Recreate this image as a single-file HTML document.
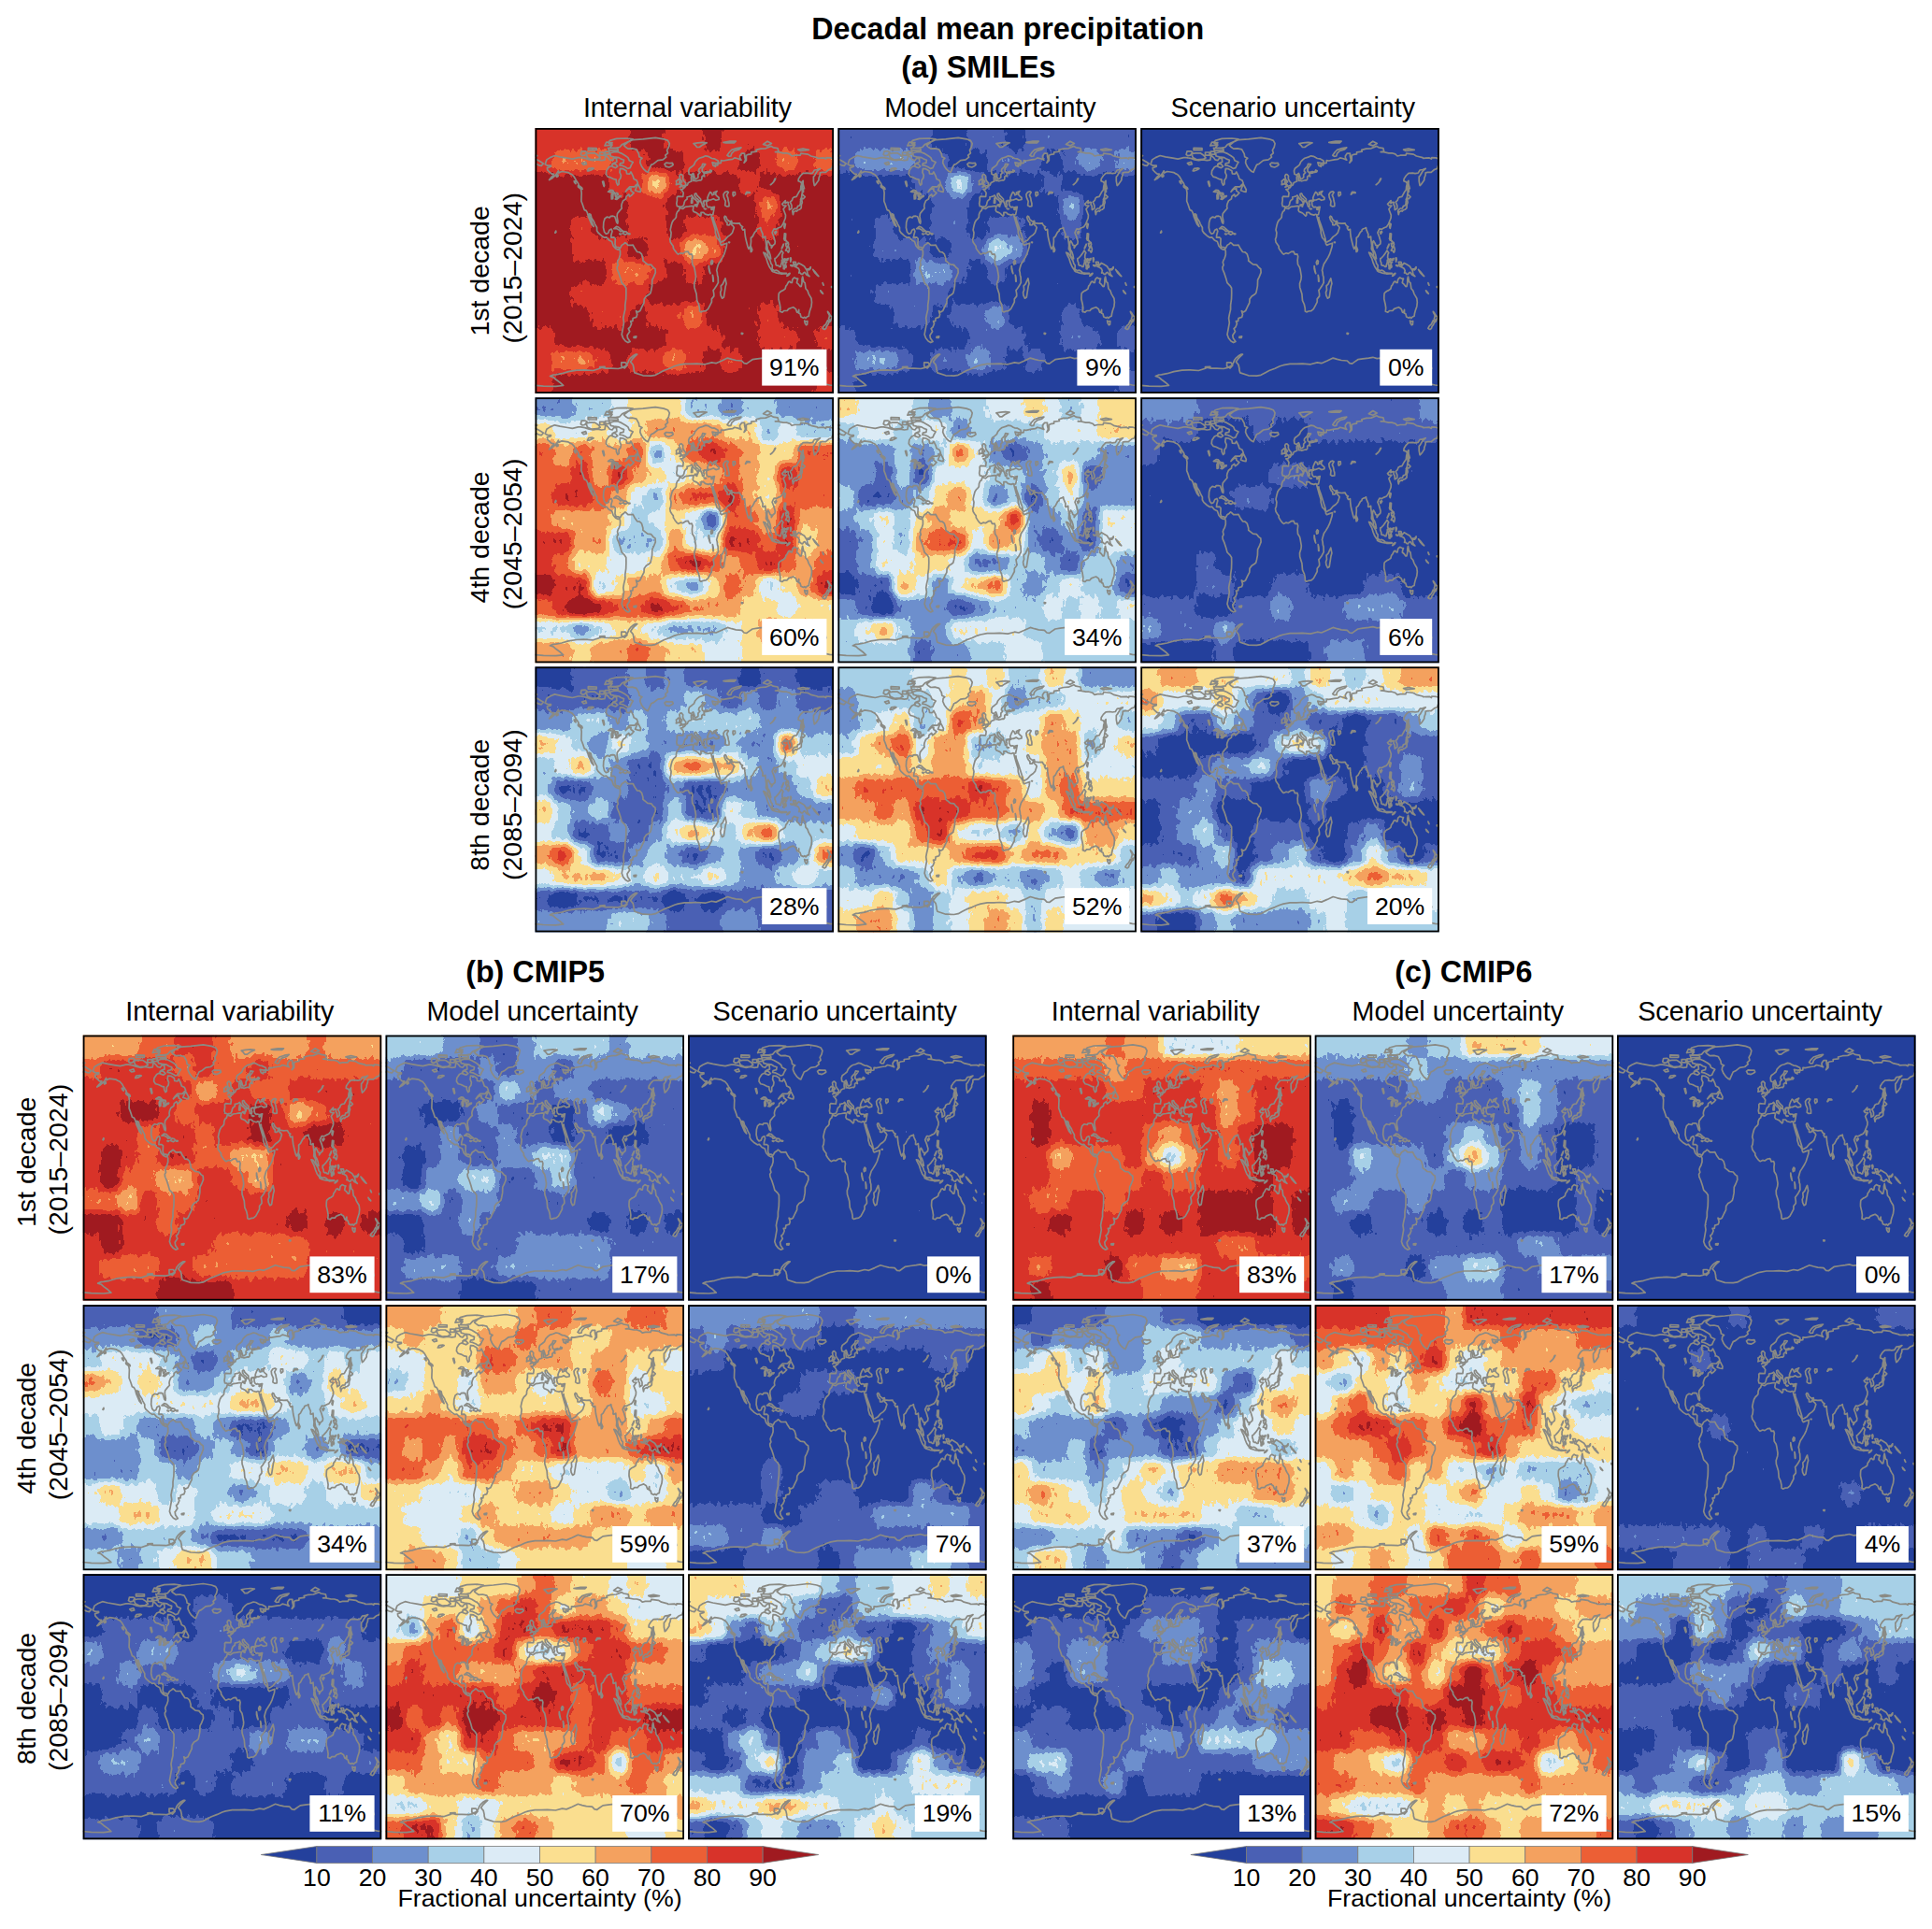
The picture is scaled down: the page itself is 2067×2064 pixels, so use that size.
<!DOCTYPE html><html><head><meta charset="utf-8"><title>Decadal mean precipitation</title>
<style>html,body{margin:0;padding:0;background:#fff}svg{display:block}text{font-family:"Liberation Sans",sans-serif;fill:#000}.b{font-weight:bold;font-size:32.3px}.t{font-size:28.7px}.r{font-size:28.5px}.s{font-size:26.7px}</style></head><body>
<svg width="2067" height="2064" viewBox="0 0 2067 2064">
<defs><filter id="q" x="0" y="0" width="100%" height="100%" color-interpolation-filters="sRGB" filterUnits="objectBoundingBox"><feGaussianBlur in="SourceGraphic" stdDeviation="5.5" result="b0"/><feGaussianBlur in="SourceGraphic" stdDeviation="16" result="b1"/><feComposite in="b0" in2="b1" operator="arithmetic" k1="0" k2="1.5" k3="-0.5" k4="0" result="b"/><feTurbulence type="fractalNoise" baseFrequency="0.21 0.12" numOctaves="2" seed="7" result="n"/><feColorMatrix in="n" type="matrix" values="1 0 0 0 0 1 0 0 0 0 1 0 0 0 0 0 0 0 0 1" result="n1"/><feComposite in="b" in2="n1" operator="arithmetic" k1="0" k2="1" k3="0.13" k4="-0.065"/><feComponentTransfer><feFuncR type="discrete" tableValues="0.1412 0.2902 0.4275 0.6588 0.8627 0.9843 0.9569 0.9255 0.8471 0.6275"/><feFuncG type="discrete" tableValues="0.2510 0.3765 0.5608 0.8157 0.9216 0.8745 0.6314 0.3725 0.2000 0.1020"/><feFuncB type="discrete" tableValues="0.6118 0.7059 0.8078 0.9098 0.9647 0.5647 0.3725 0.2078 0.1647 0.1255"/></feComponentTransfer></filter>
<path id="cst" d="M10.7 38.7L12.4 33.9L16.0 31.6L20.9 29.5L26.6 30.8L34.6 32.2L39.9 33.1L46.1 31.6L48.8 31.6L53.2 32.3L57.7 33.9L62.1 34.7L66.6 33.9L71.0 34.7L74.5 34.2L75.4 29.2L78.1 31.6L79.9 33.9L82.5 34.7L84.3 32.3L87.0 32.3L87.4 36.3L83.4 37.9L82.5 40.2L79.0 41.8L76.3 45.8L75.9 49.4L77.7 52.1L80.8 52.9L84.3 54.7L86.7 55.2L87.0 58.4L88.3 61.1L89.6 60.0L89.6 56.0L91.4 53.6L91.9 50.5L90.5 47.3L91.0 43.4L94.1 43.7L97.6 45.8L98.1 48.9L101.2 49.2L102.5 46.9L104.7 51.3L105.6 54.4L108.7 56.0L110.0 59.2L107.8 61.1L106.5 62.8L101.2 62.8L98.5 65.5L96.7 68.2L99.4 65.5L102.5 64.7L102.5 67.1L105.6 69.4L103.4 71.8L101.2 73.4L100.3 71.0L97.6 73.1L97.2 75.7L94.1 77.9L92.7 81.3L92.3 83.6L92.7 86.0L90.5 88.4L88.0 91.5L87.6 94.7L88.6 100.2L88.3 102.2L87.2 101.0L86.3 97.8L85.2 94.7L83.4 94.2L80.8 94.4L79.9 95.9L76.8 95.1L74.5 97.0L73.3 101.0L73.0 106.5L74.1 111.2L75.9 113.3L78.1 112.5L79.4 109.2L81.6 108.1L82.5 110.4L81.4 114.4L81.2 117.1L84.3 116.9L85.8 118.3L85.5 124.6L86.5 127.3L88.8 127.5L91.0 128.6L92.7 125.4L95.0 123.9L96.3 122.6L97.6 123.5L99.4 125.3L103.0 125.3L104.7 125.1L106.5 128.6L109.2 132.5L111.8 132.8L114.0 134.9L115.4 139.6L115.4 142.0L117.1 143.3L120.3 145.9L124.2 146.4L126.5 149.3L128.5 150.7L128.8 154.6L126.9 159.4L125.3 162.5L125.1 168.8L124.2 173.6L123.4 176.7L121.6 178.3L118.9 179.9L116.7 183.0L116.5 187.0L114.5 190.9L112.3 195.6L110.0 196.9L108.0 195.6L109.2 199.6L108.3 202.4L104.7 203.5L104.3 206.7L102.1 206.7L103.1 209.4L101.6 213.0L99.8 214.6L101.2 217.7L98.5 221.7L99.0 224.8L101.6 228.6L99.4 229.6L96.7 228.0L94.1 224.8L92.7 220.9L93.6 216.2L95.0 208.3L94.3 203.5L95.0 199.6L96.3 194.1L96.3 189.3L97.2 183.0L97.4 176.7L97.3 171.2L95.8 168.8L92.7 165.7L91.4 160.9L89.6 155.4L87.9 151.5L87.6 148.8L88.8 146.7L88.0 143.6L88.8 141.2L89.8 139.6L91.0 135.7L91.0 131.7L90.1 129.4L88.8 130.2L86.1 128.9L83.7 126.2L82.1 121.5L79.0 119.9L76.3 116.8L74.1 117.2L71.0 115.2L67.5 112.0L66.1 109.7L66.1 106.5L63.9 102.6L63.0 100.2L60.4 96.2L59.5 92.6L57.9 91.8L58.1 94.7L59.9 98.6L61.2 101.8L62.6 105.4L60.4 102.9L58.6 98.6L57.2 95.5L55.9 90.7L54.6 88.4L52.7 87.6L51.5 83.9L50.6 81.3L49.4 78.3L49.5 74.2L49.7 69.4L49.1 65.6L50.6 65.5L50.1 63.9L47.0 61.8L46.1 59.2L43.9 56.0L41.7 52.1L39.5 49.7L37.7 48.9L35.5 47.6L32.0 47.0L28.4 46.5L25.3 48.1L24.9 45.8L23.1 48.9L20.9 51.3L17.8 54.0L15.1 55.5L16.9 53.2L19.5 50.5L20.1 49.2L17.8 49.2L16.0 47.6L13.3 45.0L12.9 42.6L16.9 41.3L16.9 40.2L13.3 40.2L10.7 38.7M95.0 18.6L99.4 15.0L104.7 12.6L115.4 11.8L128.7 10.3L137.6 11.8L142.0 13.4L143.8 16.6L142.9 20.5L141.1 23.7L142.0 26.8L139.3 29.2L140.2 31.1L136.7 33.9L131.3 34.7L126.9 38.2L124.2 39.4L122.0 44.2L120.7 47.3L118.9 46.5L116.3 44.2L114.0 41.0L112.3 37.1L112.7 33.9L114.5 32.3L111.4 30.8L110.9 27.6L108.3 22.9L103.8 21.8L99.4 22.1L96.7 20.2L95.0 18.6M88.8 25.7L92.3 27.1L96.7 29.7L99.4 31.6L100.7 34.7L104.7 36.6L103.0 39.4L101.6 42.6L99.0 43.4L96.7 41.8L93.2 40.2L90.5 39.8L91.0 37.9L94.5 37.1L95.0 34.2L91.9 33.1L89.6 31.6L84.3 30.8L80.8 30.0L80.3 26.8L84.3 25.7L88.8 25.7M55.9 31.6L60.4 33.9L66.6 33.4L69.7 31.9L67.5 29.2L63.9 26.8L58.6 26.8L54.6 27.6L55.9 31.6M48.8 28.4L50.6 29.7L53.2 29.2L55.5 26.0L53.7 24.8L49.7 24.9L48.8 28.4M79.9 21.3L86.1 21.3L90.5 20.5L93.2 17.4L100.3 14.2L104.7 11.8L97.6 11.0L87.0 11.4L79.9 13.4L78.1 15.8L82.5 18.1L79.9 21.3M78.1 21.3L88.3 21.8L88.8 24.1L79.0 24.1L78.1 21.3M56.8 23.7L65.7 23.7L65.7 21.6L56.8 21.3L56.8 23.7M74.5 18.9L81.6 18.1L82.5 15.5L76.3 15.0L74.5 18.9M75.0 28.1L79.4 28.1L79.4 25.2L75.0 25.2L75.0 28.1M69.2 29.2L73.7 29.2L73.7 26.0L69.2 26.0L69.2 29.2M82.5 38.7L85.6 38.2L88.3 41.0L86.1 42.6L82.5 41.3L82.5 38.7M107.1 66.7L110.0 67.8L112.7 68.3L113.0 66.0L110.3 60.7L108.9 62.3L107.1 66.7M84.3 107.6L87.0 105.4L89.2 106.0L92.3 108.9L93.9 110.1L91.0 110.6L90.1 109.2L87.0 107.6L84.3 107.6M93.7 112.8L95.4 110.6L97.8 111.1L99.0 112.7L96.7 114.1L93.7 112.8M138.5 38.7L140.2 37.2L143.8 37.6L146.9 37.4L147.7 39.4L146.0 40.7L143.3 42.0L139.8 41.2L138.5 38.7M154.7 63.1L157.1 62.2L160.9 61.2L161.3 58.9L159.9 57.6L158.4 55.2L158.0 53.6L158.2 51.3L156.6 49.5L155.3 49.7L154.4 51.3L154.9 53.6L155.5 55.5L157.1 56.8L157.1 57.9L155.8 58.1L156.0 59.5L155.1 60.3L156.9 60.9L154.7 63.1M150.9 60.6L154.2 59.6L154.4 57.6L154.9 56.0L153.3 54.7L152.2 56.0L150.9 56.8L151.3 58.4L150.9 60.6M151.8 74.2L152.7 73.1L156.6 73.4L158.2 73.5L158.7 69.4L157.5 67.4L155.6 65.6L158.3 65.3L158.4 63.6L159.9 63.9L161.2 61.8L162.9 60.9L163.9 58.4L166.0 57.4L167.4 57.0L167.0 54.4L167.0 52.1L169.1 51.0L168.9 53.6L169.3 56.3L170.8 56.2L172.4 56.8L176.2 55.7L177.3 56.0L178.4 54.7L178.4 52.1L179.7 51.0L181.3 51.8L180.6 48.6L184.6 47.8L186.4 47.3L183.7 46.5L180.2 47.5L178.8 46.4L178.7 43.4L181.5 39.8L182.2 38.7L179.3 38.3L178.4 41.0L175.3 44.2L175.0 46.2L176.4 47.6L174.4 49.7L174.4 52.9L172.4 54.4L171.1 54.4L169.7 49.7L169.1 48.4L166.9 50.3L164.6 49.2L164.2 45.8L165.1 43.2L167.7 41.3L170.0 39.4L171.3 36.3L173.5 33.9L175.7 32.2L179.3 31.1L182.4 29.8L185.0 30.3L187.3 31.6L189.0 32.5L191.7 32.8L195.7 35.0L196.1 37.1L193.5 37.6L189.5 36.8L190.6 40.2L193.0 41.3L192.6 39.4L195.3 39.9L195.7 37.9L198.8 37.4L199.0 34.7L201.5 35.0L207.2 33.9L211.2 33.4L213.4 31.9L217.0 32.8L220.5 34.2L219.2 32.3L219.0 30.0L221.0 27.1L224.1 27.1L224.1 30.0L225.0 33.9L223.6 37.1L225.9 34.7L225.9 29.2L227.6 28.4L231.2 27.9L231.2 25.9L237.0 25.2L236.5 23.4L241.4 22.1L246.7 21.8L252.5 19.4L254.7 20.8L259.6 21.6L260.5 25.2L256.9 25.6L260.0 25.7L265.4 26.8L268.9 26.8L272.5 27.9L274.7 30.0L277.8 29.2L283.6 29.2L284.4 27.1L292.0 28.1L295.1 30.0L301.8 31.6L302.2 32.3L308.9 31.9L311.1 33.1L311.5 31.6L315.9 31.9L319.5 33.1M319.5 39.4L318.2 40.5L317.3 43.4L314.2 44.5L310.9 47.3L307.1 47.3L304.9 47.8L304.7 50.5L303.5 53.6L303.5 55.5L301.8 58.1L300.2 60.3L298.8 61.5L297.9 56.8L297.9 52.1L299.1 50.8L301.6 46.5L304.9 43.4L301.8 44.5L298.8 45.0L296.9 48.1L293.8 48.6L291.1 48.1L286.7 48.4L284.0 51.0L281.8 54.4L281.6 56.8L284.0 57.6L285.2 59.6L284.4 62.3L284.0 66.3L282.2 68.6L279.6 73.4L277.3 73.8L275.7 74.9L274.9 77.3L272.9 79.2L274.5 82.8L274.5 86.0L272.0 87.6L271.8 83.6L270.7 82.0L270.9 79.5L269.8 79.2L267.6 80.5L267.8 77.6L265.4 80.2L264.2 81.3L265.4 82.8L268.5 83.1L266.7 85.2L265.6 86.8L267.1 90.7L268.0 93.1L267.8 96.2L266.2 100.2L264.9 103.3L263.1 105.7L260.5 106.8L257.6 108.4L256.9 108.1L255.6 107.9L254.3 110.4L253.6 112.0L255.2 116.0L256.8 121.5L256.5 123.9L254.4 125.7L252.8 128.3L252.9 125.7L251.6 125.4L250.7 123.1L249.2 120.7L248.5 121.8L248.1 125.4L248.9 130.2L250.3 132.2L251.5 135.7L252.2 139.8L251.4 139.6L249.4 137.3L248.8 132.5L247.0 129.4L247.3 125.4L246.5 119.1L246.3 116.0L244.3 117.1L243.4 116.8L243.6 113.6L241.6 108.9L241.2 106.5L240.1 107.3L238.3 107.8L237.0 108.6L236.5 110.4L235.2 111.2L232.7 116.0L230.9 117.5L231.0 121.5L230.6 125.7L229.2 128.1L228.5 129.4L227.5 127.0L226.1 121.5L225.0 116.8L224.4 112.0L224.2 108.4L222.3 109.2L221.0 106.8L222.1 105.7L220.3 104.6L219.2 102.9L218.8 101.9L214.8 102.2L210.6 101.6L210.2 99.4L208.1 100.0L205.5 98.0L204.1 94.7L203.1 94.2L202.3 95.5L203.1 98.1L204.3 100.2L205.5 101.1L205.5 103.7L207.7 103.8L209.4 101.0L210.0 103.3L211.8 104.9L212.8 106.5L211.0 112.0L208.8 114.4L205.9 116.4L203.0 119.9L199.7 121.8L198.2 122.0L197.6 118.3L196.1 113.6L194.4 108.1L193.0 103.8L190.8 97.8L190.6 95.5L190.2 98.1L188.7 94.8L188.4 92.8L190.2 92.6L190.8 89.9L191.5 86.0L191.9 84.3L189.9 84.7L188.2 85.0L186.8 84.4L185.5 84.9L184.0 83.6L183.3 81.3L183.4 79.7L183.0 78.7L185.5 77.6L185.7 77.0L187.7 77.0L190.8 75.7L193.5 77.3L196.6 76.5L196.6 74.5L194.4 72.6L193.0 71.0L193.7 68.6L194.6 67.5L191.0 69.1L191.5 70.7L189.5 71.8L188.8 69.7L187.3 68.5L186.1 70.5L185.2 72.6L184.4 74.9L184.8 76.5L183.1 77.6L181.0 77.6L180.9 78.9L180.0 78.3L180.0 80.0L181.0 82.0L180.3 84.4L179.1 83.9L178.6 81.6L177.1 78.1L177.1 76.0L175.3 74.2L173.2 72.1L172.6 70.5L171.9 69.9L170.7 70.5L170.8 72.6L172.2 74.9L173.9 76.0L176.2 78.6L174.8 78.1L174.5 80.5L173.9 82.0L173.7 81.9L173.9 79.7L173.3 78.7L172.0 77.0L170.7 76.2L169.1 74.2L167.6 71.9L166.4 72.9L164.0 73.5L162.6 73.8L162.6 76.0L160.5 77.6L159.6 79.7L159.3 81.6L158.0 83.9L155.8 84.1L154.9 85.0L154.0 83.9L151.9 83.6L151.3 80.9L151.9 77.3L151.8 74.2M0.0 33.1L2.7 34.2L6.2 36.3L8.9 37.9L6.7 40.4L4.0 39.8L1.8 38.7L0.0 39.4M201.9 74.2L201.5 71.0L203.2 68.6L205.5 67.8L206.8 68.6L205.5 71.0L205.0 71.8L206.3 74.9L206.8 78.1L207.5 80.5L207.5 83.6L205.0 83.9L203.2 82.7L203.7 78.4L201.9 74.2M154.5 85.5L158.0 86.5L160.6 84.4L164.2 83.9L167.7 83.3L169.5 83.6L168.8 87.9L169.7 89.5L171.3 90.1L173.3 91.0L176.6 94.2L177.5 93.1L177.5 90.4L180.2 90.4L181.9 92.1L185.5 93.1L187.3 92.3L188.4 92.8L188.7 94.8L189.6 98.1L191.3 104.1L192.8 108.9L192.9 112.3L194.4 117.5L196.1 119.1L198.1 122.3L198.2 123.9L199.2 125.4L201.9 124.3L205.2 123.2L204.8 127.0L202.3 134.9L200.6 138.4L197.9 142.8L196.1 145.5L195.0 149.1L194.2 152.3L194.8 154.6L195.1 157.8L195.7 159.4L195.9 165.4L193.9 169.1L192.1 171.7L190.6 173.6L191.3 177.5L191.3 179.9L188.9 182.9L188.9 186.2L187.3 189.3L185.0 193.6L182.6 195.6L179.7 196.0L177.5 196.9L176.1 196.0L175.9 192.5L175.0 188.5L173.2 184.6L172.6 177.5L170.4 170.4L170.2 166.5L171.7 161.7L172.0 158.6L170.8 151.5L170.2 149.1L168.2 145.9L167.9 141.2L168.4 137.3L167.6 134.9L165.1 135.2L163.7 132.1L161.1 132.4L158.0 134.4L155.8 133.8L153.1 135.1L151.8 134.1L149.5 131.1L147.9 128.6L147.8 126.5L146.4 124.6L144.8 122.3L144.2 118.8L145.1 116.8L145.6 112.0L144.7 108.9L145.6 104.6L146.6 101.0L148.2 98.3L149.5 97.3L150.9 95.5L151.1 92.3L152.2 89.5L153.7 88.4L154.5 85.5M203.5 160.9L204.6 166.5L203.7 169.6L201.9 181.1L200.1 182.2L198.6 179.1L198.2 175.9L199.2 173.2L198.8 168.8L200.8 166.8L202.3 163.3L203.5 160.9M230.8 126.5L232.3 130.2L231.6 132.2L230.8 132.5L230.5 129.4L230.8 126.5M275.3 89.0L276.0 92.6L276.7 89.9L279.1 88.4L279.8 89.1L281.2 87.7L282.8 87.3L284.7 85.7L284.9 82.0L285.8 79.7L285.3 76.7L284.0 77.9L283.8 81.3L282.7 83.1L281.2 83.3L280.4 85.2L280.2 85.8L277.8 86.0L276.0 87.7L275.3 89.0M284.0 76.4L285.1 74.2L285.5 70.4L287.1 72.1L288.7 73.7L286.9 75.7L284.9 74.9L284.0 76.4M285.8 69.4L287.1 68.2L286.9 64.7L288.0 64.7L286.7 60.0L286.7 56.3L285.8 57.6L285.8 63.1L285.8 69.4M267.1 102.2L267.9 102.9L267.0 107.3L266.3 105.7L267.1 102.2M256.2 111.5L257.8 110.4L258.3 111.2L256.9 113.3L256.2 111.5M266.5 116.8L266.8 112.8L268.2 113.0L268.0 116.8L267.8 119.4L269.8 122.0L269.4 122.1L268.0 120.2L267.0 120.2L266.2 118.3L266.5 116.8M268.0 131.0L269.4 128.4L271.1 126.7L272.0 129.4L271.6 132.1L271.0 133.2L269.8 131.3L268.0 131.0M268.0 123.4L269.1 123.9L270.7 122.3L271.2 124.6L270.5 126.2L269.2 127.3L268.5 126.2L268.0 123.4M263.8 128.6L265.8 124.2L265.5 125.9L264.0 128.9L263.8 128.6M256.5 139.6L257.4 139.3L258.4 138.2L260.0 136.5L262.3 133.3L263.6 131.0L265.4 133.6L264.5 135.4L264.3 138.8L265.4 140.4L264.0 141.2L264.0 143.6L262.9 146.7L262.7 148.3L261.4 148.3L260.0 147.0L258.7 147.2L257.6 146.4L257.4 144.1L256.5 142.0L256.5 139.6M244.3 133.2L246.3 133.8L248.8 137.6L251.6 142.0L252.5 145.2L253.8 146.7L253.6 151.2L252.5 151.2L250.5 148.3L248.9 144.4L247.3 139.3L245.8 136.5L244.3 133.2M253.1 152.7L254.4 151.5L256.1 152.6L258.1 152.1L259.8 152.9L261.3 154.1L261.3 155.6L258.7 155.1L256.0 154.3L254.3 153.7L253.1 152.7M262.3 155.1L263.6 155.1L265.4 155.3L266.7 155.3L268.9 155.3L268.7 155.9L266.2 156.0L263.6 156.2L262.3 155.7L262.3 155.1M269.4 158.3L270.7 156.2L272.6 155.3L272.0 156.5L270.2 158.1L269.4 158.3M266.1 140.7L267.0 139.9L268.9 140.6L270.7 139.5L270.2 141.4L267.6 141.2L266.7 142.0L267.4 143.6L269.2 143.4L267.8 145.0L268.7 148.3L268.2 149.4L267.6 146.7L267.1 146.3L266.7 150.8L265.8 150.7L265.8 147.5L265.2 146.4L266.1 140.7M272.9 139.2L273.5 138.8L274.0 140.4L273.3 143.1L273.1 141.2L272.9 139.2M273.3 146.7L275.8 147.0L275.6 147.8L273.6 147.5L273.3 146.7M276.0 143.3L278.7 143.3L279.6 147.2L282.0 144.4L284.9 146.1L288.0 148.0L290.9 152.6L291.5 156.2L293.6 158.7L290.4 157.0L288.4 154.3L287.1 154.9L286.2 156.5L284.9 156.4L283.1 154.6L282.2 155.1L282.9 152.7L281.8 150.2L279.6 148.9L277.6 148.3L277.8 145.9L276.9 146.4L276.0 143.3M291.4 150.8L293.3 150.7L294.8 148.6L294.7 150.2L293.3 151.8L291.5 151.5L291.4 150.8M297.3 151.5L299.5 153.8L301.8 156.7L303.3 158.6L301.8 157.5L299.1 154.6L297.3 151.5M305.3 173.9L307.5 176.4L308.0 177.3L306.2 175.9L305.3 173.9M307.6 165.7L308.2 166.9L308.7 168.2L308.1 167.2L307.6 165.7M317.1 169.5L318.3 169.8L318.1 170.7L317.1 170.4L317.1 169.5M260.7 177.5L261.1 176.4L263.4 174.5L265.4 173.6L267.6 172.0L268.3 169.1L269.5 167.7L271.1 164.6L272.5 164.1L273.6 165.5L274.8 165.5L275.3 162.2L276.0 161.2L277.4 160.0L279.8 161.2L281.2 161.2L280.4 163.3L280.0 165.7L281.8 167.2L283.6 169.6L284.7 169.5L285.5 165.7L285.5 161.7L286.2 159.0L287.3 164.6L288.7 165.7L289.5 171.7L291.5 174.0L292.6 177.3L293.8 179.4L295.5 182.2L296.0 186.5L295.5 190.9L294.0 195.3L293.1 198.8L292.8 201.2L290.9 202.0L289.6 203.5L288.3 202.3L287.1 203.2L284.4 202.0L283.6 198.8L282.2 198.3L282.2 194.4L281.3 197.5L280.2 197.1L278.9 193.6L276.2 191.7L273.8 192.5L271.1 193.6L269.6 195.5L266.2 195.5L264.5 197.2L262.0 196.3L262.4 192.5L261.8 188.5L260.5 183.0L260.5 180.7L260.7 177.5M288.2 206.2L289.8 207.0L291.4 206.5L291.1 210.2L290.0 210.8L288.7 208.7L288.2 206.2M313.0 196.3L314.4 198.0L315.5 200.1L316.8 201.6L318.2 201.5L317.5 203.8L316.8 204.3L316.1 206.7L315.1 207.5L314.9 205.1L314.0 204.0L314.8 202.0L314.8 200.1L313.3 197.5L313.0 196.3M313.0 205.9L314.4 207.2L314.0 208.6L313.0 210.8L311.7 212.4L311.2 214.4L309.7 215.5L308.4 214.9L307.5 214.3L309.0 211.7L311.1 209.8L312.0 208.0L313.0 205.9M0.0 275.3L8.9 276.1L22.2 276.4L30.2 275.5L26.6 272.2L22.2 269.0L19.5 266.6L16.0 265.5L19.5 264.0L22.2 263.8L28.4 262.7L35.5 260.6L44.4 259.2L53.2 258.8L62.1 259.5L69.2 257.2L71.0 256.1L75.4 257.2L81.6 257.2L88.8 257.5L93.2 256.4L97.6 254.0L99.4 250.9L100.3 248.5L102.1 246.1L104.7 243.8L107.4 242.2L109.2 242.2L106.5 244.6L104.3 246.9L102.1 250.1L104.7 253.2L105.6 257.2L105.6 258.8L106.5 261.9L115.4 264.8L124.2 265.1L128.7 264.3L133.1 261.9L137.6 259.5L143.8 257.2L149.1 254.8L152.7 253.7L159.8 252.4L166.9 252.4L173.1 252.1L181.9 252.8L189.0 250.9L193.5 251.7L199.7 249.0L205.9 246.1L210.3 247.4L214.8 248.5L221.0 249.0L223.6 251.7L226.3 252.1L229.0 250.1L232.5 247.7L237.8 246.9L244.1 246.1L248.5 245.3L252.9 246.6L257.4 246.1L261.8 246.9L266.2 247.4L270.7 246.6L275.1 246.1L279.6 245.8L284.0 246.9L288.4 247.7L292.9 249.8L297.3 250.9L301.8 252.4L306.2 253.7L310.6 254.8L311.5 257.2L308.0 260.3L305.3 263.5L307.1 265.1L304.4 267.4L301.8 269.8L306.2 273.0L315.1 275.0L319.5 275.3M92.3 250.9L96.7 250.9L98.5 254.0L95.8 256.9L92.3 254.8L92.3 250.9M69.2 255.6L74.5 255.3L74.5 256.4L69.2 256.5L69.2 255.6M169.5 16.6L173.9 15.8L179.3 15.3L183.7 15.8L178.4 18.5L175.7 20.5L173.1 20.5L171.7 18.6L169.5 16.6M205.5 29.2L207.7 26.0L210.3 23.4L215.7 21.6L220.5 20.8L218.3 22.9L213.0 24.5L210.3 27.1L209.4 30.0L207.2 30.3L205.5 29.2M244.1 17.4L248.5 14.2L252.9 16.6L248.5 18.9L244.1 17.4M201.5 15.3L208.6 14.2L214.8 14.2L213.0 15.8L204.1 15.8L201.5 15.3M281.3 23.2L286.7 22.1L292.9 23.4L288.4 24.0L284.0 24.5L281.3 23.2M318.2 29.7L319.5 29.2M0.0 29.2L2.2 29.7L0.9 30.3L0.0 30.1M319.5 30.1L318.2 29.7M170.8 82.0L173.5 81.7L173.2 84.1L170.8 82.7L170.8 82.0M167.0 80.2L167.1 77.3L168.4 77.3L168.3 80.2L167.0 80.2M167.4 75.7L168.1 74.2L168.2 76.4L167.6 76.5L167.4 75.7M180.7 86.0L183.1 86.5L181.8 86.9L180.7 86.0M188.4 86.8L190.4 85.8L189.8 86.9L188.8 87.4L188.4 86.8M21.3 112.0L22.2 110.1L22.4 111.4L21.6 112.2L21.3 112.0M22.6 51.3L24.4 50.0L24.6 51.6L23.1 52.4L22.6 51.3M45.9 61.8L48.4 62.6L50.1 65.6L48.8 65.2L46.1 63.1L45.9 61.8M41.7 56.8L42.9 56.8L43.5 59.6L42.2 58.4L41.7 56.8M100.1 112.8L101.5 113.0L101.4 113.6L100.1 113.6L100.1 112.8M90.3 113.0L92.0 113.3L91.4 113.9L90.3 113.3L90.3 113.0M105.6 223.3L108.3 222.9L107.8 224.5L105.6 224.4L105.6 223.3M220.8 219.3L222.3 219.5L221.9 220.4L220.9 220.3L220.8 219.3M207.1 122.1L208.1 122.1L207.9 122.6L207.1 122.4L207.1 122.1M188.0 143.6L189.0 141.5L190.1 142.5L189.8 145.2L188.4 145.9L188.0 143.6M185.8 147.5L186.2 149.9L187.1 154.6L187.4 155.6L186.6 153.8L185.8 150.4L185.8 147.5M189.9 157.3L190.6 160.1L190.8 164.1L190.4 164.1L190.2 160.9L189.9 157.3M78.1 68.2L80.8 66.3L83.0 66.6L84.6 68.5L82.5 68.6L79.4 68.3L78.1 68.2M81.8 76.0L83.2 75.7L83.4 71.3L84.5 69.7L85.6 70.7L85.8 72.6L86.5 74.0L87.2 73.5L87.7 71.0L88.8 71.3L88.3 69.7L85.6 69.3L84.3 69.4L82.5 69.9L81.6 71.8L81.8 76.0M85.8 76.0L87.4 76.4L89.6 74.6L89.2 73.8L91.4 73.7L92.0 72.6L89.6 72.9L89.0 73.7L88.3 74.8L86.5 75.6L85.8 76.0M72.1 57.3L73.2 57.1L74.1 61.5L73.7 62.5L72.8 60.0L72.1 57.3M50.1 37.6L54.1 36.3L55.0 38.7L51.9 39.4L50.1 37.6M55.9 45.8L57.2 43.4L61.2 42.9L62.6 43.4L59.9 45.0L57.7 45.8L55.9 45.8M211.7 68.6L213.9 68.6L214.1 71.3L212.1 72.9L211.5 71.0L211.7 68.6M251.9 60.7L253.8 59.2L256.0 56.5L257.2 54.1L256.5 54.4L255.2 57.6L252.9 60.0L251.9 60.7M225.0 71.0L226.3 68.3L229.4 68.5L229.9 69.4L226.8 69.4L225.4 71.0L225.0 71.0M186.4 47.3L187.3 45.0L188.9 45.8L188.4 47.0L186.4 47.3" fill="none" stroke="#8a8a84" stroke-width="1.7" stroke-linejoin="round" stroke-linecap="round"/></defs>
<rect width="2067" height="2064" fill="#fff"/>
<text class="b" x="1078.3" y="41.5" text-anchor="middle">Decadal mean precipitation</text>
<text class="b" x="1046.9" y="83.4" text-anchor="middle">(a) SMILEs</text>
<text class="b" x="572.6" y="1051.2" text-anchor="middle">(b) CMIP5</text>
<text class="b" x="1565.8" y="1051.2" text-anchor="middle">(c) CMIP6</text>
<text class="t" x="735.5" y="124.7" text-anchor="middle">Internal variability</text>
<text class="t" x="1059.5" y="124.7" text-anchor="middle">Model uncertainty</text>
<text class="t" x="1383.3" y="124.7" text-anchor="middle">Scenario uncertainty</text>
<text class="r" transform="translate(523.3 289.9) rotate(-90)" text-anchor="middle">1st decade</text>
<text class="r" transform="translate(558.0 286.8) rotate(-90)" text-anchor="middle">(2015–2024)</text>
<text class="r" transform="translate(523.3 574.9) rotate(-90)" text-anchor="middle">4th decade</text>
<text class="r" transform="translate(558.0 571.4) rotate(-90)" text-anchor="middle">(2045–2054)</text>
<text class="r" transform="translate(523.3 861.2) rotate(-90)" text-anchor="middle">8th decade</text>
<text class="r" transform="translate(558.0 861.2) rotate(-90)" text-anchor="middle">(2085–2094)</text>
<svg x="572.5" y="137.0" width="319.5" height="284.0" viewBox="572.5 137.0 319.5 284.0"><g filter="url(#q)">
<rect x="512.5" y="77.0" width="439.5" height="404.0" fill="rgb(13,13,13)"/>
<rect x="512.5" y="77.0" width="160.1" height="84.0" fill="rgb(217,217,217)"/><rect x="672.3" y="77.0" width="40.2" height="84.0" fill="rgb(242,242,242)"/><rect x="712.3" y="77.0" width="40.2" height="84.0" fill="rgb(217,217,217)"/><rect x="752.2" y="77.0" width="20.3" height="84.0" fill="rgb(242,242,242)"/><rect x="772.2" y="77.0" width="180.1" height="84.0" fill="rgb(217,217,217)"/><rect x="512.5" y="160.7" width="80.3" height="24.0" fill="rgb(217,217,217)"/><rect x="592.5" y="160.7" width="60.2" height="24.0" fill="rgb(191,191,191)"/><rect x="652.4" y="160.7" width="40.2" height="24.0" fill="rgb(217,217,217)"/><rect x="692.3" y="160.7" width="40.2" height="24.0" fill="rgb(242,242,242)"/><rect x="732.2" y="160.7" width="60.2" height="24.0" fill="rgb(217,217,217)"/><rect x="792.2" y="160.7" width="20.3" height="24.0" fill="rgb(242,242,242)"/><rect x="812.1" y="160.7" width="20.3" height="24.0" fill="rgb(217,217,217)"/><rect x="832.1" y="160.7" width="20.3" height="24.0" fill="rgb(191,191,191)"/><rect x="852.1" y="160.7" width="20.3" height="24.0" fill="rgb(217,217,217)"/><rect x="872.0" y="160.7" width="80.3" height="24.0" fill="rgb(191,191,191)"/><rect x="512.5" y="184.3" width="140.2" height="24.0" fill="rgb(242,242,242)"/><rect x="652.4" y="184.3" width="40.2" height="24.0" fill="rgb(217,217,217)"/><rect x="692.3" y="184.3" width="20.3" height="24.0" fill="rgb(166,166,166)"/><rect x="712.3" y="184.3" width="20.3" height="24.0" fill="rgb(217,217,217)"/><rect x="732.2" y="184.3" width="60.2" height="24.0" fill="rgb(242,242,242)"/><rect x="792.2" y="184.3" width="20.3" height="24.0" fill="rgb(217,217,217)"/><rect x="812.1" y="184.3" width="140.2" height="24.0" fill="rgb(242,242,242)"/><rect x="512.5" y="208.0" width="160.1" height="24.0" fill="rgb(242,242,242)"/><rect x="672.3" y="208.0" width="40.2" height="24.0" fill="rgb(217,217,217)"/><rect x="712.3" y="208.0" width="100.1" height="24.0" fill="rgb(242,242,242)"/><rect x="812.1" y="208.0" width="20.3" height="24.0" fill="rgb(191,191,191)"/><rect x="832.1" y="208.0" width="120.2" height="24.0" fill="rgb(242,242,242)"/><rect x="512.5" y="231.7" width="100.2" height="24.0" fill="rgb(242,242,242)"/><rect x="612.4" y="231.7" width="20.3" height="24.0" fill="rgb(217,217,217)"/><rect x="632.4" y="231.7" width="40.2" height="24.0" fill="rgb(242,242,242)"/><rect x="672.3" y="231.7" width="40.2" height="24.0" fill="rgb(217,217,217)"/><rect x="712.3" y="231.7" width="20.3" height="24.0" fill="rgb(242,242,242)"/><rect x="732.2" y="231.7" width="40.2" height="24.0" fill="rgb(217,217,217)"/><rect x="772.2" y="231.7" width="40.2" height="24.0" fill="rgb(242,242,242)"/><rect x="812.1" y="231.7" width="20.3" height="24.0" fill="rgb(217,217,217)"/><rect x="832.1" y="231.7" width="120.2" height="24.0" fill="rgb(242,242,242)"/><rect x="512.5" y="255.3" width="100.2" height="24.0" fill="rgb(242,242,242)"/><rect x="612.4" y="255.3" width="60.2" height="24.0" fill="rgb(217,217,217)"/><rect x="672.3" y="255.3" width="20.3" height="24.0" fill="rgb(242,242,242)"/><rect x="692.3" y="255.3" width="40.2" height="24.0" fill="rgb(217,217,217)"/><rect x="732.2" y="255.3" width="20.3" height="24.0" fill="rgb(166,166,166)"/><rect x="752.2" y="255.3" width="20.3" height="24.0" fill="rgb(191,191,191)"/><rect x="772.2" y="255.3" width="180.1" height="24.0" fill="rgb(242,242,242)"/><rect x="512.5" y="279.0" width="140.2" height="24.0" fill="rgb(242,242,242)"/><rect x="652.4" y="279.0" width="40.2" height="24.0" fill="rgb(191,191,191)"/><rect x="692.3" y="279.0" width="20.3" height="24.0" fill="rgb(217,217,217)"/><rect x="712.3" y="279.0" width="20.3" height="24.0" fill="rgb(242,242,242)"/><rect x="732.2" y="279.0" width="20.3" height="24.0" fill="rgb(217,217,217)"/><rect x="752.2" y="279.0" width="200.1" height="24.0" fill="rgb(242,242,242)"/><rect x="512.5" y="302.7" width="100.2" height="24.0" fill="rgb(242,242,242)"/><rect x="612.4" y="302.7" width="80.2" height="24.0" fill="rgb(217,217,217)"/><rect x="692.3" y="302.7" width="260.0" height="24.0" fill="rgb(242,242,242)"/><rect x="512.5" y="326.3" width="120.2" height="24.0" fill="rgb(242,242,242)"/><rect x="632.4" y="326.3" width="40.2" height="24.0" fill="rgb(217,217,217)"/><rect x="672.3" y="326.3" width="20.3" height="24.0" fill="rgb(242,242,242)"/><rect x="692.3" y="326.3" width="40.2" height="24.0" fill="rgb(217,217,217)"/><rect x="732.2" y="326.3" width="20.3" height="24.0" fill="rgb(191,191,191)"/><rect x="752.2" y="326.3" width="60.2" height="24.0" fill="rgb(242,242,242)"/><rect x="812.1" y="326.3" width="20.3" height="24.0" fill="rgb(217,217,217)"/><rect x="832.1" y="326.3" width="120.2" height="24.0" fill="rgb(242,242,242)"/><rect x="512.5" y="350.0" width="80.3" height="24.0" fill="rgb(217,217,217)"/><rect x="592.5" y="350.0" width="120.1" height="24.0" fill="rgb(242,242,242)"/><rect x="712.3" y="350.0" width="60.2" height="24.0" fill="rgb(217,217,217)"/><rect x="772.2" y="350.0" width="40.2" height="24.0" fill="rgb(242,242,242)"/><rect x="812.1" y="350.0" width="40.2" height="24.0" fill="rgb(217,217,217)"/><rect x="852.1" y="350.0" width="20.3" height="24.0" fill="rgb(242,242,242)"/><rect x="872.0" y="350.0" width="80.3" height="24.0" fill="rgb(217,217,217)"/><rect x="512.5" y="373.7" width="80.3" height="24.0" fill="rgb(217,217,217)"/><rect x="592.5" y="373.7" width="40.2" height="24.0" fill="rgb(191,191,191)"/><rect x="632.4" y="373.7" width="20.3" height="24.0" fill="rgb(217,217,217)"/><rect x="652.4" y="373.7" width="20.3" height="24.0" fill="rgb(242,242,242)"/><rect x="672.3" y="373.7" width="40.2" height="24.0" fill="rgb(217,217,217)"/><rect x="712.3" y="373.7" width="20.3" height="24.0" fill="rgb(191,191,191)"/><rect x="732.2" y="373.7" width="20.3" height="24.0" fill="rgb(217,217,217)"/><rect x="752.2" y="373.7" width="20.3" height="24.0" fill="rgb(242,242,242)"/><rect x="772.2" y="373.7" width="20.3" height="24.0" fill="rgb(217,217,217)"/><rect x="792.2" y="373.7" width="160.1" height="24.0" fill="rgb(242,242,242)"/><rect x="512.5" y="397.3" width="80.3" height="84.0" fill="rgb(217,217,217)"/><rect x="592.5" y="397.3" width="279.9" height="84.0" fill="rgb(242,242,242)"/><rect x="872.0" y="397.3" width="80.3" height="84.0" fill="rgb(217,217,217)"/>
</g>
<use href="#cst" x="572.5" y="137.0"/>
</svg>
<rect x="815.2" y="373.8" width="69.2" height="38.8" fill="#fff"/>
<text class="s" x="849.8" y="402.2" text-anchor="middle">91%</text>
<rect x="573.4" y="137.9" width="317.7" height="282.2" fill="none" stroke="#000" stroke-width="1.8"/>
<svg x="896.4" y="137.0" width="319.5" height="284.0" viewBox="896.4 137.0 319.5 284.0"><g filter="url(#q)">
<rect x="836.4" y="77.0" width="439.5" height="404.0" fill="rgb(13,13,13)"/>
<rect x="836.4" y="77.0" width="160.1" height="84.0" fill="rgb(38,38,38)"/><rect x="996.2" y="77.0" width="40.2" height="84.0" fill="rgb(13,13,13)"/><rect x="1036.2" y="77.0" width="40.2" height="84.0" fill="rgb(38,38,38)"/><rect x="1076.1" y="77.0" width="20.3" height="84.0" fill="rgb(13,13,13)"/><rect x="1096.1" y="77.0" width="180.1" height="84.0" fill="rgb(38,38,38)"/><rect x="836.4" y="160.7" width="80.3" height="24.0" fill="rgb(38,38,38)"/><rect x="916.4" y="160.7" width="60.2" height="24.0" fill="rgb(64,64,64)"/><rect x="976.3" y="160.7" width="40.2" height="24.0" fill="rgb(38,38,38)"/><rect x="1016.2" y="160.7" width="40.2" height="24.0" fill="rgb(13,13,13)"/><rect x="1056.2" y="160.7" width="60.2" height="24.0" fill="rgb(38,38,38)"/><rect x="1116.1" y="160.7" width="20.3" height="24.0" fill="rgb(13,13,13)"/><rect x="1136.0" y="160.7" width="20.3" height="24.0" fill="rgb(38,38,38)"/><rect x="1156.0" y="160.7" width="20.3" height="24.0" fill="rgb(64,64,64)"/><rect x="1176.0" y="160.7" width="20.3" height="24.0" fill="rgb(38,38,38)"/><rect x="1195.9" y="160.7" width="80.3" height="24.0" fill="rgb(64,64,64)"/><rect x="836.4" y="184.3" width="140.2" height="24.0" fill="rgb(13,13,13)"/><rect x="976.3" y="184.3" width="40.2" height="24.0" fill="rgb(38,38,38)"/><rect x="1016.2" y="184.3" width="20.3" height="24.0" fill="rgb(89,89,89)"/><rect x="1036.2" y="184.3" width="20.3" height="24.0" fill="rgb(38,38,38)"/><rect x="1056.2" y="184.3" width="60.2" height="24.0" fill="rgb(13,13,13)"/><rect x="1116.1" y="184.3" width="20.3" height="24.0" fill="rgb(38,38,38)"/><rect x="1136.0" y="184.3" width="140.2" height="24.0" fill="rgb(13,13,13)"/><rect x="836.4" y="208.0" width="160.1" height="24.0" fill="rgb(13,13,13)"/><rect x="996.2" y="208.0" width="40.2" height="24.0" fill="rgb(38,38,38)"/><rect x="1036.2" y="208.0" width="100.1" height="24.0" fill="rgb(13,13,13)"/><rect x="1136.0" y="208.0" width="20.3" height="24.0" fill="rgb(64,64,64)"/><rect x="1156.0" y="208.0" width="120.2" height="24.0" fill="rgb(13,13,13)"/><rect x="836.4" y="231.7" width="100.2" height="24.0" fill="rgb(13,13,13)"/><rect x="936.3" y="231.7" width="20.3" height="24.0" fill="rgb(38,38,38)"/><rect x="956.3" y="231.7" width="40.2" height="24.0" fill="rgb(13,13,13)"/><rect x="996.2" y="231.7" width="40.2" height="24.0" fill="rgb(38,38,38)"/><rect x="1036.2" y="231.7" width="20.3" height="24.0" fill="rgb(13,13,13)"/><rect x="1056.2" y="231.7" width="40.2" height="24.0" fill="rgb(38,38,38)"/><rect x="1096.1" y="231.7" width="40.2" height="24.0" fill="rgb(13,13,13)"/><rect x="1136.0" y="231.7" width="20.3" height="24.0" fill="rgb(38,38,38)"/><rect x="1156.0" y="231.7" width="120.2" height="24.0" fill="rgb(13,13,13)"/><rect x="836.4" y="255.3" width="100.2" height="24.0" fill="rgb(13,13,13)"/><rect x="936.3" y="255.3" width="60.2" height="24.0" fill="rgb(38,38,38)"/><rect x="996.2" y="255.3" width="20.3" height="24.0" fill="rgb(13,13,13)"/><rect x="1016.2" y="255.3" width="40.2" height="24.0" fill="rgb(38,38,38)"/><rect x="1056.2" y="255.3" width="20.3" height="24.0" fill="rgb(89,89,89)"/><rect x="1076.1" y="255.3" width="20.3" height="24.0" fill="rgb(64,64,64)"/><rect x="1096.1" y="255.3" width="180.1" height="24.0" fill="rgb(13,13,13)"/><rect x="836.4" y="279.0" width="140.2" height="24.0" fill="rgb(13,13,13)"/><rect x="976.3" y="279.0" width="40.2" height="24.0" fill="rgb(64,64,64)"/><rect x="1016.2" y="279.0" width="20.3" height="24.0" fill="rgb(38,38,38)"/><rect x="1036.2" y="279.0" width="20.3" height="24.0" fill="rgb(13,13,13)"/><rect x="1056.2" y="279.0" width="20.3" height="24.0" fill="rgb(38,38,38)"/><rect x="1076.1" y="279.0" width="200.1" height="24.0" fill="rgb(13,13,13)"/><rect x="836.4" y="302.7" width="100.2" height="24.0" fill="rgb(13,13,13)"/><rect x="936.3" y="302.7" width="80.2" height="24.0" fill="rgb(38,38,38)"/><rect x="1016.2" y="302.7" width="260.0" height="24.0" fill="rgb(13,13,13)"/><rect x="836.4" y="326.3" width="120.2" height="24.0" fill="rgb(13,13,13)"/><rect x="956.3" y="326.3" width="40.2" height="24.0" fill="rgb(38,38,38)"/><rect x="996.2" y="326.3" width="20.3" height="24.0" fill="rgb(13,13,13)"/><rect x="1016.2" y="326.3" width="40.2" height="24.0" fill="rgb(38,38,38)"/><rect x="1056.2" y="326.3" width="20.3" height="24.0" fill="rgb(64,64,64)"/><rect x="1076.1" y="326.3" width="60.2" height="24.0" fill="rgb(13,13,13)"/><rect x="1136.0" y="326.3" width="20.3" height="24.0" fill="rgb(38,38,38)"/><rect x="1156.0" y="326.3" width="120.2" height="24.0" fill="rgb(13,13,13)"/><rect x="836.4" y="350.0" width="80.3" height="24.0" fill="rgb(38,38,38)"/><rect x="916.4" y="350.0" width="120.1" height="24.0" fill="rgb(13,13,13)"/><rect x="1036.2" y="350.0" width="60.2" height="24.0" fill="rgb(38,38,38)"/><rect x="1096.1" y="350.0" width="40.2" height="24.0" fill="rgb(13,13,13)"/><rect x="1136.0" y="350.0" width="40.2" height="24.0" fill="rgb(38,38,38)"/><rect x="1176.0" y="350.0" width="20.3" height="24.0" fill="rgb(13,13,13)"/><rect x="1195.9" y="350.0" width="80.3" height="24.0" fill="rgb(38,38,38)"/><rect x="836.4" y="373.7" width="80.3" height="24.0" fill="rgb(38,38,38)"/><rect x="916.4" y="373.7" width="40.2" height="24.0" fill="rgb(64,64,64)"/><rect x="956.3" y="373.7" width="20.3" height="24.0" fill="rgb(38,38,38)"/><rect x="976.3" y="373.7" width="20.3" height="24.0" fill="rgb(13,13,13)"/><rect x="996.2" y="373.7" width="40.2" height="24.0" fill="rgb(38,38,38)"/><rect x="1036.2" y="373.7" width="20.3" height="24.0" fill="rgb(64,64,64)"/><rect x="1056.2" y="373.7" width="20.3" height="24.0" fill="rgb(38,38,38)"/><rect x="1076.1" y="373.7" width="20.3" height="24.0" fill="rgb(13,13,13)"/><rect x="1096.1" y="373.7" width="20.3" height="24.0" fill="rgb(38,38,38)"/><rect x="1116.1" y="373.7" width="160.1" height="24.0" fill="rgb(13,13,13)"/><rect x="836.4" y="397.3" width="80.3" height="84.0" fill="rgb(38,38,38)"/><rect x="916.4" y="397.3" width="279.9" height="84.0" fill="rgb(13,13,13)"/><rect x="1195.9" y="397.3" width="80.3" height="84.0" fill="rgb(38,38,38)"/>
</g>
<use href="#cst" x="896.4" y="137.0"/>
</svg>
<rect x="1152.4" y="373.8" width="55.9" height="38.8" fill="#fff"/>
<text class="s" x="1180.4" y="402.2" text-anchor="middle">9%</text>
<rect x="897.3" y="137.9" width="317.7" height="282.2" fill="none" stroke="#000" stroke-width="1.8"/>
<svg x="1220.3" y="137.0" width="319.5" height="284.0" viewBox="1220.3 137.0 319.5 284.0"><g filter="url(#q)">
<rect x="1160.3" y="77.0" width="439.5" height="404.0" fill="rgb(13,13,13)"/>

</g>
<use href="#cst" x="1220.3" y="137.0"/>
</svg>
<rect x="1476.3" y="373.8" width="55.9" height="38.8" fill="#fff"/>
<text class="s" x="1504.3" y="402.2" text-anchor="middle">0%</text>
<rect x="1221.2" y="137.9" width="317.7" height="282.2" fill="none" stroke="#000" stroke-width="1.8"/>
<svg x="572.5" y="425.3" width="319.5" height="284.0" viewBox="572.5 425.3 319.5 284.0"><g filter="url(#q)">
<rect x="512.5" y="365.3" width="439.5" height="404.0" fill="rgb(13,13,13)"/>
<rect x="512.5" y="365.3" width="100.2" height="84.0" fill="rgb(64,64,64)"/><rect x="612.4" y="365.3" width="40.2" height="84.0" fill="rgb(89,89,89)"/><rect x="652.4" y="365.3" width="20.3" height="84.0" fill="rgb(115,115,115)"/><rect x="672.3" y="365.3" width="60.2" height="84.0" fill="rgb(140,140,140)"/><rect x="732.2" y="365.3" width="40.2" height="84.0" fill="rgb(89,89,89)"/><rect x="772.2" y="365.3" width="20.3" height="84.0" fill="rgb(64,64,64)"/><rect x="792.2" y="365.3" width="40.2" height="84.0" fill="rgb(89,89,89)"/><rect x="832.1" y="365.3" width="120.2" height="84.0" fill="rgb(64,64,64)"/><rect x="512.5" y="449.0" width="80.3" height="24.0" fill="rgb(140,140,140)"/><rect x="592.5" y="449.0" width="40.2" height="24.0" fill="rgb(115,115,115)"/><rect x="632.4" y="449.0" width="20.3" height="24.0" fill="rgb(140,140,140)"/><rect x="652.4" y="449.0" width="20.3" height="24.0" fill="rgb(115,115,115)"/><rect x="672.3" y="449.0" width="20.3" height="24.0" fill="rgb(140,140,140)"/><rect x="692.3" y="449.0" width="80.2" height="24.0" fill="rgb(166,166,166)"/><rect x="772.2" y="449.0" width="40.2" height="24.0" fill="rgb(140,140,140)"/><rect x="812.1" y="449.0" width="20.3" height="24.0" fill="rgb(89,89,89)"/><rect x="832.1" y="449.0" width="20.3" height="24.0" fill="rgb(115,115,115)"/><rect x="852.1" y="449.0" width="100.2" height="24.0" fill="rgb(89,89,89)"/><rect x="512.5" y="472.6" width="80.3" height="24.0" fill="rgb(191,191,191)"/><rect x="592.5" y="472.6" width="20.3" height="24.0" fill="rgb(166,166,166)"/><rect x="612.4" y="472.6" width="20.3" height="24.0" fill="rgb(191,191,191)"/><rect x="632.4" y="472.6" width="40.2" height="24.0" fill="rgb(166,166,166)"/><rect x="672.3" y="472.6" width="20.3" height="24.0" fill="rgb(191,191,191)"/><rect x="692.3" y="472.6" width="20.3" height="24.0" fill="rgb(89,89,89)"/><rect x="712.3" y="472.6" width="20.3" height="24.0" fill="rgb(140,140,140)"/><rect x="732.2" y="472.6" width="20.3" height="24.0" fill="rgb(191,191,191)"/><rect x="752.2" y="472.6" width="20.3" height="24.0" fill="rgb(217,217,217)"/><rect x="772.2" y="472.6" width="20.3" height="24.0" fill="rgb(191,191,191)"/><rect x="792.2" y="472.6" width="20.3" height="24.0" fill="rgb(166,166,166)"/><rect x="812.1" y="472.6" width="40.2" height="24.0" fill="rgb(140,140,140)"/><rect x="852.1" y="472.6" width="100.2" height="24.0" fill="rgb(191,191,191)"/><rect x="512.5" y="496.3" width="100.2" height="24.0" fill="rgb(191,191,191)"/><rect x="612.4" y="496.3" width="20.3" height="24.0" fill="rgb(217,217,217)"/><rect x="632.4" y="496.3" width="20.3" height="24.0" fill="rgb(166,166,166)"/><rect x="652.4" y="496.3" width="20.3" height="24.0" fill="rgb(217,217,217)"/><rect x="672.3" y="496.3" width="20.3" height="24.0" fill="rgb(166,166,166)"/><rect x="692.3" y="496.3" width="20.3" height="24.0" fill="rgb(140,140,140)"/><rect x="712.3" y="496.3" width="20.3" height="24.0" fill="rgb(115,115,115)"/><rect x="732.2" y="496.3" width="20.3" height="24.0" fill="rgb(140,140,140)"/><rect x="752.2" y="496.3" width="20.3" height="24.0" fill="rgb(166,166,166)"/><rect x="772.2" y="496.3" width="20.3" height="24.0" fill="rgb(191,191,191)"/><rect x="792.2" y="496.3" width="20.3" height="24.0" fill="rgb(166,166,166)"/><rect x="812.1" y="496.3" width="20.3" height="24.0" fill="rgb(140,140,140)"/><rect x="832.1" y="496.3" width="20.3" height="24.0" fill="rgb(217,217,217)"/><rect x="852.1" y="496.3" width="100.2" height="24.0" fill="rgb(191,191,191)"/><rect x="512.5" y="520.0" width="80.3" height="24.0" fill="rgb(191,191,191)"/><rect x="592.5" y="520.0" width="40.2" height="24.0" fill="rgb(217,217,217)"/><rect x="632.4" y="520.0" width="20.3" height="24.0" fill="rgb(191,191,191)"/><rect x="652.4" y="520.0" width="20.3" height="24.0" fill="rgb(166,166,166)"/><rect x="672.3" y="520.0" width="20.3" height="24.0" fill="rgb(115,115,115)"/><rect x="692.3" y="520.0" width="20.3" height="24.0" fill="rgb(89,89,89)"/><rect x="712.3" y="520.0" width="20.3" height="24.0" fill="rgb(166,166,166)"/><rect x="732.2" y="520.0" width="40.2" height="24.0" fill="rgb(191,191,191)"/><rect x="772.2" y="520.0" width="20.3" height="24.0" fill="rgb(217,217,217)"/><rect x="792.2" y="520.0" width="20.3" height="24.0" fill="rgb(166,166,166)"/><rect x="812.1" y="520.0" width="20.3" height="24.0" fill="rgb(140,140,140)"/><rect x="832.1" y="520.0" width="120.2" height="24.0" fill="rgb(191,191,191)"/><rect x="512.5" y="543.6" width="80.3" height="24.0" fill="rgb(191,191,191)"/><rect x="592.5" y="543.6" width="60.2" height="24.0" fill="rgb(166,166,166)"/><rect x="652.4" y="543.6" width="20.3" height="24.0" fill="rgb(140,140,140)"/><rect x="672.3" y="543.6" width="20.3" height="24.0" fill="rgb(89,89,89)"/><rect x="692.3" y="543.6" width="20.3" height="24.0" fill="rgb(115,115,115)"/><rect x="712.3" y="543.6" width="20.3" height="24.0" fill="rgb(140,140,140)"/><rect x="732.2" y="543.6" width="20.3" height="24.0" fill="rgb(115,115,115)"/><rect x="752.2" y="543.6" width="20.3" height="24.0" fill="rgb(64,64,64)"/><rect x="772.2" y="543.6" width="40.2" height="24.0" fill="rgb(191,191,191)"/><rect x="812.1" y="543.6" width="20.3" height="24.0" fill="rgb(166,166,166)"/><rect x="832.1" y="543.6" width="20.3" height="24.0" fill="rgb(217,217,217)"/><rect x="852.1" y="543.6" width="100.2" height="24.0" fill="rgb(166,166,166)"/><rect x="512.5" y="567.3" width="100.2" height="24.0" fill="rgb(217,217,217)"/><rect x="612.4" y="567.3" width="40.2" height="24.0" fill="rgb(166,166,166)"/><rect x="652.4" y="567.3" width="60.2" height="24.0" fill="rgb(89,89,89)"/><rect x="712.3" y="567.3" width="20.3" height="24.0" fill="rgb(166,166,166)"/><rect x="732.2" y="567.3" width="40.2" height="24.0" fill="rgb(115,115,115)"/><rect x="772.2" y="567.3" width="40.2" height="24.0" fill="rgb(217,217,217)"/><rect x="812.1" y="567.3" width="20.3" height="24.0" fill="rgb(191,191,191)"/><rect x="832.1" y="567.3" width="20.3" height="24.0" fill="rgb(217,217,217)"/><rect x="852.1" y="567.3" width="20.3" height="24.0" fill="rgb(140,140,140)"/><rect x="872.0" y="567.3" width="80.3" height="24.0" fill="rgb(166,166,166)"/><rect x="512.5" y="591.0" width="80.3" height="24.0" fill="rgb(217,217,217)"/><rect x="592.5" y="591.0" width="20.3" height="24.0" fill="rgb(191,191,191)"/><rect x="612.4" y="591.0" width="40.2" height="24.0" fill="rgb(140,140,140)"/><rect x="652.4" y="591.0" width="40.2" height="24.0" fill="rgb(115,115,115)"/><rect x="692.3" y="591.0" width="20.3" height="24.0" fill="rgb(140,140,140)"/><rect x="712.3" y="591.0" width="20.3" height="24.0" fill="rgb(191,191,191)"/><rect x="732.2" y="591.0" width="20.3" height="24.0" fill="rgb(217,217,217)"/><rect x="752.2" y="591.0" width="20.3" height="24.0" fill="rgb(191,191,191)"/><rect x="772.2" y="591.0" width="20.3" height="24.0" fill="rgb(166,166,166)"/><rect x="792.2" y="591.0" width="20.3" height="24.0" fill="rgb(191,191,191)"/><rect x="812.1" y="591.0" width="20.3" height="24.0" fill="rgb(217,217,217)"/><rect x="832.1" y="591.0" width="20.3" height="24.0" fill="rgb(191,191,191)"/><rect x="852.1" y="591.0" width="20.3" height="24.0" fill="rgb(166,166,166)"/><rect x="872.0" y="591.0" width="80.3" height="24.0" fill="rgb(191,191,191)"/><rect x="512.5" y="614.6" width="80.3" height="24.0" fill="rgb(242,242,242)"/><rect x="592.5" y="614.6" width="40.2" height="24.0" fill="rgb(217,217,217)"/><rect x="632.4" y="614.6" width="20.3" height="24.0" fill="rgb(115,115,115)"/><rect x="652.4" y="614.6" width="20.3" height="24.0" fill="rgb(140,140,140)"/><rect x="672.3" y="614.6" width="40.2" height="24.0" fill="rgb(166,166,166)"/><rect x="712.3" y="614.6" width="20.3" height="24.0" fill="rgb(115,115,115)"/><rect x="732.2" y="614.6" width="20.3" height="24.0" fill="rgb(89,89,89)"/><rect x="752.2" y="614.6" width="20.3" height="24.0" fill="rgb(140,140,140)"/><rect x="772.2" y="614.6" width="20.3" height="24.0" fill="rgb(191,191,191)"/><rect x="792.2" y="614.6" width="20.3" height="24.0" fill="rgb(166,166,166)"/><rect x="812.1" y="614.6" width="20.3" height="24.0" fill="rgb(115,115,115)"/><rect x="832.1" y="614.6" width="20.3" height="24.0" fill="rgb(140,140,140)"/><rect x="852.1" y="614.6" width="20.3" height="24.0" fill="rgb(166,166,166)"/><rect x="872.0" y="614.6" width="80.3" height="24.0" fill="rgb(217,217,217)"/><rect x="512.5" y="638.3" width="80.3" height="24.0" fill="rgb(191,191,191)"/><rect x="592.5" y="638.3" width="20.3" height="24.0" fill="rgb(217,217,217)"/><rect x="612.4" y="638.3" width="20.3" height="24.0" fill="rgb(242,242,242)"/><rect x="632.4" y="638.3" width="20.3" height="24.0" fill="rgb(217,217,217)"/><rect x="652.4" y="638.3" width="40.2" height="24.0" fill="rgb(191,191,191)"/><rect x="692.3" y="638.3" width="20.3" height="24.0" fill="rgb(217,217,217)"/><rect x="712.3" y="638.3" width="20.3" height="24.0" fill="rgb(191,191,191)"/><rect x="732.2" y="638.3" width="60.2" height="24.0" fill="rgb(166,166,166)"/><rect x="792.2" y="638.3" width="40.2" height="24.0" fill="rgb(140,140,140)"/><rect x="832.1" y="638.3" width="20.3" height="24.0" fill="rgb(115,115,115)"/><rect x="852.1" y="638.3" width="100.2" height="24.0" fill="rgb(140,140,140)"/><rect x="512.5" y="662.0" width="100.2" height="24.0" fill="rgb(115,115,115)"/><rect x="612.4" y="662.0" width="20.3" height="24.0" fill="rgb(89,89,89)"/><rect x="632.4" y="662.0" width="20.3" height="24.0" fill="rgb(115,115,115)"/><rect x="652.4" y="662.0" width="40.2" height="24.0" fill="rgb(140,140,140)"/><rect x="692.3" y="662.0" width="20.3" height="24.0" fill="rgb(115,115,115)"/><rect x="712.3" y="662.0" width="60.2" height="24.0" fill="rgb(89,89,89)"/><rect x="772.2" y="662.0" width="20.3" height="24.0" fill="rgb(115,115,115)"/><rect x="792.2" y="662.0" width="20.3" height="24.0" fill="rgb(140,140,140)"/><rect x="812.1" y="662.0" width="60.2" height="24.0" fill="rgb(166,166,166)"/><rect x="872.0" y="662.0" width="80.3" height="24.0" fill="rgb(140,140,140)"/><rect x="512.5" y="685.6" width="100.2" height="84.0" fill="rgb(166,166,166)"/><rect x="612.4" y="685.6" width="20.3" height="84.0" fill="rgb(140,140,140)"/><rect x="632.4" y="685.6" width="40.2" height="84.0" fill="rgb(166,166,166)"/><rect x="672.3" y="685.6" width="20.3" height="84.0" fill="rgb(191,191,191)"/><rect x="692.3" y="685.6" width="20.3" height="84.0" fill="rgb(166,166,166)"/><rect x="712.3" y="685.6" width="40.2" height="84.0" fill="rgb(140,140,140)"/><rect x="752.2" y="685.6" width="40.2" height="84.0" fill="rgb(115,115,115)"/><rect x="792.2" y="685.6" width="160.1" height="84.0" fill="rgb(140,140,140)"/>
</g>
<use href="#cst" x="572.5" y="425.3"/>
</svg>
<rect x="815.2" y="662.1" width="69.2" height="38.8" fill="#fff"/>
<text class="s" x="849.8" y="690.5" text-anchor="middle">60%</text>
<rect x="573.4" y="426.2" width="317.7" height="282.2" fill="none" stroke="#000" stroke-width="1.8"/>
<svg x="896.4" y="425.3" width="319.5" height="284.0" viewBox="896.4 425.3 319.5 284.0"><g filter="url(#q)">
<rect x="836.4" y="365.3" width="439.5" height="404.0" fill="rgb(13,13,13)"/>
<rect x="836.4" y="365.3" width="80.3" height="84.0" fill="rgb(140,140,140)"/><rect x="916.4" y="365.3" width="60.2" height="84.0" fill="rgb(115,115,115)"/><rect x="976.3" y="365.3" width="20.3" height="84.0" fill="rgb(89,89,89)"/><rect x="996.2" y="365.3" width="20.3" height="84.0" fill="rgb(64,64,64)"/><rect x="1016.2" y="365.3" width="40.2" height="84.0" fill="rgb(89,89,89)"/><rect x="1056.2" y="365.3" width="40.2" height="84.0" fill="rgb(115,115,115)"/><rect x="1096.1" y="365.3" width="20.3" height="84.0" fill="rgb(140,140,140)"/><rect x="1116.1" y="365.3" width="20.3" height="84.0" fill="rgb(115,115,115)"/><rect x="1136.0" y="365.3" width="20.3" height="84.0" fill="rgb(89,89,89)"/><rect x="1156.0" y="365.3" width="20.3" height="84.0" fill="rgb(115,115,115)"/><rect x="1176.0" y="365.3" width="100.2" height="84.0" fill="rgb(140,140,140)"/><rect x="836.4" y="449.0" width="80.3" height="24.0" fill="rgb(89,89,89)"/><rect x="916.4" y="449.0" width="40.2" height="24.0" fill="rgb(115,115,115)"/><rect x="956.3" y="449.0" width="20.3" height="24.0" fill="rgb(89,89,89)"/><rect x="976.3" y="449.0" width="40.2" height="24.0" fill="rgb(115,115,115)"/><rect x="1016.2" y="449.0" width="20.3" height="24.0" fill="rgb(64,64,64)"/><rect x="1036.2" y="449.0" width="80.2" height="24.0" fill="rgb(89,89,89)"/><rect x="1116.1" y="449.0" width="60.2" height="24.0" fill="rgb(115,115,115)"/><rect x="1176.0" y="449.0" width="100.2" height="24.0" fill="rgb(140,140,140)"/><rect x="836.4" y="472.6" width="120.2" height="24.0" fill="rgb(64,64,64)"/><rect x="956.3" y="472.6" width="20.3" height="24.0" fill="rgb(89,89,89)"/><rect x="976.3" y="472.6" width="20.3" height="24.0" fill="rgb(64,64,64)"/><rect x="996.2" y="472.6" width="20.3" height="24.0" fill="rgb(89,89,89)"/><rect x="1016.2" y="472.6" width="20.3" height="24.0" fill="rgb(166,166,166)"/><rect x="1036.2" y="472.6" width="20.3" height="24.0" fill="rgb(115,115,115)"/><rect x="1056.2" y="472.6" width="20.3" height="24.0" fill="rgb(64,64,64)"/><rect x="1076.1" y="472.6" width="20.3" height="24.0" fill="rgb(38,38,38)"/><rect x="1096.1" y="472.6" width="20.3" height="24.0" fill="rgb(64,64,64)"/><rect x="1116.1" y="472.6" width="60.2" height="24.0" fill="rgb(89,89,89)"/><rect x="1176.0" y="472.6" width="100.2" height="24.0" fill="rgb(64,64,64)"/><rect x="836.4" y="496.3" width="100.2" height="24.0" fill="rgb(64,64,64)"/><rect x="936.3" y="496.3" width="20.3" height="24.0" fill="rgb(38,38,38)"/><rect x="956.3" y="496.3" width="20.3" height="24.0" fill="rgb(89,89,89)"/><rect x="976.3" y="496.3" width="20.3" height="24.0" fill="rgb(38,38,38)"/><rect x="996.2" y="496.3" width="60.2" height="24.0" fill="rgb(115,115,115)"/><rect x="1056.2" y="496.3" width="40.2" height="24.0" fill="rgb(89,89,89)"/><rect x="1096.1" y="496.3" width="20.3" height="24.0" fill="rgb(64,64,64)"/><rect x="1116.1" y="496.3" width="20.3" height="24.0" fill="rgb(89,89,89)"/><rect x="1136.0" y="496.3" width="20.3" height="24.0" fill="rgb(140,140,140)"/><rect x="1156.0" y="496.3" width="20.3" height="24.0" fill="rgb(38,38,38)"/><rect x="1176.0" y="496.3" width="100.2" height="24.0" fill="rgb(64,64,64)"/><rect x="836.4" y="520.0" width="80.3" height="24.0" fill="rgb(89,89,89)"/><rect x="916.4" y="520.0" width="40.2" height="24.0" fill="rgb(38,38,38)"/><rect x="956.3" y="520.0" width="20.3" height="24.0" fill="rgb(64,64,64)"/><rect x="976.3" y="520.0" width="20.3" height="24.0" fill="rgb(89,89,89)"/><rect x="996.2" y="520.0" width="20.3" height="24.0" fill="rgb(140,140,140)"/><rect x="1016.2" y="520.0" width="20.3" height="24.0" fill="rgb(166,166,166)"/><rect x="1036.2" y="520.0" width="20.3" height="24.0" fill="rgb(115,115,115)"/><rect x="1056.2" y="520.0" width="20.3" height="24.0" fill="rgb(64,64,64)"/><rect x="1076.1" y="520.0" width="20.3" height="24.0" fill="rgb(89,89,89)"/><rect x="1096.1" y="520.0" width="20.3" height="24.0" fill="rgb(38,38,38)"/><rect x="1116.1" y="520.0" width="20.3" height="24.0" fill="rgb(89,89,89)"/><rect x="1136.0" y="520.0" width="20.3" height="24.0" fill="rgb(115,115,115)"/><rect x="1156.0" y="520.0" width="120.2" height="24.0" fill="rgb(64,64,64)"/><rect x="836.4" y="543.6" width="80.3" height="24.0" fill="rgb(64,64,64)"/><rect x="916.4" y="543.6" width="20.3" height="24.0" fill="rgb(89,89,89)"/><rect x="936.3" y="543.6" width="20.3" height="24.0" fill="rgb(115,115,115)"/><rect x="956.3" y="543.6" width="20.3" height="24.0" fill="rgb(89,89,89)"/><rect x="976.3" y="543.6" width="20.3" height="24.0" fill="rgb(140,140,140)"/><rect x="996.2" y="543.6" width="20.3" height="24.0" fill="rgb(166,166,166)"/><rect x="1016.2" y="543.6" width="60.2" height="24.0" fill="rgb(140,140,140)"/><rect x="1076.1" y="543.6" width="20.3" height="24.0" fill="rgb(191,191,191)"/><rect x="1096.1" y="543.6" width="40.2" height="24.0" fill="rgb(64,64,64)"/><rect x="1136.0" y="543.6" width="20.3" height="24.0" fill="rgb(89,89,89)"/><rect x="1156.0" y="543.6" width="20.3" height="24.0" fill="rgb(38,38,38)"/><rect x="1176.0" y="543.6" width="100.2" height="24.0" fill="rgb(115,115,115)"/><rect x="836.4" y="567.3" width="80.3" height="24.0" fill="rgb(38,38,38)"/><rect x="916.4" y="567.3" width="20.3" height="24.0" fill="rgb(64,64,64)"/><rect x="936.3" y="567.3" width="20.3" height="24.0" fill="rgb(115,115,115)"/><rect x="956.3" y="567.3" width="20.3" height="24.0" fill="rgb(89,89,89)"/><rect x="976.3" y="567.3" width="20.3" height="24.0" fill="rgb(166,166,166)"/><rect x="996.2" y="567.3" width="40.2" height="24.0" fill="rgb(191,191,191)"/><rect x="1036.2" y="567.3" width="20.3" height="24.0" fill="rgb(115,115,115)"/><rect x="1056.2" y="567.3" width="20.3" height="24.0" fill="rgb(166,166,166)"/><rect x="1076.1" y="567.3" width="20.3" height="24.0" fill="rgb(140,140,140)"/><rect x="1096.1" y="567.3" width="20.3" height="24.0" fill="rgb(64,64,64)"/><rect x="1116.1" y="567.3" width="20.3" height="24.0" fill="rgb(38,38,38)"/><rect x="1136.0" y="567.3" width="20.3" height="24.0" fill="rgb(64,64,64)"/><rect x="1156.0" y="567.3" width="20.3" height="24.0" fill="rgb(38,38,38)"/><rect x="1176.0" y="567.3" width="100.2" height="24.0" fill="rgb(115,115,115)"/><rect x="836.4" y="591.0" width="80.3" height="24.0" fill="rgb(38,38,38)"/><rect x="916.4" y="591.0" width="20.3" height="24.0" fill="rgb(64,64,64)"/><rect x="936.3" y="591.0" width="40.2" height="24.0" fill="rgb(115,115,115)"/><rect x="976.3" y="591.0" width="40.2" height="24.0" fill="rgb(140,140,140)"/><rect x="1016.2" y="591.0" width="20.3" height="24.0" fill="rgb(115,115,115)"/><rect x="1036.2" y="591.0" width="40.2" height="24.0" fill="rgb(64,64,64)"/><rect x="1076.1" y="591.0" width="40.2" height="24.0" fill="rgb(89,89,89)"/><rect x="1116.1" y="591.0" width="20.3" height="24.0" fill="rgb(64,64,64)"/><rect x="1136.0" y="591.0" width="20.3" height="24.0" fill="rgb(38,38,38)"/><rect x="1156.0" y="591.0" width="40.2" height="24.0" fill="rgb(89,89,89)"/><rect x="1195.9" y="591.0" width="80.3" height="24.0" fill="rgb(64,64,64)"/><rect x="836.4" y="614.6" width="80.3" height="24.0" fill="rgb(13,13,13)"/><rect x="916.4" y="614.6" width="40.2" height="24.0" fill="rgb(38,38,38)"/><rect x="956.3" y="614.6" width="20.3" height="24.0" fill="rgb(140,140,140)"/><rect x="976.3" y="614.6" width="20.3" height="24.0" fill="rgb(115,115,115)"/><rect x="996.2" y="614.6" width="20.3" height="24.0" fill="rgb(64,64,64)"/><rect x="1016.2" y="614.6" width="20.3" height="24.0" fill="rgb(115,115,115)"/><rect x="1036.2" y="614.6" width="20.3" height="24.0" fill="rgb(140,140,140)"/><rect x="1056.2" y="614.6" width="20.3" height="24.0" fill="rgb(166,166,166)"/><rect x="1076.1" y="614.6" width="20.3" height="24.0" fill="rgb(89,89,89)"/><rect x="1096.1" y="614.6" width="20.3" height="24.0" fill="rgb(64,64,64)"/><rect x="1116.1" y="614.6" width="20.3" height="24.0" fill="rgb(89,89,89)"/><rect x="1136.0" y="614.6" width="20.3" height="24.0" fill="rgb(115,115,115)"/><rect x="1156.0" y="614.6" width="40.2" height="24.0" fill="rgb(89,89,89)"/><rect x="1195.9" y="614.6" width="80.3" height="24.0" fill="rgb(38,38,38)"/><rect x="836.4" y="638.3" width="80.3" height="24.0" fill="rgb(64,64,64)"/><rect x="916.4" y="638.3" width="20.3" height="24.0" fill="rgb(38,38,38)"/><rect x="936.3" y="638.3" width="20.3" height="24.0" fill="rgb(13,13,13)"/><rect x="956.3" y="638.3" width="60.2" height="24.0" fill="rgb(64,64,64)"/><rect x="1016.2" y="638.3" width="20.3" height="24.0" fill="rgb(38,38,38)"/><rect x="1036.2" y="638.3" width="20.3" height="24.0" fill="rgb(64,64,64)"/><rect x="1056.2" y="638.3" width="60.2" height="24.0" fill="rgb(89,89,89)"/><rect x="1116.1" y="638.3" width="20.3" height="24.0" fill="rgb(115,115,115)"/><rect x="1136.0" y="638.3" width="20.3" height="24.0" fill="rgb(89,89,89)"/><rect x="1156.0" y="638.3" width="20.3" height="24.0" fill="rgb(115,115,115)"/><rect x="1176.0" y="638.3" width="20.3" height="24.0" fill="rgb(89,89,89)"/><rect x="1195.9" y="638.3" width="80.3" height="24.0" fill="rgb(115,115,115)"/><rect x="836.4" y="662.0" width="80.3" height="24.0" fill="rgb(89,89,89)"/><rect x="916.4" y="662.0" width="20.3" height="24.0" fill="rgb(115,115,115)"/><rect x="936.3" y="662.0" width="20.3" height="24.0" fill="rgb(140,140,140)"/><rect x="956.3" y="662.0" width="20.3" height="24.0" fill="rgb(89,89,89)"/><rect x="976.3" y="662.0" width="40.2" height="24.0" fill="rgb(64,64,64)"/><rect x="1016.2" y="662.0" width="80.2" height="24.0" fill="rgb(115,115,115)"/><rect x="1096.1" y="662.0" width="180.1" height="24.0" fill="rgb(89,89,89)"/><rect x="836.4" y="685.6" width="140.2" height="84.0" fill="rgb(89,89,89)"/><rect x="976.3" y="685.6" width="20.3" height="84.0" fill="rgb(38,38,38)"/><rect x="996.2" y="685.6" width="40.2" height="84.0" fill="rgb(64,64,64)"/><rect x="1036.2" y="685.6" width="40.2" height="84.0" fill="rgb(89,89,89)"/><rect x="1076.1" y="685.6" width="40.2" height="84.0" fill="rgb(115,115,115)"/><rect x="1116.1" y="685.6" width="160.1" height="84.0" fill="rgb(89,89,89)"/>
</g>
<use href="#cst" x="896.4" y="425.3"/>
</svg>
<rect x="1139.1" y="662.1" width="69.2" height="38.8" fill="#fff"/>
<text class="s" x="1173.7" y="690.5" text-anchor="middle">34%</text>
<rect x="897.3" y="426.2" width="317.7" height="282.2" fill="none" stroke="#000" stroke-width="1.8"/>
<svg x="1220.3" y="425.3" width="319.5" height="284.0" viewBox="1220.3 425.3 319.5 284.0"><g filter="url(#q)">
<rect x="1160.3" y="365.3" width="439.5" height="404.0" fill="rgb(13,13,13)"/>
<rect x="1160.3" y="365.3" width="120.2" height="84.0" fill="rgb(64,64,64)"/><rect x="1280.2" y="365.3" width="239.9" height="84.0" fill="rgb(38,38,38)"/><rect x="1519.8" y="365.3" width="80.3" height="84.0" fill="rgb(64,64,64)"/><rect x="1160.3" y="449.0" width="120.2" height="24.0" fill="rgb(38,38,38)"/><rect x="1280.2" y="449.0" width="60.2" height="24.0" fill="rgb(13,13,13)"/><rect x="1340.1" y="449.0" width="20.3" height="24.0" fill="rgb(38,38,38)"/><rect x="1360.1" y="449.0" width="40.2" height="24.0" fill="rgb(13,13,13)"/><rect x="1400.0" y="449.0" width="200.1" height="24.0" fill="rgb(38,38,38)"/><rect x="1160.3" y="472.6" width="80.3" height="24.0" fill="rgb(38,38,38)"/><rect x="1240.3" y="472.6" width="359.8" height="24.0" fill="rgb(13,13,13)"/><rect x="1160.3" y="496.3" width="200.1" height="24.0" fill="rgb(13,13,13)"/><rect x="1360.1" y="496.3" width="40.2" height="24.0" fill="rgb(38,38,38)"/><rect x="1400.0" y="496.3" width="200.1" height="24.0" fill="rgb(13,13,13)"/><rect x="1160.3" y="520.0" width="160.1" height="24.0" fill="rgb(13,13,13)"/><rect x="1320.1" y="520.0" width="40.2" height="24.0" fill="rgb(38,38,38)"/><rect x="1360.1" y="520.0" width="240.0" height="24.0" fill="rgb(13,13,13)"/><rect x="1160.3" y="543.6" width="439.8" height="24.0" fill="rgb(13,13,13)"/><rect x="1160.3" y="567.3" width="439.8" height="24.0" fill="rgb(13,13,13)"/><rect x="1160.3" y="591.0" width="120.2" height="24.0" fill="rgb(13,13,13)"/><rect x="1280.2" y="591.0" width="20.3" height="24.0" fill="rgb(38,38,38)"/><rect x="1300.2" y="591.0" width="299.9" height="24.0" fill="rgb(13,13,13)"/><rect x="1160.3" y="614.6" width="120.2" height="24.0" fill="rgb(13,13,13)"/><rect x="1280.2" y="614.6" width="40.2" height="24.0" fill="rgb(38,38,38)"/><rect x="1320.1" y="614.6" width="40.2" height="24.0" fill="rgb(13,13,13)"/><rect x="1360.1" y="614.6" width="40.2" height="24.0" fill="rgb(38,38,38)"/><rect x="1400.0" y="614.6" width="60.2" height="24.0" fill="rgb(13,13,13)"/><rect x="1459.9" y="614.6" width="40.2" height="24.0" fill="rgb(38,38,38)"/><rect x="1499.9" y="614.6" width="100.2" height="24.0" fill="rgb(13,13,13)"/><rect x="1160.3" y="638.3" width="120.2" height="24.0" fill="rgb(38,38,38)"/><rect x="1280.2" y="638.3" width="40.2" height="24.0" fill="rgb(13,13,13)"/><rect x="1320.1" y="638.3" width="40.2" height="24.0" fill="rgb(38,38,38)"/><rect x="1360.1" y="638.3" width="20.3" height="24.0" fill="rgb(64,64,64)"/><rect x="1380.0" y="638.3" width="60.2" height="24.0" fill="rgb(38,38,38)"/><rect x="1440.0" y="638.3" width="60.2" height="24.0" fill="rgb(64,64,64)"/><rect x="1499.9" y="638.3" width="100.2" height="24.0" fill="rgb(38,38,38)"/><rect x="1160.3" y="662.0" width="80.3" height="24.0" fill="rgb(64,64,64)"/><rect x="1240.3" y="662.0" width="60.2" height="24.0" fill="rgb(38,38,38)"/><rect x="1300.2" y="662.0" width="20.3" height="24.0" fill="rgb(64,64,64)"/><rect x="1320.1" y="662.0" width="280.0" height="24.0" fill="rgb(38,38,38)"/><rect x="1160.3" y="685.6" width="140.2" height="84.0" fill="rgb(13,13,13)"/><rect x="1300.2" y="685.6" width="20.3" height="84.0" fill="rgb(38,38,38)"/><rect x="1320.1" y="685.6" width="80.2" height="84.0" fill="rgb(13,13,13)"/><rect x="1400.0" y="685.6" width="20.3" height="84.0" fill="rgb(38,38,38)"/><rect x="1420.0" y="685.6" width="40.2" height="84.0" fill="rgb(64,64,64)"/><rect x="1459.9" y="685.6" width="140.2" height="84.0" fill="rgb(38,38,38)"/>
</g>
<use href="#cst" x="1220.3" y="425.3"/>
</svg>
<rect x="1476.3" y="662.1" width="55.9" height="38.8" fill="#fff"/>
<text class="s" x="1504.3" y="690.5" text-anchor="middle">6%</text>
<rect x="1221.2" y="426.2" width="317.7" height="282.2" fill="none" stroke="#000" stroke-width="1.8"/>
<svg x="572.5" y="713.4" width="319.5" height="284.0" viewBox="572.5 713.4 319.5 284.0"><g filter="url(#q)">
<rect x="512.5" y="653.4" width="439.5" height="404.0" fill="rgb(13,13,13)"/>
<rect x="512.5" y="653.4" width="100.2" height="84.0" fill="rgb(13,13,13)"/><rect x="612.4" y="653.4" width="60.2" height="84.0" fill="rgb(38,38,38)"/><rect x="672.3" y="653.4" width="20.3" height="84.0" fill="rgb(64,64,64)"/><rect x="692.3" y="653.4" width="20.3" height="84.0" fill="rgb(38,38,38)"/><rect x="712.3" y="653.4" width="20.3" height="84.0" fill="rgb(64,64,64)"/><rect x="732.2" y="653.4" width="60.2" height="84.0" fill="rgb(38,38,38)"/><rect x="792.2" y="653.4" width="20.3" height="84.0" fill="rgb(13,13,13)"/><rect x="812.1" y="653.4" width="40.2" height="84.0" fill="rgb(38,38,38)"/><rect x="852.1" y="653.4" width="100.2" height="84.0" fill="rgb(13,13,13)"/><rect x="512.5" y="737.1" width="160.1" height="24.0" fill="rgb(38,38,38)"/><rect x="672.3" y="737.1" width="60.2" height="24.0" fill="rgb(64,64,64)"/><rect x="732.2" y="737.1" width="20.3" height="24.0" fill="rgb(89,89,89)"/><rect x="752.2" y="737.1" width="20.3" height="24.0" fill="rgb(64,64,64)"/><rect x="772.2" y="737.1" width="20.3" height="24.0" fill="rgb(38,38,38)"/><rect x="792.2" y="737.1" width="20.3" height="24.0" fill="rgb(64,64,64)"/><rect x="812.1" y="737.1" width="20.3" height="24.0" fill="rgb(38,38,38)"/><rect x="832.1" y="737.1" width="20.3" height="24.0" fill="rgb(64,64,64)"/><rect x="852.1" y="737.1" width="100.2" height="24.0" fill="rgb(38,38,38)"/><rect x="512.5" y="760.7" width="100.2" height="24.0" fill="rgb(64,64,64)"/><rect x="612.4" y="760.7" width="40.2" height="24.0" fill="rgb(89,89,89)"/><rect x="652.4" y="760.7" width="20.3" height="24.0" fill="rgb(64,64,64)"/><rect x="672.3" y="760.7" width="20.3" height="24.0" fill="rgb(89,89,89)"/><rect x="692.3" y="760.7" width="20.3" height="24.0" fill="rgb(64,64,64)"/><rect x="712.3" y="760.7" width="100.1" height="24.0" fill="rgb(89,89,89)"/><rect x="812.1" y="760.7" width="140.2" height="24.0" fill="rgb(64,64,64)"/><rect x="512.5" y="784.4" width="80.3" height="24.0" fill="rgb(140,140,140)"/><rect x="592.5" y="784.4" width="20.3" height="24.0" fill="rgb(115,115,115)"/><rect x="612.4" y="784.4" width="20.3" height="24.0" fill="rgb(89,89,89)"/><rect x="632.4" y="784.4" width="20.3" height="24.0" fill="rgb(64,64,64)"/><rect x="652.4" y="784.4" width="20.3" height="24.0" fill="rgb(115,115,115)"/><rect x="672.3" y="784.4" width="20.3" height="24.0" fill="rgb(89,89,89)"/><rect x="692.3" y="784.4" width="80.2" height="24.0" fill="rgb(64,64,64)"/><rect x="772.2" y="784.4" width="20.3" height="24.0" fill="rgb(89,89,89)"/><rect x="792.2" y="784.4" width="40.2" height="24.0" fill="rgb(64,64,64)"/><rect x="832.1" y="784.4" width="20.3" height="24.0" fill="rgb(166,166,166)"/><rect x="852.1" y="784.4" width="100.2" height="24.0" fill="rgb(89,89,89)"/><rect x="512.5" y="808.1" width="80.3" height="24.0" fill="rgb(89,89,89)"/><rect x="592.5" y="808.1" width="20.3" height="24.0" fill="rgb(115,115,115)"/><rect x="612.4" y="808.1" width="20.3" height="24.0" fill="rgb(140,140,140)"/><rect x="632.4" y="808.1" width="20.3" height="24.0" fill="rgb(89,89,89)"/><rect x="652.4" y="808.1" width="20.3" height="24.0" fill="rgb(64,64,64)"/><rect x="672.3" y="808.1" width="40.2" height="24.0" fill="rgb(38,38,38)"/><rect x="712.3" y="808.1" width="20.3" height="24.0" fill="rgb(140,140,140)"/><rect x="732.2" y="808.1" width="20.3" height="24.0" fill="rgb(166,166,166)"/><rect x="752.2" y="808.1" width="40.2" height="24.0" fill="rgb(140,140,140)"/><rect x="792.2" y="808.1" width="20.3" height="24.0" fill="rgb(89,89,89)"/><rect x="812.1" y="808.1" width="20.3" height="24.0" fill="rgb(64,64,64)"/><rect x="832.1" y="808.1" width="20.3" height="24.0" fill="rgb(89,89,89)"/><rect x="852.1" y="808.1" width="100.2" height="24.0" fill="rgb(115,115,115)"/><rect x="512.5" y="831.7" width="80.3" height="24.0" fill="rgb(89,89,89)"/><rect x="592.5" y="831.7" width="40.2" height="24.0" fill="rgb(38,38,38)"/><rect x="632.4" y="831.7" width="40.2" height="24.0" fill="rgb(64,64,64)"/><rect x="672.3" y="831.7" width="40.2" height="24.0" fill="rgb(38,38,38)"/><rect x="712.3" y="831.7" width="20.3" height="24.0" fill="rgb(64,64,64)"/><rect x="732.2" y="831.7" width="40.2" height="24.0" fill="rgb(38,38,38)"/><rect x="772.2" y="831.7" width="80.2" height="24.0" fill="rgb(64,64,64)"/><rect x="852.1" y="831.7" width="20.3" height="24.0" fill="rgb(89,89,89)"/><rect x="872.0" y="831.7" width="80.3" height="24.0" fill="rgb(140,140,140)"/><rect x="512.5" y="855.4" width="80.3" height="24.0" fill="rgb(140,140,140)"/><rect x="592.5" y="855.4" width="20.3" height="24.0" fill="rgb(89,89,89)"/><rect x="612.4" y="855.4" width="20.3" height="24.0" fill="rgb(64,64,64)"/><rect x="632.4" y="855.4" width="20.3" height="24.0" fill="rgb(89,89,89)"/><rect x="652.4" y="855.4" width="60.2" height="24.0" fill="rgb(38,38,38)"/><rect x="712.3" y="855.4" width="20.3" height="24.0" fill="rgb(89,89,89)"/><rect x="732.2" y="855.4" width="40.2" height="24.0" fill="rgb(38,38,38)"/><rect x="772.2" y="855.4" width="20.3" height="24.0" fill="rgb(115,115,115)"/><rect x="792.2" y="855.4" width="20.3" height="24.0" fill="rgb(89,89,89)"/><rect x="812.1" y="855.4" width="140.2" height="24.0" fill="rgb(64,64,64)"/><rect x="512.5" y="879.1" width="80.3" height="24.0" fill="rgb(115,115,115)"/><rect x="592.5" y="879.1" width="20.3" height="24.0" fill="rgb(89,89,89)"/><rect x="612.4" y="879.1" width="40.2" height="24.0" fill="rgb(38,38,38)"/><rect x="652.4" y="879.1" width="20.3" height="24.0" fill="rgb(64,64,64)"/><rect x="672.3" y="879.1" width="20.3" height="24.0" fill="rgb(38,38,38)"/><rect x="692.3" y="879.1" width="20.3" height="24.0" fill="rgb(64,64,64)"/><rect x="712.3" y="879.1" width="20.3" height="24.0" fill="rgb(115,115,115)"/><rect x="732.2" y="879.1" width="20.3" height="24.0" fill="rgb(140,140,140)"/><rect x="752.2" y="879.1" width="20.3" height="24.0" fill="rgb(115,115,115)"/><rect x="772.2" y="879.1" width="20.3" height="24.0" fill="rgb(89,89,89)"/><rect x="792.2" y="879.1" width="20.3" height="24.0" fill="rgb(140,140,140)"/><rect x="812.1" y="879.1" width="20.3" height="24.0" fill="rgb(166,166,166)"/><rect x="832.1" y="879.1" width="120.2" height="24.0" fill="rgb(89,89,89)"/><rect x="512.5" y="902.7" width="80.3" height="24.0" fill="rgb(166,166,166)"/><rect x="592.5" y="902.7" width="20.3" height="24.0" fill="rgb(191,191,191)"/><rect x="612.4" y="902.7" width="20.3" height="24.0" fill="rgb(115,115,115)"/><rect x="632.4" y="902.7" width="40.2" height="24.0" fill="rgb(38,38,38)"/><rect x="672.3" y="902.7" width="20.3" height="24.0" fill="rgb(64,64,64)"/><rect x="692.3" y="902.7" width="20.3" height="24.0" fill="rgb(89,89,89)"/><rect x="712.3" y="902.7" width="20.3" height="24.0" fill="rgb(64,64,64)"/><rect x="732.2" y="902.7" width="20.3" height="24.0" fill="rgb(38,38,38)"/><rect x="752.2" y="902.7" width="20.3" height="24.0" fill="rgb(64,64,64)"/><rect x="772.2" y="902.7" width="20.3" height="24.0" fill="rgb(89,89,89)"/><rect x="792.2" y="902.7" width="20.3" height="24.0" fill="rgb(64,64,64)"/><rect x="812.1" y="902.7" width="20.3" height="24.0" fill="rgb(38,38,38)"/><rect x="832.1" y="902.7" width="20.3" height="24.0" fill="rgb(64,64,64)"/><rect x="852.1" y="902.7" width="20.3" height="24.0" fill="rgb(89,89,89)"/><rect x="872.0" y="902.7" width="80.3" height="24.0" fill="rgb(166,166,166)"/><rect x="512.5" y="926.4" width="80.3" height="24.0" fill="rgb(115,115,115)"/><rect x="592.5" y="926.4" width="60.2" height="24.0" fill="rgb(140,140,140)"/><rect x="652.4" y="926.4" width="20.3" height="24.0" fill="rgb(115,115,115)"/><rect x="672.3" y="926.4" width="20.3" height="24.0" fill="rgb(89,89,89)"/><rect x="692.3" y="926.4" width="20.3" height="24.0" fill="rgb(115,115,115)"/><rect x="712.3" y="926.4" width="40.2" height="24.0" fill="rgb(89,89,89)"/><rect x="752.2" y="926.4" width="20.3" height="24.0" fill="rgb(115,115,115)"/><rect x="772.2" y="926.4" width="20.3" height="24.0" fill="rgb(89,89,89)"/><rect x="792.2" y="926.4" width="40.2" height="24.0" fill="rgb(64,64,64)"/><rect x="832.1" y="926.4" width="20.3" height="24.0" fill="rgb(89,89,89)"/><rect x="852.1" y="926.4" width="20.3" height="24.0" fill="rgb(115,115,115)"/><rect x="872.0" y="926.4" width="80.3" height="24.0" fill="rgb(89,89,89)"/><rect x="512.5" y="950.1" width="80.3" height="24.0" fill="rgb(38,38,38)"/><rect x="592.5" y="950.1" width="20.3" height="24.0" fill="rgb(13,13,13)"/><rect x="612.4" y="950.1" width="100.1" height="24.0" fill="rgb(38,38,38)"/><rect x="712.3" y="950.1" width="20.3" height="24.0" fill="rgb(13,13,13)"/><rect x="732.2" y="950.1" width="20.3" height="24.0" fill="rgb(38,38,38)"/><rect x="752.2" y="950.1" width="20.3" height="24.0" fill="rgb(13,13,13)"/><rect x="772.2" y="950.1" width="180.1" height="24.0" fill="rgb(38,38,38)"/><rect x="512.5" y="973.7" width="140.2" height="84.0" fill="rgb(64,64,64)"/><rect x="652.4" y="973.7" width="40.2" height="84.0" fill="rgb(89,89,89)"/><rect x="692.3" y="973.7" width="20.3" height="84.0" fill="rgb(64,64,64)"/><rect x="712.3" y="973.7" width="60.2" height="84.0" fill="rgb(38,38,38)"/><rect x="772.2" y="973.7" width="40.2" height="84.0" fill="rgb(64,64,64)"/><rect x="812.1" y="973.7" width="140.2" height="84.0" fill="rgb(38,38,38)"/>
</g>
<use href="#cst" x="572.5" y="713.4"/>
</svg>
<rect x="815.2" y="950.2" width="69.2" height="38.8" fill="#fff"/>
<text class="s" x="849.8" y="978.6" text-anchor="middle">28%</text>
<rect x="573.4" y="714.3" width="317.7" height="282.2" fill="none" stroke="#000" stroke-width="1.8"/>
<svg x="896.4" y="713.4" width="319.5" height="284.0" viewBox="896.4 713.4 319.5 284.0"><g filter="url(#q)">
<rect x="836.4" y="653.4" width="439.5" height="404.0" fill="rgb(13,13,13)"/>
<rect x="836.4" y="653.4" width="140.2" height="84.0" fill="rgb(89,89,89)"/><rect x="976.3" y="653.4" width="40.2" height="84.0" fill="rgb(115,115,115)"/><rect x="1016.2" y="653.4" width="20.3" height="84.0" fill="rgb(140,140,140)"/><rect x="1036.2" y="653.4" width="20.3" height="84.0" fill="rgb(115,115,115)"/><rect x="1056.2" y="653.4" width="20.3" height="84.0" fill="rgb(140,140,140)"/><rect x="1076.1" y="653.4" width="40.2" height="84.0" fill="rgb(89,89,89)"/><rect x="1116.1" y="653.4" width="20.3" height="84.0" fill="rgb(140,140,140)"/><rect x="1136.0" y="653.4" width="20.3" height="84.0" fill="rgb(115,115,115)"/><rect x="1156.0" y="653.4" width="120.2" height="84.0" fill="rgb(64,64,64)"/><rect x="836.4" y="737.1" width="80.3" height="24.0" fill="rgb(64,64,64)"/><rect x="916.4" y="737.1" width="80.2" height="24.0" fill="rgb(89,89,89)"/><rect x="996.2" y="737.1" width="20.3" height="24.0" fill="rgb(115,115,115)"/><rect x="1016.2" y="737.1" width="20.3" height="24.0" fill="rgb(140,140,140)"/><rect x="1036.2" y="737.1" width="20.3" height="24.0" fill="rgb(166,166,166)"/><rect x="1056.2" y="737.1" width="20.3" height="24.0" fill="rgb(115,115,115)"/><rect x="1076.1" y="737.1" width="20.3" height="24.0" fill="rgb(64,64,64)"/><rect x="1096.1" y="737.1" width="40.2" height="24.0" fill="rgb(89,89,89)"/><rect x="1136.0" y="737.1" width="140.2" height="24.0" fill="rgb(115,115,115)"/><rect x="836.4" y="760.7" width="80.3" height="24.0" fill="rgb(64,64,64)"/><rect x="916.4" y="760.7" width="20.3" height="24.0" fill="rgb(89,89,89)"/><rect x="936.3" y="760.7" width="20.3" height="24.0" fill="rgb(115,115,115)"/><rect x="956.3" y="760.7" width="20.3" height="24.0" fill="rgb(140,140,140)"/><rect x="976.3" y="760.7" width="20.3" height="24.0" fill="rgb(89,89,89)"/><rect x="996.2" y="760.7" width="20.3" height="24.0" fill="rgb(115,115,115)"/><rect x="1016.2" y="760.7" width="20.3" height="24.0" fill="rgb(191,191,191)"/><rect x="1036.2" y="760.7" width="20.3" height="24.0" fill="rgb(166,166,166)"/><rect x="1056.2" y="760.7" width="60.2" height="24.0" fill="rgb(115,115,115)"/><rect x="1116.1" y="760.7" width="20.3" height="24.0" fill="rgb(166,166,166)"/><rect x="1136.0" y="760.7" width="20.3" height="24.0" fill="rgb(140,140,140)"/><rect x="1156.0" y="760.7" width="40.2" height="24.0" fill="rgb(115,115,115)"/><rect x="1195.9" y="760.7" width="80.3" height="24.0" fill="rgb(89,89,89)"/><rect x="836.4" y="784.4" width="80.3" height="24.0" fill="rgb(89,89,89)"/><rect x="916.4" y="784.4" width="20.3" height="24.0" fill="rgb(140,140,140)"/><rect x="936.3" y="784.4" width="20.3" height="24.0" fill="rgb(166,166,166)"/><rect x="956.3" y="784.4" width="20.3" height="24.0" fill="rgb(191,191,191)"/><rect x="976.3" y="784.4" width="20.3" height="24.0" fill="rgb(115,115,115)"/><rect x="996.2" y="784.4" width="40.2" height="24.0" fill="rgb(166,166,166)"/><rect x="1036.2" y="784.4" width="40.2" height="24.0" fill="rgb(89,89,89)"/><rect x="1076.1" y="784.4" width="20.3" height="24.0" fill="rgb(115,115,115)"/><rect x="1096.1" y="784.4" width="20.3" height="24.0" fill="rgb(140,140,140)"/><rect x="1116.1" y="784.4" width="40.2" height="24.0" fill="rgb(166,166,166)"/><rect x="1156.0" y="784.4" width="20.3" height="24.0" fill="rgb(89,89,89)"/><rect x="1176.0" y="784.4" width="20.3" height="24.0" fill="rgb(115,115,115)"/><rect x="1195.9" y="784.4" width="80.3" height="24.0" fill="rgb(140,140,140)"/><rect x="836.4" y="808.1" width="120.2" height="24.0" fill="rgb(140,140,140)"/><rect x="956.3" y="808.1" width="20.3" height="24.0" fill="rgb(166,166,166)"/><rect x="976.3" y="808.1" width="20.3" height="24.0" fill="rgb(140,140,140)"/><rect x="996.2" y="808.1" width="40.2" height="24.0" fill="rgb(166,166,166)"/><rect x="1036.2" y="808.1" width="80.2" height="24.0" fill="rgb(115,115,115)"/><rect x="1116.1" y="808.1" width="40.2" height="24.0" fill="rgb(166,166,166)"/><rect x="1156.0" y="808.1" width="120.2" height="24.0" fill="rgb(115,115,115)"/><rect x="836.4" y="831.7" width="80.3" height="24.0" fill="rgb(166,166,166)"/><rect x="916.4" y="831.7" width="120.1" height="24.0" fill="rgb(191,191,191)"/><rect x="1036.2" y="831.7" width="20.3" height="24.0" fill="rgb(217,217,217)"/><rect x="1056.2" y="831.7" width="20.3" height="24.0" fill="rgb(191,191,191)"/><rect x="1076.1" y="831.7" width="20.3" height="24.0" fill="rgb(166,166,166)"/><rect x="1096.1" y="831.7" width="20.3" height="24.0" fill="rgb(115,115,115)"/><rect x="1116.1" y="831.7" width="20.3" height="24.0" fill="rgb(166,166,166)"/><rect x="1136.0" y="831.7" width="20.3" height="24.0" fill="rgb(191,191,191)"/><rect x="1156.0" y="831.7" width="120.2" height="24.0" fill="rgb(140,140,140)"/><rect x="836.4" y="855.4" width="100.2" height="24.0" fill="rgb(166,166,166)"/><rect x="936.3" y="855.4" width="20.3" height="24.0" fill="rgb(191,191,191)"/><rect x="956.3" y="855.4" width="20.3" height="24.0" fill="rgb(166,166,166)"/><rect x="976.3" y="855.4" width="60.2" height="24.0" fill="rgb(217,217,217)"/><rect x="1036.2" y="855.4" width="40.2" height="24.0" fill="rgb(191,191,191)"/><rect x="1076.1" y="855.4" width="40.2" height="24.0" fill="rgb(166,166,166)"/><rect x="1116.1" y="855.4" width="20.3" height="24.0" fill="rgb(140,140,140)"/><rect x="1136.0" y="855.4" width="140.2" height="24.0" fill="rgb(191,191,191)"/><rect x="836.4" y="879.1" width="80.3" height="24.0" fill="rgb(115,115,115)"/><rect x="916.4" y="879.1" width="60.2" height="24.0" fill="rgb(140,140,140)"/><rect x="976.3" y="879.1" width="20.3" height="24.0" fill="rgb(191,191,191)"/><rect x="996.2" y="879.1" width="20.3" height="24.0" fill="rgb(217,217,217)"/><rect x="1016.2" y="879.1" width="20.3" height="24.0" fill="rgb(140,140,140)"/><rect x="1036.2" y="879.1" width="40.2" height="24.0" fill="rgb(115,115,115)"/><rect x="1076.1" y="879.1" width="20.3" height="24.0" fill="rgb(89,89,89)"/><rect x="1096.1" y="879.1" width="20.3" height="24.0" fill="rgb(140,140,140)"/><rect x="1116.1" y="879.1" width="20.3" height="24.0" fill="rgb(89,89,89)"/><rect x="1136.0" y="879.1" width="20.3" height="24.0" fill="rgb(64,64,64)"/><rect x="1156.0" y="879.1" width="40.2" height="24.0" fill="rgb(166,166,166)"/><rect x="1195.9" y="879.1" width="80.3" height="24.0" fill="rgb(140,140,140)"/><rect x="836.4" y="902.7" width="80.3" height="24.0" fill="rgb(64,64,64)"/><rect x="916.4" y="902.7" width="20.3" height="24.0" fill="rgb(38,38,38)"/><rect x="936.3" y="902.7" width="20.3" height="24.0" fill="rgb(89,89,89)"/><rect x="956.3" y="902.7" width="60.2" height="24.0" fill="rgb(140,140,140)"/><rect x="1016.2" y="902.7" width="20.3" height="24.0" fill="rgb(166,166,166)"/><rect x="1036.2" y="902.7" width="40.2" height="24.0" fill="rgb(191,191,191)"/><rect x="1076.1" y="902.7" width="20.3" height="24.0" fill="rgb(140,140,140)"/><rect x="1096.1" y="902.7" width="40.2" height="24.0" fill="rgb(166,166,166)"/><rect x="1136.0" y="902.7" width="60.2" height="24.0" fill="rgb(140,140,140)"/><rect x="1195.9" y="902.7" width="80.3" height="24.0" fill="rgb(89,89,89)"/><rect x="836.4" y="926.4" width="80.3" height="24.0" fill="rgb(89,89,89)"/><rect x="916.4" y="926.4" width="60.2" height="24.0" fill="rgb(64,64,64)"/><rect x="976.3" y="926.4" width="20.3" height="24.0" fill="rgb(89,89,89)"/><rect x="996.2" y="926.4" width="20.3" height="24.0" fill="rgb(140,140,140)"/><rect x="1016.2" y="926.4" width="20.3" height="24.0" fill="rgb(89,89,89)"/><rect x="1036.2" y="926.4" width="20.3" height="24.0" fill="rgb(64,64,64)"/><rect x="1056.2" y="926.4" width="40.2" height="24.0" fill="rgb(89,89,89)"/><rect x="1096.1" y="926.4" width="20.3" height="24.0" fill="rgb(64,64,64)"/><rect x="1116.1" y="926.4" width="20.3" height="24.0" fill="rgb(89,89,89)"/><rect x="1136.0" y="926.4" width="20.3" height="24.0" fill="rgb(115,115,115)"/><rect x="1156.0" y="926.4" width="20.3" height="24.0" fill="rgb(89,89,89)"/><rect x="1176.0" y="926.4" width="20.3" height="24.0" fill="rgb(64,64,64)"/><rect x="1195.9" y="926.4" width="80.3" height="24.0" fill="rgb(89,89,89)"/><rect x="836.4" y="950.1" width="100.2" height="24.0" fill="rgb(115,115,115)"/><rect x="936.3" y="950.1" width="20.3" height="24.0" fill="rgb(140,140,140)"/><rect x="956.3" y="950.1" width="20.3" height="24.0" fill="rgb(89,89,89)"/><rect x="976.3" y="950.1" width="20.3" height="24.0" fill="rgb(64,64,64)"/><rect x="996.2" y="950.1" width="20.3" height="24.0" fill="rgb(89,89,89)"/><rect x="1016.2" y="950.1" width="20.3" height="24.0" fill="rgb(115,115,115)"/><rect x="1036.2" y="950.1" width="40.2" height="24.0" fill="rgb(140,140,140)"/><rect x="1076.1" y="950.1" width="20.3" height="24.0" fill="rgb(115,115,115)"/><rect x="1096.1" y="950.1" width="20.3" height="24.0" fill="rgb(89,89,89)"/><rect x="1116.1" y="950.1" width="160.1" height="24.0" fill="rgb(115,115,115)"/><rect x="836.4" y="973.7" width="80.3" height="84.0" fill="rgb(140,140,140)"/><rect x="916.4" y="973.7" width="40.2" height="84.0" fill="rgb(166,166,166)"/><rect x="956.3" y="973.7" width="20.3" height="84.0" fill="rgb(115,115,115)"/><rect x="976.3" y="973.7" width="20.3" height="84.0" fill="rgb(64,64,64)"/><rect x="996.2" y="973.7" width="20.3" height="84.0" fill="rgb(89,89,89)"/><rect x="1016.2" y="973.7" width="20.3" height="84.0" fill="rgb(115,115,115)"/><rect x="1036.2" y="973.7" width="20.3" height="84.0" fill="rgb(140,140,140)"/><rect x="1056.2" y="973.7" width="20.3" height="84.0" fill="rgb(166,166,166)"/><rect x="1076.1" y="973.7" width="20.3" height="84.0" fill="rgb(140,140,140)"/><rect x="1096.1" y="973.7" width="20.3" height="84.0" fill="rgb(89,89,89)"/><rect x="1116.1" y="973.7" width="20.3" height="84.0" fill="rgb(140,140,140)"/><rect x="1136.0" y="973.7" width="140.2" height="84.0" fill="rgb(115,115,115)"/>
</g>
<use href="#cst" x="896.4" y="713.4"/>
</svg>
<rect x="1139.1" y="950.2" width="69.2" height="38.8" fill="#fff"/>
<text class="s" x="1173.7" y="978.6" text-anchor="middle">52%</text>
<rect x="897.3" y="714.3" width="317.7" height="282.2" fill="none" stroke="#000" stroke-width="1.8"/>
<svg x="1220.3" y="713.4" width="319.5" height="284.0" viewBox="1220.3 713.4 319.5 284.0"><g filter="url(#q)">
<rect x="1160.3" y="653.4" width="439.5" height="404.0" fill="rgb(13,13,13)"/>
<rect x="1160.3" y="653.4" width="80.3" height="84.0" fill="rgb(140,140,140)"/><rect x="1240.3" y="653.4" width="40.2" height="84.0" fill="rgb(166,166,166)"/><rect x="1280.2" y="653.4" width="40.2" height="84.0" fill="rgb(140,140,140)"/><rect x="1320.1" y="653.4" width="60.2" height="84.0" fill="rgb(115,115,115)"/><rect x="1380.0" y="653.4" width="20.3" height="84.0" fill="rgb(89,89,89)"/><rect x="1400.0" y="653.4" width="20.3" height="84.0" fill="rgb(140,140,140)"/><rect x="1420.0" y="653.4" width="20.3" height="84.0" fill="rgb(115,115,115)"/><rect x="1440.0" y="653.4" width="20.3" height="84.0" fill="rgb(89,89,89)"/><rect x="1459.9" y="653.4" width="20.3" height="84.0" fill="rgb(115,115,115)"/><rect x="1479.9" y="653.4" width="20.3" height="84.0" fill="rgb(140,140,140)"/><rect x="1499.9" y="653.4" width="100.2" height="84.0" fill="rgb(166,166,166)"/><rect x="1160.3" y="737.1" width="80.3" height="24.0" fill="rgb(166,166,166)"/><rect x="1240.3" y="737.1" width="60.2" height="24.0" fill="rgb(115,115,115)"/><rect x="1300.2" y="737.1" width="20.3" height="24.0" fill="rgb(140,140,140)"/><rect x="1320.1" y="737.1" width="20.3" height="24.0" fill="rgb(89,89,89)"/><rect x="1340.1" y="737.1" width="20.3" height="24.0" fill="rgb(38,38,38)"/><rect x="1360.1" y="737.1" width="20.3" height="24.0" fill="rgb(13,13,13)"/><rect x="1380.0" y="737.1" width="20.3" height="24.0" fill="rgb(64,64,64)"/><rect x="1400.0" y="737.1" width="20.3" height="24.0" fill="rgb(89,89,89)"/><rect x="1420.0" y="737.1" width="180.1" height="24.0" fill="rgb(115,115,115)"/><rect x="1160.3" y="760.7" width="80.3" height="24.0" fill="rgb(115,115,115)"/><rect x="1240.3" y="760.7" width="20.3" height="24.0" fill="rgb(89,89,89)"/><rect x="1260.2" y="760.7" width="40.2" height="24.0" fill="rgb(38,38,38)"/><rect x="1300.2" y="760.7" width="20.3" height="24.0" fill="rgb(89,89,89)"/><rect x="1320.1" y="760.7" width="20.3" height="24.0" fill="rgb(64,64,64)"/><rect x="1340.1" y="760.7" width="40.2" height="24.0" fill="rgb(38,38,38)"/><rect x="1380.0" y="760.7" width="20.3" height="24.0" fill="rgb(64,64,64)"/><rect x="1400.0" y="760.7" width="40.2" height="24.0" fill="rgb(38,38,38)"/><rect x="1440.0" y="760.7" width="20.3" height="24.0" fill="rgb(13,13,13)"/><rect x="1459.9" y="760.7" width="40.2" height="24.0" fill="rgb(38,38,38)"/><rect x="1499.9" y="760.7" width="20.3" height="24.0" fill="rgb(64,64,64)"/><rect x="1519.8" y="760.7" width="80.3" height="24.0" fill="rgb(89,89,89)"/><rect x="1160.3" y="784.4" width="80.3" height="24.0" fill="rgb(38,38,38)"/><rect x="1240.3" y="784.4" width="100.1" height="24.0" fill="rgb(13,13,13)"/><rect x="1340.1" y="784.4" width="20.3" height="24.0" fill="rgb(38,38,38)"/><rect x="1360.1" y="784.4" width="20.3" height="24.0" fill="rgb(89,89,89)"/><rect x="1380.0" y="784.4" width="20.3" height="24.0" fill="rgb(115,115,115)"/><rect x="1400.0" y="784.4" width="20.3" height="24.0" fill="rgb(89,89,89)"/><rect x="1420.0" y="784.4" width="40.2" height="24.0" fill="rgb(13,13,13)"/><rect x="1459.9" y="784.4" width="140.2" height="24.0" fill="rgb(38,38,38)"/><rect x="1160.3" y="808.1" width="120.2" height="24.0" fill="rgb(13,13,13)"/><rect x="1280.2" y="808.1" width="20.3" height="24.0" fill="rgb(38,38,38)"/><rect x="1300.2" y="808.1" width="40.2" height="24.0" fill="rgb(64,64,64)"/><rect x="1340.1" y="808.1" width="20.3" height="24.0" fill="rgb(89,89,89)"/><rect x="1360.1" y="808.1" width="20.3" height="24.0" fill="rgb(38,38,38)"/><rect x="1380.0" y="808.1" width="80.2" height="24.0" fill="rgb(13,13,13)"/><rect x="1459.9" y="808.1" width="40.2" height="24.0" fill="rgb(38,38,38)"/><rect x="1499.9" y="808.1" width="20.3" height="24.0" fill="rgb(64,64,64)"/><rect x="1519.8" y="808.1" width="80.3" height="24.0" fill="rgb(38,38,38)"/><rect x="1160.3" y="831.7" width="120.2" height="24.0" fill="rgb(38,38,38)"/><rect x="1280.2" y="831.7" width="20.3" height="24.0" fill="rgb(64,64,64)"/><rect x="1300.2" y="831.7" width="40.2" height="24.0" fill="rgb(38,38,38)"/><rect x="1340.1" y="831.7" width="60.2" height="24.0" fill="rgb(13,13,13)"/><rect x="1400.0" y="831.7" width="20.3" height="24.0" fill="rgb(64,64,64)"/><rect x="1420.0" y="831.7" width="20.3" height="24.0" fill="rgb(38,38,38)"/><rect x="1440.0" y="831.7" width="40.2" height="24.0" fill="rgb(13,13,13)"/><rect x="1479.9" y="831.7" width="20.3" height="24.0" fill="rgb(38,38,38)"/><rect x="1499.9" y="831.7" width="20.3" height="24.0" fill="rgb(64,64,64)"/><rect x="1519.8" y="831.7" width="80.3" height="24.0" fill="rgb(38,38,38)"/><rect x="1160.3" y="855.4" width="80.3" height="24.0" fill="rgb(13,13,13)"/><rect x="1240.3" y="855.4" width="20.3" height="24.0" fill="rgb(38,38,38)"/><rect x="1260.2" y="855.4" width="40.2" height="24.0" fill="rgb(64,64,64)"/><rect x="1300.2" y="855.4" width="100.1" height="24.0" fill="rgb(13,13,13)"/><rect x="1400.0" y="855.4" width="20.3" height="24.0" fill="rgb(38,38,38)"/><rect x="1420.0" y="855.4" width="180.1" height="24.0" fill="rgb(13,13,13)"/><rect x="1160.3" y="879.1" width="80.3" height="24.0" fill="rgb(13,13,13)"/><rect x="1240.3" y="879.1" width="20.3" height="24.0" fill="rgb(38,38,38)"/><rect x="1260.2" y="879.1" width="20.3" height="24.0" fill="rgb(64,64,64)"/><rect x="1280.2" y="879.1" width="20.3" height="24.0" fill="rgb(89,89,89)"/><rect x="1300.2" y="879.1" width="20.3" height="24.0" fill="rgb(38,38,38)"/><rect x="1320.1" y="879.1" width="20.3" height="24.0" fill="rgb(13,13,13)"/><rect x="1340.1" y="879.1" width="60.2" height="24.0" fill="rgb(38,38,38)"/><rect x="1400.0" y="879.1" width="40.2" height="24.0" fill="rgb(13,13,13)"/><rect x="1440.0" y="879.1" width="20.3" height="24.0" fill="rgb(38,38,38)"/><rect x="1459.9" y="879.1" width="20.3" height="24.0" fill="rgb(64,64,64)"/><rect x="1479.9" y="879.1" width="120.2" height="24.0" fill="rgb(13,13,13)"/><rect x="1160.3" y="902.7" width="120.2" height="24.0" fill="rgb(38,38,38)"/><rect x="1280.2" y="902.7" width="20.3" height="24.0" fill="rgb(64,64,64)"/><rect x="1300.2" y="902.7" width="20.3" height="24.0" fill="rgb(89,89,89)"/><rect x="1320.1" y="902.7" width="20.3" height="24.0" fill="rgb(13,13,13)"/><rect x="1340.1" y="902.7" width="20.3" height="24.0" fill="rgb(38,38,38)"/><rect x="1360.1" y="902.7" width="20.3" height="24.0" fill="rgb(64,64,64)"/><rect x="1380.0" y="902.7" width="20.3" height="24.0" fill="rgb(89,89,89)"/><rect x="1400.0" y="902.7" width="20.3" height="24.0" fill="rgb(38,38,38)"/><rect x="1420.0" y="902.7" width="20.3" height="24.0" fill="rgb(13,13,13)"/><rect x="1440.0" y="902.7" width="20.3" height="24.0" fill="rgb(64,64,64)"/><rect x="1459.9" y="902.7" width="20.3" height="24.0" fill="rgb(115,115,115)"/><rect x="1479.9" y="902.7" width="20.3" height="24.0" fill="rgb(64,64,64)"/><rect x="1499.9" y="902.7" width="20.3" height="24.0" fill="rgb(13,13,13)"/><rect x="1519.8" y="902.7" width="80.3" height="24.0" fill="rgb(38,38,38)"/><rect x="1160.3" y="926.4" width="80.3" height="24.0" fill="rgb(64,64,64)"/><rect x="1240.3" y="926.4" width="20.3" height="24.0" fill="rgb(89,89,89)"/><rect x="1260.2" y="926.4" width="60.2" height="24.0" fill="rgb(64,64,64)"/><rect x="1320.1" y="926.4" width="20.3" height="24.0" fill="rgb(38,38,38)"/><rect x="1340.1" y="926.4" width="100.1" height="24.0" fill="rgb(115,115,115)"/><rect x="1440.0" y="926.4" width="20.3" height="24.0" fill="rgb(140,140,140)"/><rect x="1459.9" y="926.4" width="20.3" height="24.0" fill="rgb(166,166,166)"/><rect x="1479.9" y="926.4" width="40.2" height="24.0" fill="rgb(140,140,140)"/><rect x="1519.8" y="926.4" width="80.3" height="24.0" fill="rgb(115,115,115)"/><rect x="1160.3" y="950.1" width="80.3" height="24.0" fill="rgb(140,140,140)"/><rect x="1240.3" y="950.1" width="20.3" height="24.0" fill="rgb(115,115,115)"/><rect x="1260.2" y="950.1" width="20.3" height="24.0" fill="rgb(89,89,89)"/><rect x="1280.2" y="950.1" width="20.3" height="24.0" fill="rgb(115,115,115)"/><rect x="1300.2" y="950.1" width="20.3" height="24.0" fill="rgb(166,166,166)"/><rect x="1320.1" y="950.1" width="20.3" height="24.0" fill="rgb(140,140,140)"/><rect x="1340.1" y="950.1" width="20.3" height="24.0" fill="rgb(115,115,115)"/><rect x="1360.1" y="950.1" width="40.2" height="24.0" fill="rgb(89,89,89)"/><rect x="1400.0" y="950.1" width="40.2" height="24.0" fill="rgb(115,115,115)"/><rect x="1440.0" y="950.1" width="80.2" height="24.0" fill="rgb(89,89,89)"/><rect x="1519.8" y="950.1" width="80.3" height="24.0" fill="rgb(115,115,115)"/><rect x="1160.3" y="973.7" width="80.3" height="84.0" fill="rgb(38,38,38)"/><rect x="1240.3" y="973.7" width="40.2" height="84.0" fill="rgb(13,13,13)"/><rect x="1280.2" y="973.7" width="20.3" height="84.0" fill="rgb(64,64,64)"/><rect x="1300.2" y="973.7" width="20.3" height="84.0" fill="rgb(89,89,89)"/><rect x="1320.1" y="973.7" width="80.2" height="84.0" fill="rgb(64,64,64)"/><rect x="1400.0" y="973.7" width="20.3" height="84.0" fill="rgb(89,89,89)"/><rect x="1420.0" y="973.7" width="20.3" height="84.0" fill="rgb(115,115,115)"/><rect x="1440.0" y="973.7" width="160.1" height="84.0" fill="rgb(89,89,89)"/>
</g>
<use href="#cst" x="1220.3" y="713.4"/>
</svg>
<rect x="1463.0" y="950.2" width="69.2" height="38.8" fill="#fff"/>
<text class="s" x="1497.6" y="978.6" text-anchor="middle">20%</text>
<rect x="1221.2" y="714.3" width="317.7" height="282.2" fill="none" stroke="#000" stroke-width="1.8"/>
<text class="t" x="245.8" y="1092.2" text-anchor="middle">Internal variability</text>
<text class="t" x="569.6" y="1092.2" text-anchor="middle">Model uncertainty</text>
<text class="t" x="893.2" y="1092.2" text-anchor="middle">Scenario uncertainty</text>
<text class="r" transform="translate(38.2 1243.3) rotate(-90)" text-anchor="middle">1st decade</text>
<text class="r" transform="translate(71.8 1240.7) rotate(-90)" text-anchor="middle">(2015–2024)</text>
<text class="r" transform="translate(38.2 1528.3) rotate(-90)" text-anchor="middle">4th decade</text>
<text class="r" transform="translate(71.8 1524.4) rotate(-90)" text-anchor="middle">(2045–2054)</text>
<text class="r" transform="translate(38.2 1817.4) rotate(-90)" text-anchor="middle">8th decade</text>
<text class="r" transform="translate(71.8 1814.3) rotate(-90)" text-anchor="middle">(2085–2094)</text>
<svg x="88.7" y="1107.6" width="319.5" height="284.0" viewBox="88.7 1107.6 319.5 284.0"><g filter="url(#q)">
<rect x="28.7" y="1047.6" width="439.5" height="404.0" fill="rgb(13,13,13)"/>
<rect x="28.7" y="1047.6" width="120.2" height="84.0" fill="rgb(166,166,166)"/><rect x="148.6" y="1047.6" width="40.2" height="84.0" fill="rgb(191,191,191)"/><rect x="188.5" y="1047.6" width="40.2" height="84.0" fill="rgb(217,217,217)"/><rect x="228.5" y="1047.6" width="20.3" height="84.0" fill="rgb(191,191,191)"/><rect x="248.4" y="1047.6" width="80.2" height="84.0" fill="rgb(166,166,166)"/><rect x="328.3" y="1047.6" width="20.3" height="84.0" fill="rgb(191,191,191)"/><rect x="348.3" y="1047.6" width="120.2" height="84.0" fill="rgb(166,166,166)"/><rect x="28.7" y="1131.3" width="80.3" height="24.0" fill="rgb(191,191,191)"/><rect x="108.7" y="1131.3" width="80.2" height="24.0" fill="rgb(217,217,217)"/><rect x="188.5" y="1131.3" width="20.3" height="24.0" fill="rgb(191,191,191)"/><rect x="208.5" y="1131.3" width="20.3" height="24.0" fill="rgb(217,217,217)"/><rect x="228.5" y="1131.3" width="40.2" height="24.0" fill="rgb(191,191,191)"/><rect x="268.4" y="1131.3" width="20.3" height="24.0" fill="rgb(217,217,217)"/><rect x="288.4" y="1131.3" width="180.1" height="24.0" fill="rgb(191,191,191)"/><rect x="28.7" y="1154.9" width="180.1" height="24.0" fill="rgb(217,217,217)"/><rect x="208.5" y="1154.9" width="20.3" height="24.0" fill="rgb(166,166,166)"/><rect x="228.5" y="1154.9" width="20.3" height="24.0" fill="rgb(191,191,191)"/><rect x="248.4" y="1154.9" width="20.3" height="24.0" fill="rgb(217,217,217)"/><rect x="268.4" y="1154.9" width="40.2" height="24.0" fill="rgb(191,191,191)"/><rect x="308.4" y="1154.9" width="160.1" height="24.0" fill="rgb(217,217,217)"/><rect x="28.7" y="1178.6" width="100.2" height="24.0" fill="rgb(217,217,217)"/><rect x="128.6" y="1178.6" width="40.2" height="24.0" fill="rgb(242,242,242)"/><rect x="168.6" y="1178.6" width="20.3" height="24.0" fill="rgb(217,217,217)"/><rect x="188.5" y="1178.6" width="20.3" height="24.0" fill="rgb(191,191,191)"/><rect x="208.5" y="1178.6" width="60.2" height="24.0" fill="rgb(217,217,217)"/><rect x="268.4" y="1178.6" width="20.3" height="24.0" fill="rgb(242,242,242)"/><rect x="288.4" y="1178.6" width="20.3" height="24.0" fill="rgb(217,217,217)"/><rect x="308.4" y="1178.6" width="20.3" height="24.0" fill="rgb(166,166,166)"/><rect x="328.3" y="1178.6" width="20.3" height="24.0" fill="rgb(191,191,191)"/><rect x="348.3" y="1178.6" width="120.2" height="24.0" fill="rgb(217,217,217)"/><rect x="28.7" y="1202.3" width="120.2" height="24.0" fill="rgb(217,217,217)"/><rect x="148.6" y="1202.3" width="20.3" height="24.0" fill="rgb(191,191,191)"/><rect x="168.6" y="1202.3" width="40.2" height="24.0" fill="rgb(217,217,217)"/><rect x="208.5" y="1202.3" width="20.3" height="24.0" fill="rgb(191,191,191)"/><rect x="228.5" y="1202.3" width="40.2" height="24.0" fill="rgb(217,217,217)"/><rect x="268.4" y="1202.3" width="20.3" height="24.0" fill="rgb(242,242,242)"/><rect x="288.4" y="1202.3" width="40.2" height="24.0" fill="rgb(217,217,217)"/><rect x="328.3" y="1202.3" width="40.2" height="24.0" fill="rgb(242,242,242)"/><rect x="368.3" y="1202.3" width="100.2" height="24.0" fill="rgb(217,217,217)"/><rect x="28.7" y="1225.9" width="80.3" height="24.0" fill="rgb(217,217,217)"/><rect x="108.7" y="1225.9" width="20.3" height="24.0" fill="rgb(242,242,242)"/><rect x="128.6" y="1225.9" width="20.3" height="24.0" fill="rgb(217,217,217)"/><rect x="148.6" y="1225.9" width="20.3" height="24.0" fill="rgb(191,191,191)"/><rect x="168.6" y="1225.9" width="40.2" height="24.0" fill="rgb(217,217,217)"/><rect x="208.5" y="1225.9" width="40.2" height="24.0" fill="rgb(191,191,191)"/><rect x="248.4" y="1225.9" width="40.2" height="24.0" fill="rgb(166,166,166)"/><rect x="288.4" y="1225.9" width="180.1" height="24.0" fill="rgb(217,217,217)"/><rect x="28.7" y="1249.6" width="80.3" height="24.0" fill="rgb(217,217,217)"/><rect x="108.7" y="1249.6" width="20.3" height="24.0" fill="rgb(242,242,242)"/><rect x="128.6" y="1249.6" width="40.2" height="24.0" fill="rgb(191,191,191)"/><rect x="168.6" y="1249.6" width="40.2" height="24.0" fill="rgb(166,166,166)"/><rect x="208.5" y="1249.6" width="40.2" height="24.0" fill="rgb(217,217,217)"/><rect x="248.4" y="1249.6" width="20.3" height="24.0" fill="rgb(191,191,191)"/><rect x="268.4" y="1249.6" width="20.3" height="24.0" fill="rgb(166,166,166)"/><rect x="288.4" y="1249.6" width="180.1" height="24.0" fill="rgb(217,217,217)"/><rect x="28.7" y="1273.3" width="100.2" height="24.0" fill="rgb(191,191,191)"/><rect x="128.6" y="1273.3" width="20.3" height="24.0" fill="rgb(166,166,166)"/><rect x="148.6" y="1273.3" width="20.3" height="24.0" fill="rgb(217,217,217)"/><rect x="168.6" y="1273.3" width="40.2" height="24.0" fill="rgb(191,191,191)"/><rect x="208.5" y="1273.3" width="260.0" height="24.0" fill="rgb(217,217,217)"/><rect x="28.7" y="1296.9" width="100.2" height="24.0" fill="rgb(242,242,242)"/><rect x="128.6" y="1296.9" width="40.2" height="24.0" fill="rgb(217,217,217)"/><rect x="168.6" y="1296.9" width="20.3" height="24.0" fill="rgb(191,191,191)"/><rect x="188.5" y="1296.9" width="120.1" height="24.0" fill="rgb(217,217,217)"/><rect x="308.4" y="1296.9" width="20.3" height="24.0" fill="rgb(242,242,242)"/><rect x="328.3" y="1296.9" width="20.3" height="24.0" fill="rgb(217,217,217)"/><rect x="348.3" y="1296.9" width="20.3" height="24.0" fill="rgb(242,242,242)"/><rect x="368.3" y="1296.9" width="20.3" height="24.0" fill="rgb(217,217,217)"/><rect x="388.2" y="1296.9" width="80.3" height="24.0" fill="rgb(242,242,242)"/><rect x="28.7" y="1320.6" width="80.3" height="24.0" fill="rgb(217,217,217)"/><rect x="108.7" y="1320.6" width="20.3" height="24.0" fill="rgb(242,242,242)"/><rect x="128.6" y="1320.6" width="100.1" height="24.0" fill="rgb(217,217,217)"/><rect x="228.5" y="1320.6" width="100.1" height="24.0" fill="rgb(191,191,191)"/><rect x="328.3" y="1320.6" width="140.2" height="24.0" fill="rgb(217,217,217)"/><rect x="28.7" y="1344.3" width="80.3" height="24.0" fill="rgb(217,217,217)"/><rect x="108.7" y="1344.3" width="60.2" height="24.0" fill="rgb(191,191,191)"/><rect x="168.6" y="1344.3" width="40.2" height="24.0" fill="rgb(217,217,217)"/><rect x="208.5" y="1344.3" width="120.1" height="24.0" fill="rgb(191,191,191)"/><rect x="328.3" y="1344.3" width="140.2" height="24.0" fill="rgb(217,217,217)"/><rect x="28.7" y="1367.9" width="140.2" height="84.0" fill="rgb(217,217,217)"/><rect x="168.6" y="1367.9" width="80.2" height="84.0" fill="rgb(242,242,242)"/><rect x="248.4" y="1367.9" width="220.1" height="84.0" fill="rgb(217,217,217)"/>
</g>
<use href="#cst" x="88.7" y="1107.6"/>
</svg>
<rect x="331.4" y="1344.4" width="69.2" height="38.8" fill="#fff"/>
<text class="s" x="366.0" y="1372.8" text-anchor="middle">83%</text>
<rect x="89.6" y="1108.5" width="317.7" height="282.2" fill="none" stroke="#000" stroke-width="1.8"/>
<svg x="412.5" y="1107.6" width="319.5" height="284.0" viewBox="412.5 1107.6 319.5 284.0"><g filter="url(#q)">
<rect x="352.5" y="1047.6" width="439.5" height="404.0" fill="rgb(13,13,13)"/>
<rect x="352.5" y="1047.6" width="120.2" height="84.0" fill="rgb(89,89,89)"/><rect x="472.4" y="1047.6" width="40.2" height="84.0" fill="rgb(64,64,64)"/><rect x="512.3" y="1047.6" width="40.2" height="84.0" fill="rgb(38,38,38)"/><rect x="552.3" y="1047.6" width="20.3" height="84.0" fill="rgb(64,64,64)"/><rect x="572.2" y="1047.6" width="80.2" height="84.0" fill="rgb(89,89,89)"/><rect x="652.1" y="1047.6" width="20.3" height="84.0" fill="rgb(64,64,64)"/><rect x="672.1" y="1047.6" width="120.2" height="84.0" fill="rgb(89,89,89)"/><rect x="352.5" y="1131.3" width="80.3" height="24.0" fill="rgb(64,64,64)"/><rect x="432.5" y="1131.3" width="80.2" height="24.0" fill="rgb(38,38,38)"/><rect x="512.3" y="1131.3" width="20.3" height="24.0" fill="rgb(64,64,64)"/><rect x="532.3" y="1131.3" width="20.3" height="24.0" fill="rgb(38,38,38)"/><rect x="552.3" y="1131.3" width="40.2" height="24.0" fill="rgb(64,64,64)"/><rect x="592.2" y="1131.3" width="20.3" height="24.0" fill="rgb(38,38,38)"/><rect x="612.2" y="1131.3" width="180.1" height="24.0" fill="rgb(64,64,64)"/><rect x="352.5" y="1154.9" width="180.1" height="24.0" fill="rgb(38,38,38)"/><rect x="532.3" y="1154.9" width="20.3" height="24.0" fill="rgb(89,89,89)"/><rect x="552.3" y="1154.9" width="20.3" height="24.0" fill="rgb(64,64,64)"/><rect x="572.2" y="1154.9" width="20.3" height="24.0" fill="rgb(38,38,38)"/><rect x="592.2" y="1154.9" width="40.2" height="24.0" fill="rgb(64,64,64)"/><rect x="632.2" y="1154.9" width="160.1" height="24.0" fill="rgb(38,38,38)"/><rect x="352.5" y="1178.6" width="100.2" height="24.0" fill="rgb(38,38,38)"/><rect x="452.4" y="1178.6" width="40.2" height="24.0" fill="rgb(13,13,13)"/><rect x="492.4" y="1178.6" width="20.3" height="24.0" fill="rgb(38,38,38)"/><rect x="512.3" y="1178.6" width="20.3" height="24.0" fill="rgb(64,64,64)"/><rect x="532.3" y="1178.6" width="60.2" height="24.0" fill="rgb(38,38,38)"/><rect x="592.2" y="1178.6" width="20.3" height="24.0" fill="rgb(13,13,13)"/><rect x="612.2" y="1178.6" width="20.3" height="24.0" fill="rgb(38,38,38)"/><rect x="632.2" y="1178.6" width="20.3" height="24.0" fill="rgb(89,89,89)"/><rect x="652.1" y="1178.6" width="20.3" height="24.0" fill="rgb(64,64,64)"/><rect x="672.1" y="1178.6" width="120.2" height="24.0" fill="rgb(38,38,38)"/><rect x="352.5" y="1202.3" width="120.2" height="24.0" fill="rgb(38,38,38)"/><rect x="472.4" y="1202.3" width="20.3" height="24.0" fill="rgb(64,64,64)"/><rect x="492.4" y="1202.3" width="40.2" height="24.0" fill="rgb(38,38,38)"/><rect x="532.3" y="1202.3" width="20.3" height="24.0" fill="rgb(64,64,64)"/><rect x="552.3" y="1202.3" width="40.2" height="24.0" fill="rgb(38,38,38)"/><rect x="592.2" y="1202.3" width="20.3" height="24.0" fill="rgb(13,13,13)"/><rect x="612.2" y="1202.3" width="40.2" height="24.0" fill="rgb(38,38,38)"/><rect x="652.1" y="1202.3" width="40.2" height="24.0" fill="rgb(13,13,13)"/><rect x="692.1" y="1202.3" width="100.2" height="24.0" fill="rgb(38,38,38)"/><rect x="352.5" y="1225.9" width="80.3" height="24.0" fill="rgb(38,38,38)"/><rect x="432.5" y="1225.9" width="20.3" height="24.0" fill="rgb(13,13,13)"/><rect x="452.4" y="1225.9" width="20.3" height="24.0" fill="rgb(38,38,38)"/><rect x="472.4" y="1225.9" width="20.3" height="24.0" fill="rgb(64,64,64)"/><rect x="492.4" y="1225.9" width="40.2" height="24.0" fill="rgb(38,38,38)"/><rect x="532.3" y="1225.9" width="40.2" height="24.0" fill="rgb(64,64,64)"/><rect x="572.2" y="1225.9" width="40.2" height="24.0" fill="rgb(89,89,89)"/><rect x="612.2" y="1225.9" width="180.1" height="24.0" fill="rgb(38,38,38)"/><rect x="352.5" y="1249.6" width="80.3" height="24.0" fill="rgb(38,38,38)"/><rect x="432.5" y="1249.6" width="20.3" height="24.0" fill="rgb(13,13,13)"/><rect x="452.4" y="1249.6" width="40.2" height="24.0" fill="rgb(64,64,64)"/><rect x="492.4" y="1249.6" width="40.2" height="24.0" fill="rgb(89,89,89)"/><rect x="532.3" y="1249.6" width="40.2" height="24.0" fill="rgb(38,38,38)"/><rect x="572.2" y="1249.6" width="20.3" height="24.0" fill="rgb(64,64,64)"/><rect x="592.2" y="1249.6" width="20.3" height="24.0" fill="rgb(89,89,89)"/><rect x="612.2" y="1249.6" width="180.1" height="24.0" fill="rgb(38,38,38)"/><rect x="352.5" y="1273.3" width="100.2" height="24.0" fill="rgb(64,64,64)"/><rect x="452.4" y="1273.3" width="20.3" height="24.0" fill="rgb(89,89,89)"/><rect x="472.4" y="1273.3" width="20.3" height="24.0" fill="rgb(38,38,38)"/><rect x="492.4" y="1273.3" width="40.2" height="24.0" fill="rgb(64,64,64)"/><rect x="532.3" y="1273.3" width="260.0" height="24.0" fill="rgb(38,38,38)"/><rect x="352.5" y="1296.9" width="100.2" height="24.0" fill="rgb(13,13,13)"/><rect x="452.4" y="1296.9" width="40.2" height="24.0" fill="rgb(38,38,38)"/><rect x="492.4" y="1296.9" width="20.3" height="24.0" fill="rgb(64,64,64)"/><rect x="512.3" y="1296.9" width="120.1" height="24.0" fill="rgb(38,38,38)"/><rect x="632.2" y="1296.9" width="20.3" height="24.0" fill="rgb(13,13,13)"/><rect x="652.1" y="1296.9" width="20.3" height="24.0" fill="rgb(38,38,38)"/><rect x="672.1" y="1296.9" width="20.3" height="24.0" fill="rgb(13,13,13)"/><rect x="692.1" y="1296.9" width="20.3" height="24.0" fill="rgb(38,38,38)"/><rect x="712.0" y="1296.9" width="80.3" height="24.0" fill="rgb(13,13,13)"/><rect x="352.5" y="1320.6" width="80.3" height="24.0" fill="rgb(38,38,38)"/><rect x="432.5" y="1320.6" width="20.3" height="24.0" fill="rgb(13,13,13)"/><rect x="452.4" y="1320.6" width="100.1" height="24.0" fill="rgb(38,38,38)"/><rect x="552.3" y="1320.6" width="100.1" height="24.0" fill="rgb(64,64,64)"/><rect x="652.1" y="1320.6" width="140.2" height="24.0" fill="rgb(38,38,38)"/><rect x="352.5" y="1344.3" width="80.3" height="24.0" fill="rgb(38,38,38)"/><rect x="432.5" y="1344.3" width="60.2" height="24.0" fill="rgb(64,64,64)"/><rect x="492.4" y="1344.3" width="40.2" height="24.0" fill="rgb(38,38,38)"/><rect x="532.3" y="1344.3" width="120.1" height="24.0" fill="rgb(64,64,64)"/><rect x="652.1" y="1344.3" width="140.2" height="24.0" fill="rgb(38,38,38)"/><rect x="352.5" y="1367.9" width="140.2" height="84.0" fill="rgb(38,38,38)"/><rect x="492.4" y="1367.9" width="80.2" height="84.0" fill="rgb(13,13,13)"/><rect x="572.2" y="1367.9" width="220.1" height="84.0" fill="rgb(38,38,38)"/>
</g>
<use href="#cst" x="412.5" y="1107.6"/>
</svg>
<rect x="655.2" y="1344.4" width="69.2" height="38.8" fill="#fff"/>
<text class="s" x="689.8" y="1372.8" text-anchor="middle">17%</text>
<rect x="413.4" y="1108.5" width="317.7" height="282.2" fill="none" stroke="#000" stroke-width="1.8"/>
<svg x="736.1" y="1107.6" width="319.5" height="284.0" viewBox="736.1 1107.6 319.5 284.0"><g filter="url(#q)">
<rect x="676.1" y="1047.6" width="439.5" height="404.0" fill="rgb(13,13,13)"/>

</g>
<use href="#cst" x="736.1" y="1107.6"/>
</svg>
<rect x="992.1" y="1344.4" width="55.9" height="38.8" fill="#fff"/>
<text class="s" x="1020.1" y="1372.8" text-anchor="middle">0%</text>
<rect x="737.0" y="1108.5" width="317.7" height="282.2" fill="none" stroke="#000" stroke-width="1.8"/>
<svg x="88.7" y="1396.2" width="319.5" height="284.0" viewBox="88.7 1396.2 319.5 284.0"><g filter="url(#q)">
<rect x="28.7" y="1336.2" width="439.5" height="404.0" fill="rgb(13,13,13)"/>
<rect x="28.7" y="1336.2" width="140.2" height="84.0" fill="rgb(38,38,38)"/><rect x="168.6" y="1336.2" width="80.2" height="84.0" fill="rgb(64,64,64)"/><rect x="248.4" y="1336.2" width="120.1" height="84.0" fill="rgb(38,38,38)"/><rect x="368.3" y="1336.2" width="100.2" height="84.0" fill="rgb(13,13,13)"/><rect x="28.7" y="1419.9" width="120.2" height="24.0" fill="rgb(64,64,64)"/><rect x="148.6" y="1419.9" width="40.2" height="24.0" fill="rgb(38,38,38)"/><rect x="188.5" y="1419.9" width="20.3" height="24.0" fill="rgb(64,64,64)"/><rect x="208.5" y="1419.9" width="20.3" height="24.0" fill="rgb(89,89,89)"/><rect x="228.5" y="1419.9" width="60.2" height="24.0" fill="rgb(64,64,64)"/><rect x="288.4" y="1419.9" width="20.3" height="24.0" fill="rgb(89,89,89)"/><rect x="308.4" y="1419.9" width="160.1" height="24.0" fill="rgb(64,64,64)"/><rect x="28.7" y="1443.5" width="80.3" height="24.0" fill="rgb(89,89,89)"/><rect x="108.7" y="1443.5" width="60.2" height="24.0" fill="rgb(115,115,115)"/><rect x="168.6" y="1443.5" width="20.3" height="24.0" fill="rgb(89,89,89)"/><rect x="188.5" y="1443.5" width="20.3" height="24.0" fill="rgb(64,64,64)"/><rect x="208.5" y="1443.5" width="20.3" height="24.0" fill="rgb(38,38,38)"/><rect x="228.5" y="1443.5" width="20.3" height="24.0" fill="rgb(64,64,64)"/><rect x="248.4" y="1443.5" width="40.2" height="24.0" fill="rgb(89,89,89)"/><rect x="288.4" y="1443.5" width="40.2" height="24.0" fill="rgb(115,115,115)"/><rect x="328.3" y="1443.5" width="20.3" height="24.0" fill="rgb(89,89,89)"/><rect x="348.3" y="1443.5" width="20.3" height="24.0" fill="rgb(115,115,115)"/><rect x="368.3" y="1443.5" width="20.3" height="24.0" fill="rgb(89,89,89)"/><rect x="388.2" y="1443.5" width="80.3" height="24.0" fill="rgb(115,115,115)"/><rect x="28.7" y="1467.2" width="80.3" height="24.0" fill="rgb(166,166,166)"/><rect x="108.7" y="1467.2" width="20.3" height="24.0" fill="rgb(140,140,140)"/><rect x="128.6" y="1467.2" width="20.3" height="24.0" fill="rgb(115,115,115)"/><rect x="148.6" y="1467.2" width="20.3" height="24.0" fill="rgb(140,140,140)"/><rect x="168.6" y="1467.2" width="20.3" height="24.0" fill="rgb(115,115,115)"/><rect x="188.5" y="1467.2" width="40.2" height="24.0" fill="rgb(64,64,64)"/><rect x="228.5" y="1467.2" width="20.3" height="24.0" fill="rgb(89,89,89)"/><rect x="248.4" y="1467.2" width="60.2" height="24.0" fill="rgb(115,115,115)"/><rect x="308.4" y="1467.2" width="20.3" height="24.0" fill="rgb(64,64,64)"/><rect x="328.3" y="1467.2" width="20.3" height="24.0" fill="rgb(89,89,89)"/><rect x="348.3" y="1467.2" width="20.3" height="24.0" fill="rgb(140,140,140)"/><rect x="368.3" y="1467.2" width="100.2" height="24.0" fill="rgb(115,115,115)"/><rect x="28.7" y="1490.9" width="220.1" height="24.0" fill="rgb(115,115,115)"/><rect x="248.4" y="1490.9" width="40.2" height="24.0" fill="rgb(140,140,140)"/><rect x="288.4" y="1490.9" width="20.3" height="24.0" fill="rgb(115,115,115)"/><rect x="308.4" y="1490.9" width="40.2" height="24.0" fill="rgb(89,89,89)"/><rect x="348.3" y="1490.9" width="20.3" height="24.0" fill="rgb(115,115,115)"/><rect x="368.3" y="1490.9" width="20.3" height="24.0" fill="rgb(140,140,140)"/><rect x="388.2" y="1490.9" width="80.3" height="24.0" fill="rgb(115,115,115)"/><rect x="28.7" y="1514.5" width="80.3" height="24.0" fill="rgb(89,89,89)"/><rect x="108.7" y="1514.5" width="20.3" height="24.0" fill="rgb(115,115,115)"/><rect x="128.6" y="1514.5" width="20.3" height="24.0" fill="rgb(89,89,89)"/><rect x="148.6" y="1514.5" width="60.2" height="24.0" fill="rgb(64,64,64)"/><rect x="208.5" y="1514.5" width="20.3" height="24.0" fill="rgb(89,89,89)"/><rect x="228.5" y="1514.5" width="20.3" height="24.0" fill="rgb(64,64,64)"/><rect x="248.4" y="1514.5" width="40.2" height="24.0" fill="rgb(38,38,38)"/><rect x="288.4" y="1514.5" width="20.3" height="24.0" fill="rgb(64,64,64)"/><rect x="308.4" y="1514.5" width="160.1" height="24.0" fill="rgb(89,89,89)"/><rect x="28.7" y="1538.2" width="120.2" height="24.0" fill="rgb(64,64,64)"/><rect x="148.6" y="1538.2" width="20.3" height="24.0" fill="rgb(89,89,89)"/><rect x="168.6" y="1538.2" width="40.2" height="24.0" fill="rgb(38,38,38)"/><rect x="208.5" y="1538.2" width="20.3" height="24.0" fill="rgb(64,64,64)"/><rect x="228.5" y="1538.2" width="20.3" height="24.0" fill="rgb(89,89,89)"/><rect x="248.4" y="1538.2" width="20.3" height="24.0" fill="rgb(64,64,64)"/><rect x="268.4" y="1538.2" width="20.3" height="24.0" fill="rgb(38,38,38)"/><rect x="288.4" y="1538.2" width="40.2" height="24.0" fill="rgb(89,89,89)"/><rect x="328.3" y="1538.2" width="20.3" height="24.0" fill="rgb(64,64,64)"/><rect x="348.3" y="1538.2" width="20.3" height="24.0" fill="rgb(89,89,89)"/><rect x="368.3" y="1538.2" width="100.2" height="24.0" fill="rgb(38,38,38)"/><rect x="28.7" y="1561.9" width="120.2" height="24.0" fill="rgb(64,64,64)"/><rect x="148.6" y="1561.9" width="40.2" height="24.0" fill="rgb(89,89,89)"/><rect x="188.5" y="1561.9" width="20.3" height="24.0" fill="rgb(64,64,64)"/><rect x="208.5" y="1561.9" width="40.2" height="24.0" fill="rgb(89,89,89)"/><rect x="248.4" y="1561.9" width="40.2" height="24.0" fill="rgb(115,115,115)"/><rect x="288.4" y="1561.9" width="40.2" height="24.0" fill="rgb(140,140,140)"/><rect x="328.3" y="1561.9" width="20.3" height="24.0" fill="rgb(115,115,115)"/><rect x="348.3" y="1561.9" width="40.2" height="24.0" fill="rgb(140,140,140)"/><rect x="388.2" y="1561.9" width="80.3" height="24.0" fill="rgb(89,89,89)"/><rect x="28.7" y="1585.5" width="80.3" height="24.0" fill="rgb(115,115,115)"/><rect x="108.7" y="1585.5" width="20.3" height="24.0" fill="rgb(140,140,140)"/><rect x="128.6" y="1585.5" width="40.2" height="24.0" fill="rgb(115,115,115)"/><rect x="168.6" y="1585.5" width="20.3" height="24.0" fill="rgb(89,89,89)"/><rect x="188.5" y="1585.5" width="20.3" height="24.0" fill="rgb(115,115,115)"/><rect x="208.5" y="1585.5" width="40.2" height="24.0" fill="rgb(89,89,89)"/><rect x="248.4" y="1585.5" width="20.3" height="24.0" fill="rgb(64,64,64)"/><rect x="268.4" y="1585.5" width="20.3" height="24.0" fill="rgb(89,89,89)"/><rect x="288.4" y="1585.5" width="40.2" height="24.0" fill="rgb(115,115,115)"/><rect x="328.3" y="1585.5" width="20.3" height="24.0" fill="rgb(89,89,89)"/><rect x="348.3" y="1585.5" width="40.2" height="24.0" fill="rgb(115,115,115)"/><rect x="388.2" y="1585.5" width="80.3" height="24.0" fill="rgb(140,140,140)"/><rect x="28.7" y="1609.2" width="100.2" height="24.0" fill="rgb(115,115,115)"/><rect x="128.6" y="1609.2" width="40.2" height="24.0" fill="rgb(140,140,140)"/><rect x="168.6" y="1609.2" width="40.2" height="24.0" fill="rgb(115,115,115)"/><rect x="208.5" y="1609.2" width="20.3" height="24.0" fill="rgb(89,89,89)"/><rect x="228.5" y="1609.2" width="60.2" height="24.0" fill="rgb(115,115,115)"/><rect x="288.4" y="1609.2" width="180.1" height="24.0" fill="rgb(89,89,89)"/><rect x="28.7" y="1632.9" width="100.2" height="24.0" fill="rgb(64,64,64)"/><rect x="128.6" y="1632.9" width="80.2" height="24.0" fill="rgb(89,89,89)"/><rect x="208.5" y="1632.9" width="20.3" height="24.0" fill="rgb(64,64,64)"/><rect x="228.5" y="1632.9" width="100.1" height="24.0" fill="rgb(38,38,38)"/><rect x="328.3" y="1632.9" width="140.2" height="24.0" fill="rgb(64,64,64)"/><rect x="28.7" y="1656.5" width="100.2" height="84.0" fill="rgb(89,89,89)"/><rect x="128.6" y="1656.5" width="20.3" height="84.0" fill="rgb(64,64,64)"/><rect x="148.6" y="1656.5" width="20.3" height="84.0" fill="rgb(89,89,89)"/><rect x="168.6" y="1656.5" width="20.3" height="84.0" fill="rgb(115,115,115)"/><rect x="188.5" y="1656.5" width="40.2" height="84.0" fill="rgb(140,140,140)"/><rect x="228.5" y="1656.5" width="40.2" height="84.0" fill="rgb(89,89,89)"/><rect x="268.4" y="1656.5" width="200.1" height="84.0" fill="rgb(64,64,64)"/>
</g>
<use href="#cst" x="88.7" y="1396.2"/>
</svg>
<rect x="331.4" y="1633.0" width="69.2" height="38.8" fill="#fff"/>
<text class="s" x="366.0" y="1661.4" text-anchor="middle">34%</text>
<rect x="89.6" y="1397.1" width="317.7" height="282.2" fill="none" stroke="#000" stroke-width="1.8"/>
<svg x="412.5" y="1396.2" width="319.5" height="284.0" viewBox="412.5 1396.2 319.5 284.0"><g filter="url(#q)">
<rect x="352.5" y="1336.2" width="439.5" height="404.0" fill="rgb(13,13,13)"/>
<rect x="352.5" y="1336.2" width="120.2" height="84.0" fill="rgb(166,166,166)"/><rect x="472.4" y="1336.2" width="80.2" height="84.0" fill="rgb(140,140,140)"/><rect x="552.3" y="1336.2" width="20.3" height="84.0" fill="rgb(166,166,166)"/><rect x="572.2" y="1336.2" width="40.2" height="84.0" fill="rgb(191,191,191)"/><rect x="612.2" y="1336.2" width="60.2" height="84.0" fill="rgb(166,166,166)"/><rect x="672.1" y="1336.2" width="40.2" height="84.0" fill="rgb(191,191,191)"/><rect x="712.0" y="1336.2" width="80.3" height="84.0" fill="rgb(166,166,166)"/><rect x="352.5" y="1419.9" width="80.3" height="24.0" fill="rgb(140,140,140)"/><rect x="432.5" y="1419.9" width="20.3" height="24.0" fill="rgb(166,166,166)"/><rect x="452.4" y="1419.9" width="60.2" height="24.0" fill="rgb(140,140,140)"/><rect x="512.3" y="1419.9" width="40.2" height="24.0" fill="rgb(166,166,166)"/><rect x="552.3" y="1419.9" width="20.3" height="24.0" fill="rgb(191,191,191)"/><rect x="572.2" y="1419.9" width="40.2" height="24.0" fill="rgb(166,166,166)"/><rect x="612.2" y="1419.9" width="40.2" height="24.0" fill="rgb(140,140,140)"/><rect x="652.1" y="1419.9" width="140.2" height="24.0" fill="rgb(166,166,166)"/><rect x="352.5" y="1443.5" width="100.2" height="24.0" fill="rgb(115,115,115)"/><rect x="452.4" y="1443.5" width="60.2" height="24.0" fill="rgb(140,140,140)"/><rect x="512.3" y="1443.5" width="40.2" height="24.0" fill="rgb(191,191,191)"/><rect x="552.3" y="1443.5" width="60.2" height="24.0" fill="rgb(166,166,166)"/><rect x="612.2" y="1443.5" width="20.3" height="24.0" fill="rgb(140,140,140)"/><rect x="632.2" y="1443.5" width="40.2" height="24.0" fill="rgb(166,166,166)"/><rect x="672.1" y="1443.5" width="40.2" height="24.0" fill="rgb(140,140,140)"/><rect x="712.0" y="1443.5" width="80.3" height="24.0" fill="rgb(115,115,115)"/><rect x="352.5" y="1467.2" width="80.3" height="24.0" fill="rgb(89,89,89)"/><rect x="432.5" y="1467.2" width="20.3" height="24.0" fill="rgb(115,115,115)"/><rect x="452.4" y="1467.2" width="40.2" height="24.0" fill="rgb(140,140,140)"/><rect x="492.4" y="1467.2" width="20.3" height="24.0" fill="rgb(115,115,115)"/><rect x="512.3" y="1467.2" width="40.2" height="24.0" fill="rgb(166,166,166)"/><rect x="552.3" y="1467.2" width="20.3" height="24.0" fill="rgb(140,140,140)"/><rect x="572.2" y="1467.2" width="20.3" height="24.0" fill="rgb(115,115,115)"/><rect x="592.2" y="1467.2" width="40.2" height="24.0" fill="rgb(140,140,140)"/><rect x="632.2" y="1467.2" width="20.3" height="24.0" fill="rgb(191,191,191)"/><rect x="652.1" y="1467.2" width="20.3" height="24.0" fill="rgb(166,166,166)"/><rect x="672.1" y="1467.2" width="20.3" height="24.0" fill="rgb(115,115,115)"/><rect x="692.1" y="1467.2" width="100.2" height="24.0" fill="rgb(140,140,140)"/><rect x="352.5" y="1490.9" width="100.2" height="24.0" fill="rgb(140,140,140)"/><rect x="452.4" y="1490.9" width="20.3" height="24.0" fill="rgb(166,166,166)"/><rect x="472.4" y="1490.9" width="20.3" height="24.0" fill="rgb(140,140,140)"/><rect x="492.4" y="1490.9" width="20.3" height="24.0" fill="rgb(115,115,115)"/><rect x="512.3" y="1490.9" width="120.1" height="24.0" fill="rgb(140,140,140)"/><rect x="632.2" y="1490.9" width="40.2" height="24.0" fill="rgb(166,166,166)"/><rect x="672.1" y="1490.9" width="40.2" height="24.0" fill="rgb(115,115,115)"/><rect x="712.0" y="1490.9" width="80.3" height="24.0" fill="rgb(140,140,140)"/><rect x="352.5" y="1514.5" width="180.1" height="24.0" fill="rgb(191,191,191)"/><rect x="532.3" y="1514.5" width="20.3" height="24.0" fill="rgb(166,166,166)"/><rect x="552.3" y="1514.5" width="20.3" height="24.0" fill="rgb(191,191,191)"/><rect x="572.2" y="1514.5" width="40.2" height="24.0" fill="rgb(217,217,217)"/><rect x="612.2" y="1514.5" width="60.2" height="24.0" fill="rgb(166,166,166)"/><rect x="672.1" y="1514.5" width="20.3" height="24.0" fill="rgb(140,140,140)"/><rect x="692.1" y="1514.5" width="20.3" height="24.0" fill="rgb(166,166,166)"/><rect x="712.0" y="1514.5" width="80.3" height="24.0" fill="rgb(191,191,191)"/><rect x="352.5" y="1538.2" width="80.3" height="24.0" fill="rgb(191,191,191)"/><rect x="432.5" y="1538.2" width="20.3" height="24.0" fill="rgb(166,166,166)"/><rect x="452.4" y="1538.2" width="20.3" height="24.0" fill="rgb(191,191,191)"/><rect x="472.4" y="1538.2" width="20.3" height="24.0" fill="rgb(166,166,166)"/><rect x="492.4" y="1538.2" width="40.2" height="24.0" fill="rgb(217,217,217)"/><rect x="532.3" y="1538.2" width="20.3" height="24.0" fill="rgb(191,191,191)"/><rect x="552.3" y="1538.2" width="20.3" height="24.0" fill="rgb(166,166,166)"/><rect x="572.2" y="1538.2" width="20.3" height="24.0" fill="rgb(191,191,191)"/><rect x="592.2" y="1538.2" width="20.3" height="24.0" fill="rgb(217,217,217)"/><rect x="612.2" y="1538.2" width="60.2" height="24.0" fill="rgb(166,166,166)"/><rect x="672.1" y="1538.2" width="20.3" height="24.0" fill="rgb(191,191,191)"/><rect x="692.1" y="1538.2" width="100.2" height="24.0" fill="rgb(217,217,217)"/><rect x="352.5" y="1561.9" width="100.2" height="24.0" fill="rgb(191,191,191)"/><rect x="452.4" y="1561.9" width="20.3" height="24.0" fill="rgb(166,166,166)"/><rect x="472.4" y="1561.9" width="20.3" height="24.0" fill="rgb(140,140,140)"/><rect x="492.4" y="1561.9" width="40.2" height="24.0" fill="rgb(191,191,191)"/><rect x="532.3" y="1561.9" width="20.3" height="24.0" fill="rgb(166,166,166)"/><rect x="552.3" y="1561.9" width="40.2" height="24.0" fill="rgb(140,140,140)"/><rect x="592.2" y="1561.9" width="80.2" height="24.0" fill="rgb(115,115,115)"/><rect x="672.1" y="1561.9" width="20.3" height="24.0" fill="rgb(140,140,140)"/><rect x="692.1" y="1561.9" width="20.3" height="24.0" fill="rgb(115,115,115)"/><rect x="712.0" y="1561.9" width="80.3" height="24.0" fill="rgb(166,166,166)"/><rect x="352.5" y="1585.5" width="100.2" height="24.0" fill="rgb(140,140,140)"/><rect x="452.4" y="1585.5" width="60.2" height="24.0" fill="rgb(115,115,115)"/><rect x="512.3" y="1585.5" width="40.2" height="24.0" fill="rgb(140,140,140)"/><rect x="552.3" y="1585.5" width="40.2" height="24.0" fill="rgb(166,166,166)"/><rect x="592.2" y="1585.5" width="20.3" height="24.0" fill="rgb(140,140,140)"/><rect x="612.2" y="1585.5" width="40.2" height="24.0" fill="rgb(115,115,115)"/><rect x="652.1" y="1585.5" width="20.3" height="24.0" fill="rgb(89,89,89)"/><rect x="672.1" y="1585.5" width="40.2" height="24.0" fill="rgb(115,115,115)"/><rect x="712.0" y="1585.5" width="80.3" height="24.0" fill="rgb(140,140,140)"/><rect x="352.5" y="1609.2" width="80.3" height="24.0" fill="rgb(140,140,140)"/><rect x="432.5" y="1609.2" width="60.2" height="24.0" fill="rgb(115,115,115)"/><rect x="492.4" y="1609.2" width="20.3" height="24.0" fill="rgb(140,140,140)"/><rect x="512.3" y="1609.2" width="20.3" height="24.0" fill="rgb(166,166,166)"/><rect x="532.3" y="1609.2" width="60.2" height="24.0" fill="rgb(140,140,140)"/><rect x="592.2" y="1609.2" width="20.3" height="24.0" fill="rgb(115,115,115)"/><rect x="612.2" y="1609.2" width="20.3" height="24.0" fill="rgb(140,140,140)"/><rect x="632.2" y="1609.2" width="40.2" height="24.0" fill="rgb(166,166,166)"/><rect x="672.1" y="1609.2" width="20.3" height="24.0" fill="rgb(140,140,140)"/><rect x="692.1" y="1609.2" width="100.2" height="24.0" fill="rgb(166,166,166)"/><rect x="352.5" y="1632.9" width="100.2" height="24.0" fill="rgb(140,140,140)"/><rect x="452.4" y="1632.9" width="40.2" height="24.0" fill="rgb(115,115,115)"/><rect x="492.4" y="1632.9" width="20.3" height="24.0" fill="rgb(89,89,89)"/><rect x="512.3" y="1632.9" width="20.3" height="24.0" fill="rgb(140,140,140)"/><rect x="532.3" y="1632.9" width="100.1" height="24.0" fill="rgb(166,166,166)"/><rect x="632.2" y="1632.9" width="160.1" height="24.0" fill="rgb(140,140,140)"/><rect x="352.5" y="1656.5" width="80.3" height="84.0" fill="rgb(140,140,140)"/><rect x="432.5" y="1656.5" width="40.2" height="84.0" fill="rgb(166,166,166)"/><rect x="472.4" y="1656.5" width="20.3" height="84.0" fill="rgb(140,140,140)"/><rect x="492.4" y="1656.5" width="40.2" height="84.0" fill="rgb(89,89,89)"/><rect x="532.3" y="1656.5" width="20.3" height="84.0" fill="rgb(115,115,115)"/><rect x="552.3" y="1656.5" width="120.1" height="84.0" fill="rgb(140,140,140)"/><rect x="672.1" y="1656.5" width="40.2" height="84.0" fill="rgb(115,115,115)"/><rect x="712.0" y="1656.5" width="80.3" height="84.0" fill="rgb(140,140,140)"/>
</g>
<use href="#cst" x="412.5" y="1396.2"/>
</svg>
<rect x="655.2" y="1633.0" width="69.2" height="38.8" fill="#fff"/>
<text class="s" x="689.8" y="1661.4" text-anchor="middle">59%</text>
<rect x="413.4" y="1397.1" width="317.7" height="282.2" fill="none" stroke="#000" stroke-width="1.8"/>
<svg x="736.1" y="1396.2" width="319.5" height="284.0" viewBox="736.1 1396.2 319.5 284.0"><g filter="url(#q)">
<rect x="676.1" y="1336.2" width="439.5" height="404.0" fill="rgb(13,13,13)"/>
<rect x="676.1" y="1336.2" width="200.1" height="84.0" fill="rgb(64,64,64)"/><rect x="875.9" y="1336.2" width="40.2" height="84.0" fill="rgb(38,38,38)"/><rect x="915.8" y="1336.2" width="200.1" height="84.0" fill="rgb(64,64,64)"/><rect x="676.1" y="1419.9" width="80.3" height="24.0" fill="rgb(38,38,38)"/><rect x="756.1" y="1419.9" width="20.3" height="24.0" fill="rgb(64,64,64)"/><rect x="776.0" y="1419.9" width="100.1" height="24.0" fill="rgb(38,38,38)"/><rect x="875.9" y="1419.9" width="40.2" height="24.0" fill="rgb(13,13,13)"/><rect x="915.8" y="1419.9" width="200.1" height="24.0" fill="rgb(38,38,38)"/><rect x="676.1" y="1443.5" width="100.2" height="24.0" fill="rgb(38,38,38)"/><rect x="776.0" y="1443.5" width="220.0" height="24.0" fill="rgb(13,13,13)"/><rect x="995.7" y="1443.5" width="40.2" height="24.0" fill="rgb(38,38,38)"/><rect x="1035.6" y="1443.5" width="80.3" height="24.0" fill="rgb(13,13,13)"/><rect x="676.1" y="1467.2" width="180.1" height="24.0" fill="rgb(13,13,13)"/><rect x="855.9" y="1467.2" width="60.2" height="24.0" fill="rgb(38,38,38)"/><rect x="915.8" y="1467.2" width="200.1" height="24.0" fill="rgb(13,13,13)"/><rect x="676.1" y="1490.9" width="160.1" height="24.0" fill="rgb(13,13,13)"/><rect x="835.9" y="1490.9" width="40.2" height="24.0" fill="rgb(38,38,38)"/><rect x="875.9" y="1490.9" width="240.0" height="24.0" fill="rgb(13,13,13)"/><rect x="676.1" y="1514.5" width="439.8" height="24.0" fill="rgb(13,13,13)"/><rect x="676.1" y="1538.2" width="439.8" height="24.0" fill="rgb(13,13,13)"/><rect x="676.1" y="1561.9" width="140.2" height="24.0" fill="rgb(13,13,13)"/><rect x="816.0" y="1561.9" width="20.3" height="24.0" fill="rgb(38,38,38)"/><rect x="835.9" y="1561.9" width="280.0" height="24.0" fill="rgb(13,13,13)"/><rect x="676.1" y="1585.5" width="140.2" height="24.0" fill="rgb(13,13,13)"/><rect x="816.0" y="1585.5" width="20.3" height="24.0" fill="rgb(38,38,38)"/><rect x="835.9" y="1585.5" width="40.2" height="24.0" fill="rgb(13,13,13)"/><rect x="875.9" y="1585.5" width="40.2" height="24.0" fill="rgb(38,38,38)"/><rect x="915.8" y="1585.5" width="60.2" height="24.0" fill="rgb(13,13,13)"/><rect x="975.7" y="1585.5" width="20.3" height="24.0" fill="rgb(64,64,64)"/><rect x="995.7" y="1585.5" width="20.3" height="24.0" fill="rgb(38,38,38)"/><rect x="1015.7" y="1585.5" width="100.2" height="24.0" fill="rgb(13,13,13)"/><rect x="676.1" y="1609.2" width="140.2" height="24.0" fill="rgb(38,38,38)"/><rect x="816.0" y="1609.2" width="40.2" height="24.0" fill="rgb(13,13,13)"/><rect x="855.9" y="1609.2" width="80.2" height="24.0" fill="rgb(38,38,38)"/><rect x="935.8" y="1609.2" width="100.1" height="24.0" fill="rgb(64,64,64)"/><rect x="1035.6" y="1609.2" width="80.3" height="24.0" fill="rgb(38,38,38)"/><rect x="676.1" y="1632.9" width="100.2" height="24.0" fill="rgb(64,64,64)"/><rect x="776.0" y="1632.9" width="40.2" height="24.0" fill="rgb(38,38,38)"/><rect x="816.0" y="1632.9" width="20.3" height="24.0" fill="rgb(64,64,64)"/><rect x="835.9" y="1632.9" width="280.0" height="24.0" fill="rgb(38,38,38)"/><rect x="676.1" y="1656.5" width="120.2" height="84.0" fill="rgb(13,13,13)"/><rect x="796.0" y="1656.5" width="80.2" height="84.0" fill="rgb(38,38,38)"/><rect x="875.9" y="1656.5" width="20.3" height="84.0" fill="rgb(13,13,13)"/><rect x="895.9" y="1656.5" width="20.3" height="84.0" fill="rgb(38,38,38)"/><rect x="915.8" y="1656.5" width="60.2" height="84.0" fill="rgb(64,64,64)"/><rect x="975.7" y="1656.5" width="40.2" height="84.0" fill="rgb(89,89,89)"/><rect x="1015.7" y="1656.5" width="20.3" height="84.0" fill="rgb(64,64,64)"/><rect x="1035.6" y="1656.5" width="80.3" height="84.0" fill="rgb(38,38,38)"/>
</g>
<use href="#cst" x="736.1" y="1396.2"/>
</svg>
<rect x="992.1" y="1633.0" width="55.9" height="38.8" fill="#fff"/>
<text class="s" x="1020.1" y="1661.4" text-anchor="middle">7%</text>
<rect x="737.0" y="1397.1" width="317.7" height="282.2" fill="none" stroke="#000" stroke-width="1.8"/>
<svg x="88.7" y="1684.2" width="319.5" height="284.0" viewBox="88.7 1684.2 319.5 284.0"><g filter="url(#q)">
<rect x="28.7" y="1624.2" width="439.5" height="404.0" fill="rgb(13,13,13)"/>
<rect x="28.7" y="1624.2" width="439.8" height="84.0" fill="rgb(13,13,13)"/><rect x="28.7" y="1707.9" width="180.1" height="24.0" fill="rgb(13,13,13)"/><rect x="208.5" y="1707.9" width="40.2" height="24.0" fill="rgb(38,38,38)"/><rect x="248.4" y="1707.9" width="220.1" height="24.0" fill="rgb(13,13,13)"/><rect x="28.7" y="1731.5" width="80.3" height="24.0" fill="rgb(13,13,13)"/><rect x="108.7" y="1731.5" width="80.2" height="24.0" fill="rgb(38,38,38)"/><rect x="188.5" y="1731.5" width="20.3" height="24.0" fill="rgb(13,13,13)"/><rect x="208.5" y="1731.5" width="180.0" height="24.0" fill="rgb(38,38,38)"/><rect x="388.2" y="1731.5" width="80.3" height="24.0" fill="rgb(13,13,13)"/><rect x="28.7" y="1755.2" width="80.3" height="24.0" fill="rgb(64,64,64)"/><rect x="108.7" y="1755.2" width="40.2" height="24.0" fill="rgb(38,38,38)"/><rect x="148.6" y="1755.2" width="40.2" height="24.0" fill="rgb(64,64,64)"/><rect x="188.5" y="1755.2" width="120.1" height="24.0" fill="rgb(38,38,38)"/><rect x="308.4" y="1755.2" width="40.2" height="24.0" fill="rgb(13,13,13)"/><rect x="348.3" y="1755.2" width="20.3" height="24.0" fill="rgb(64,64,64)"/><rect x="368.3" y="1755.2" width="100.2" height="24.0" fill="rgb(38,38,38)"/><rect x="28.7" y="1778.9" width="100.2" height="24.0" fill="rgb(38,38,38)"/><rect x="128.6" y="1778.9" width="20.3" height="24.0" fill="rgb(64,64,64)"/><rect x="148.6" y="1778.9" width="80.2" height="24.0" fill="rgb(38,38,38)"/><rect x="228.5" y="1778.9" width="20.3" height="24.0" fill="rgb(64,64,64)"/><rect x="248.4" y="1778.9" width="20.3" height="24.0" fill="rgb(89,89,89)"/><rect x="268.4" y="1778.9" width="40.2" height="24.0" fill="rgb(64,64,64)"/><rect x="308.4" y="1778.9" width="60.2" height="24.0" fill="rgb(38,38,38)"/><rect x="368.3" y="1778.9" width="20.3" height="24.0" fill="rgb(64,64,64)"/><rect x="388.2" y="1778.9" width="80.3" height="24.0" fill="rgb(38,38,38)"/><rect x="28.7" y="1802.5" width="80.3" height="24.0" fill="rgb(13,13,13)"/><rect x="108.7" y="1802.5" width="40.2" height="24.0" fill="rgb(38,38,38)"/><rect x="148.6" y="1802.5" width="60.2" height="24.0" fill="rgb(13,13,13)"/><rect x="208.5" y="1802.5" width="20.3" height="24.0" fill="rgb(38,38,38)"/><rect x="228.5" y="1802.5" width="80.2" height="24.0" fill="rgb(13,13,13)"/><rect x="308.4" y="1802.5" width="160.1" height="24.0" fill="rgb(38,38,38)"/><rect x="28.7" y="1826.2" width="120.2" height="24.0" fill="rgb(13,13,13)"/><rect x="148.6" y="1826.2" width="20.3" height="24.0" fill="rgb(38,38,38)"/><rect x="168.6" y="1826.2" width="60.2" height="24.0" fill="rgb(13,13,13)"/><rect x="228.5" y="1826.2" width="20.3" height="24.0" fill="rgb(38,38,38)"/><rect x="248.4" y="1826.2" width="40.2" height="24.0" fill="rgb(13,13,13)"/><rect x="288.4" y="1826.2" width="60.2" height="24.0" fill="rgb(38,38,38)"/><rect x="348.3" y="1826.2" width="120.2" height="24.0" fill="rgb(13,13,13)"/><rect x="28.7" y="1849.9" width="100.2" height="24.0" fill="rgb(13,13,13)"/><rect x="128.6" y="1849.9" width="20.3" height="24.0" fill="rgb(38,38,38)"/><rect x="148.6" y="1849.9" width="20.3" height="24.0" fill="rgb(64,64,64)"/><rect x="168.6" y="1849.9" width="100.1" height="24.0" fill="rgb(38,38,38)"/><rect x="268.4" y="1849.9" width="20.3" height="24.0" fill="rgb(64,64,64)"/><rect x="288.4" y="1849.9" width="20.3" height="24.0" fill="rgb(38,38,38)"/><rect x="308.4" y="1849.9" width="40.2" height="24.0" fill="rgb(64,64,64)"/><rect x="348.3" y="1849.9" width="40.2" height="24.0" fill="rgb(38,38,38)"/><rect x="388.2" y="1849.9" width="80.3" height="24.0" fill="rgb(13,13,13)"/><rect x="28.7" y="1873.5" width="80.3" height="24.0" fill="rgb(38,38,38)"/><rect x="108.7" y="1873.5" width="40.2" height="24.0" fill="rgb(64,64,64)"/><rect x="148.6" y="1873.5" width="100.1" height="24.0" fill="rgb(38,38,38)"/><rect x="248.4" y="1873.5" width="20.3" height="24.0" fill="rgb(13,13,13)"/><rect x="268.4" y="1873.5" width="200.1" height="24.0" fill="rgb(38,38,38)"/><rect x="28.7" y="1897.2" width="160.1" height="24.0" fill="rgb(38,38,38)"/><rect x="188.5" y="1897.2" width="20.3" height="24.0" fill="rgb(13,13,13)"/><rect x="208.5" y="1897.2" width="20.3" height="24.0" fill="rgb(38,38,38)"/><rect x="228.5" y="1897.2" width="20.3" height="24.0" fill="rgb(13,13,13)"/><rect x="248.4" y="1897.2" width="60.2" height="24.0" fill="rgb(38,38,38)"/><rect x="308.4" y="1897.2" width="40.2" height="24.0" fill="rgb(13,13,13)"/><rect x="348.3" y="1897.2" width="20.3" height="24.0" fill="rgb(38,38,38)"/><rect x="368.3" y="1897.2" width="100.2" height="24.0" fill="rgb(13,13,13)"/><rect x="28.7" y="1920.9" width="439.8" height="24.0" fill="rgb(13,13,13)"/><rect x="28.7" y="1944.5" width="120.2" height="84.0" fill="rgb(38,38,38)"/><rect x="148.6" y="1944.5" width="20.3" height="84.0" fill="rgb(13,13,13)"/><rect x="168.6" y="1944.5" width="60.2" height="84.0" fill="rgb(38,38,38)"/><rect x="228.5" y="1944.5" width="240.0" height="84.0" fill="rgb(13,13,13)"/>
</g>
<use href="#cst" x="88.7" y="1684.2"/>
</svg>
<rect x="331.4" y="1921.0" width="69.2" height="38.8" fill="#fff"/>
<text class="s" x="366.0" y="1949.4" text-anchor="middle">11%</text>
<rect x="89.6" y="1685.1" width="317.7" height="282.2" fill="none" stroke="#000" stroke-width="1.8"/>
<svg x="412.5" y="1684.2" width="319.5" height="284.0" viewBox="412.5 1684.2 319.5 284.0"><g filter="url(#q)">
<rect x="352.5" y="1624.2" width="439.5" height="404.0" fill="rgb(13,13,13)"/>
<rect x="352.5" y="1624.2" width="140.2" height="84.0" fill="rgb(115,115,115)"/><rect x="492.4" y="1624.2" width="60.2" height="84.0" fill="rgb(140,140,140)"/><rect x="552.3" y="1624.2" width="20.3" height="84.0" fill="rgb(166,166,166)"/><rect x="572.2" y="1624.2" width="20.3" height="84.0" fill="rgb(191,191,191)"/><rect x="592.2" y="1624.2" width="20.3" height="84.0" fill="rgb(166,166,166)"/><rect x="612.2" y="1624.2" width="40.2" height="84.0" fill="rgb(140,140,140)"/><rect x="652.1" y="1624.2" width="20.3" height="84.0" fill="rgb(115,115,115)"/><rect x="672.1" y="1624.2" width="20.3" height="84.0" fill="rgb(140,140,140)"/><rect x="692.1" y="1624.2" width="100.2" height="84.0" fill="rgb(115,115,115)"/><rect x="352.5" y="1707.9" width="100.2" height="24.0" fill="rgb(115,115,115)"/><rect x="452.4" y="1707.9" width="60.2" height="24.0" fill="rgb(140,140,140)"/><rect x="512.3" y="1707.9" width="20.3" height="24.0" fill="rgb(166,166,166)"/><rect x="532.3" y="1707.9" width="20.3" height="24.0" fill="rgb(191,191,191)"/><rect x="552.3" y="1707.9" width="20.3" height="24.0" fill="rgb(217,217,217)"/><rect x="572.2" y="1707.9" width="20.3" height="24.0" fill="rgb(191,191,191)"/><rect x="592.2" y="1707.9" width="20.3" height="24.0" fill="rgb(140,140,140)"/><rect x="612.2" y="1707.9" width="40.2" height="24.0" fill="rgb(166,166,166)"/><rect x="652.1" y="1707.9" width="20.3" height="24.0" fill="rgb(140,140,140)"/><rect x="672.1" y="1707.9" width="120.2" height="24.0" fill="rgb(115,115,115)"/><rect x="352.5" y="1731.5" width="80.3" height="24.0" fill="rgb(115,115,115)"/><rect x="432.5" y="1731.5" width="20.3" height="24.0" fill="rgb(89,89,89)"/><rect x="452.4" y="1731.5" width="20.3" height="24.0" fill="rgb(166,166,166)"/><rect x="472.4" y="1731.5" width="20.3" height="24.0" fill="rgb(191,191,191)"/><rect x="492.4" y="1731.5" width="20.3" height="24.0" fill="rgb(115,115,115)"/><rect x="512.3" y="1731.5" width="20.3" height="24.0" fill="rgb(166,166,166)"/><rect x="532.3" y="1731.5" width="40.2" height="24.0" fill="rgb(217,217,217)"/><rect x="572.2" y="1731.5" width="20.3" height="24.0" fill="rgb(191,191,191)"/><rect x="592.2" y="1731.5" width="60.2" height="24.0" fill="rgb(217,217,217)"/><rect x="652.1" y="1731.5" width="20.3" height="24.0" fill="rgb(191,191,191)"/><rect x="672.1" y="1731.5" width="120.2" height="24.0" fill="rgb(140,140,140)"/><rect x="352.5" y="1755.2" width="80.3" height="24.0" fill="rgb(166,166,166)"/><rect x="432.5" y="1755.2" width="100.1" height="24.0" fill="rgb(191,191,191)"/><rect x="532.3" y="1755.2" width="20.3" height="24.0" fill="rgb(217,217,217)"/><rect x="552.3" y="1755.2" width="20.3" height="24.0" fill="rgb(140,140,140)"/><rect x="572.2" y="1755.2" width="20.3" height="24.0" fill="rgb(115,115,115)"/><rect x="592.2" y="1755.2" width="20.3" height="24.0" fill="rgb(140,140,140)"/><rect x="612.2" y="1755.2" width="20.3" height="24.0" fill="rgb(191,191,191)"/><rect x="632.2" y="1755.2" width="40.2" height="24.0" fill="rgb(217,217,217)"/><rect x="672.1" y="1755.2" width="40.2" height="24.0" fill="rgb(191,191,191)"/><rect x="712.0" y="1755.2" width="80.3" height="24.0" fill="rgb(166,166,166)"/><rect x="352.5" y="1778.9" width="80.3" height="24.0" fill="rgb(191,191,191)"/><rect x="432.5" y="1778.9" width="20.3" height="24.0" fill="rgb(217,217,217)"/><rect x="452.4" y="1778.9" width="40.2" height="24.0" fill="rgb(191,191,191)"/><rect x="492.4" y="1778.9" width="60.2" height="24.0" fill="rgb(166,166,166)"/><rect x="552.3" y="1778.9" width="20.3" height="24.0" fill="rgb(191,191,191)"/><rect x="572.2" y="1778.9" width="100.1" height="24.0" fill="rgb(217,217,217)"/><rect x="672.1" y="1778.9" width="120.2" height="24.0" fill="rgb(166,166,166)"/><rect x="352.5" y="1802.5" width="180.1" height="24.0" fill="rgb(217,217,217)"/><rect x="532.3" y="1802.5" width="20.3" height="24.0" fill="rgb(191,191,191)"/><rect x="552.3" y="1802.5" width="20.3" height="24.0" fill="rgb(217,217,217)"/><rect x="572.2" y="1802.5" width="20.3" height="24.0" fill="rgb(242,242,242)"/><rect x="592.2" y="1802.5" width="20.3" height="24.0" fill="rgb(217,217,217)"/><rect x="612.2" y="1802.5" width="20.3" height="24.0" fill="rgb(191,191,191)"/><rect x="632.2" y="1802.5" width="40.2" height="24.0" fill="rgb(217,217,217)"/><rect x="672.1" y="1802.5" width="120.2" height="24.0" fill="rgb(191,191,191)"/><rect x="352.5" y="1826.2" width="80.3" height="24.0" fill="rgb(242,242,242)"/><rect x="432.5" y="1826.2" width="20.3" height="24.0" fill="rgb(191,191,191)"/><rect x="452.4" y="1826.2" width="20.3" height="24.0" fill="rgb(217,217,217)"/><rect x="472.4" y="1826.2" width="20.3" height="24.0" fill="rgb(191,191,191)"/><rect x="492.4" y="1826.2" width="40.2" height="24.0" fill="rgb(242,242,242)"/><rect x="532.3" y="1826.2" width="80.2" height="24.0" fill="rgb(217,217,217)"/><rect x="612.2" y="1826.2" width="20.3" height="24.0" fill="rgb(191,191,191)"/><rect x="632.2" y="1826.2" width="60.2" height="24.0" fill="rgb(217,217,217)"/><rect x="692.1" y="1826.2" width="100.2" height="24.0" fill="rgb(242,242,242)"/><rect x="352.5" y="1849.9" width="100.2" height="24.0" fill="rgb(217,217,217)"/><rect x="452.4" y="1849.9" width="20.3" height="24.0" fill="rgb(166,166,166)"/><rect x="472.4" y="1849.9" width="20.3" height="24.0" fill="rgb(140,140,140)"/><rect x="492.4" y="1849.9" width="40.2" height="24.0" fill="rgb(217,217,217)"/><rect x="532.3" y="1849.9" width="20.3" height="24.0" fill="rgb(191,191,191)"/><rect x="552.3" y="1849.9" width="60.2" height="24.0" fill="rgb(166,166,166)"/><rect x="612.2" y="1849.9" width="20.3" height="24.0" fill="rgb(191,191,191)"/><rect x="632.2" y="1849.9" width="20.3" height="24.0" fill="rgb(217,217,217)"/><rect x="652.1" y="1849.9" width="40.2" height="24.0" fill="rgb(191,191,191)"/><rect x="692.1" y="1849.9" width="100.2" height="24.0" fill="rgb(217,217,217)"/><rect x="352.5" y="1873.5" width="100.2" height="24.0" fill="rgb(191,191,191)"/><rect x="452.4" y="1873.5" width="20.3" height="24.0" fill="rgb(166,166,166)"/><rect x="472.4" y="1873.5" width="40.2" height="24.0" fill="rgb(140,140,140)"/><rect x="512.3" y="1873.5" width="60.2" height="24.0" fill="rgb(191,191,191)"/><rect x="572.2" y="1873.5" width="20.3" height="24.0" fill="rgb(166,166,166)"/><rect x="592.2" y="1873.5" width="40.2" height="24.0" fill="rgb(217,217,217)"/><rect x="632.2" y="1873.5" width="20.3" height="24.0" fill="rgb(191,191,191)"/><rect x="652.1" y="1873.5" width="20.3" height="24.0" fill="rgb(115,115,115)"/><rect x="672.1" y="1873.5" width="40.2" height="24.0" fill="rgb(191,191,191)"/><rect x="712.0" y="1873.5" width="80.3" height="24.0" fill="rgb(166,166,166)"/><rect x="352.5" y="1897.2" width="80.3" height="24.0" fill="rgb(140,140,140)"/><rect x="432.5" y="1897.2" width="80.2" height="24.0" fill="rgb(166,166,166)"/><rect x="512.3" y="1897.2" width="20.3" height="24.0" fill="rgb(191,191,191)"/><rect x="532.3" y="1897.2" width="60.2" height="24.0" fill="rgb(166,166,166)"/><rect x="592.2" y="1897.2" width="20.3" height="24.0" fill="rgb(140,140,140)"/><rect x="612.2" y="1897.2" width="60.2" height="24.0" fill="rgb(166,166,166)"/><rect x="672.1" y="1897.2" width="20.3" height="24.0" fill="rgb(191,191,191)"/><rect x="692.1" y="1897.2" width="20.3" height="24.0" fill="rgb(166,166,166)"/><rect x="712.0" y="1897.2" width="80.3" height="24.0" fill="rgb(140,140,140)"/><rect x="352.5" y="1920.9" width="100.2" height="24.0" fill="rgb(115,115,115)"/><rect x="452.4" y="1920.9" width="40.2" height="24.0" fill="rgb(140,140,140)"/><rect x="492.4" y="1920.9" width="40.2" height="24.0" fill="rgb(115,115,115)"/><rect x="532.3" y="1920.9" width="160.1" height="24.0" fill="rgb(140,140,140)"/><rect x="692.1" y="1920.9" width="100.2" height="24.0" fill="rgb(166,166,166)"/><rect x="352.5" y="1944.5" width="80.3" height="84.0" fill="rgb(191,191,191)"/><rect x="432.5" y="1944.5" width="40.2" height="84.0" fill="rgb(217,217,217)"/><rect x="472.4" y="1944.5" width="20.3" height="84.0" fill="rgb(140,140,140)"/><rect x="492.4" y="1944.5" width="20.3" height="84.0" fill="rgb(89,89,89)"/><rect x="512.3" y="1944.5" width="20.3" height="84.0" fill="rgb(115,115,115)"/><rect x="532.3" y="1944.5" width="20.3" height="84.0" fill="rgb(166,166,166)"/><rect x="552.3" y="1944.5" width="20.3" height="84.0" fill="rgb(191,191,191)"/><rect x="572.2" y="1944.5" width="20.3" height="84.0" fill="rgb(166,166,166)"/><rect x="592.2" y="1944.5" width="80.2" height="84.0" fill="rgb(140,140,140)"/><rect x="672.1" y="1944.5" width="40.2" height="84.0" fill="rgb(115,115,115)"/><rect x="712.0" y="1944.5" width="80.3" height="84.0" fill="rgb(140,140,140)"/>
</g>
<use href="#cst" x="412.5" y="1684.2"/>
</svg>
<rect x="655.2" y="1921.0" width="69.2" height="38.8" fill="#fff"/>
<text class="s" x="689.8" y="1949.4" text-anchor="middle">70%</text>
<rect x="413.4" y="1685.1" width="317.7" height="282.2" fill="none" stroke="#000" stroke-width="1.8"/>
<svg x="736.1" y="1684.2" width="319.5" height="284.0" viewBox="736.1 1684.2 319.5 284.0"><g filter="url(#q)">
<rect x="676.1" y="1624.2" width="439.5" height="404.0" fill="rgb(13,13,13)"/>
<rect x="676.1" y="1624.2" width="120.2" height="84.0" fill="rgb(140,140,140)"/><rect x="796.0" y="1624.2" width="80.2" height="84.0" fill="rgb(115,115,115)"/><rect x="875.9" y="1624.2" width="20.3" height="84.0" fill="rgb(89,89,89)"/><rect x="895.9" y="1624.2" width="20.3" height="84.0" fill="rgb(64,64,64)"/><rect x="915.8" y="1624.2" width="40.2" height="84.0" fill="rgb(89,89,89)"/><rect x="955.8" y="1624.2" width="40.2" height="84.0" fill="rgb(115,115,115)"/><rect x="995.7" y="1624.2" width="20.3" height="84.0" fill="rgb(140,140,140)"/><rect x="1015.7" y="1624.2" width="20.3" height="84.0" fill="rgb(115,115,115)"/><rect x="1035.6" y="1624.2" width="80.3" height="84.0" fill="rgb(140,140,140)"/><rect x="676.1" y="1707.9" width="80.3" height="24.0" fill="rgb(140,140,140)"/><rect x="756.1" y="1707.9" width="80.2" height="24.0" fill="rgb(115,115,115)"/><rect x="835.9" y="1707.9" width="20.3" height="24.0" fill="rgb(89,89,89)"/><rect x="855.9" y="1707.9" width="20.3" height="24.0" fill="rgb(64,64,64)"/><rect x="875.9" y="1707.9" width="40.2" height="24.0" fill="rgb(38,38,38)"/><rect x="915.8" y="1707.9" width="40.2" height="24.0" fill="rgb(89,89,89)"/><rect x="955.8" y="1707.9" width="160.1" height="24.0" fill="rgb(115,115,115)"/><rect x="676.1" y="1731.5" width="80.3" height="24.0" fill="rgb(140,140,140)"/><rect x="756.1" y="1731.5" width="20.3" height="24.0" fill="rgb(115,115,115)"/><rect x="776.0" y="1731.5" width="20.3" height="24.0" fill="rgb(64,64,64)"/><rect x="796.0" y="1731.5" width="20.3" height="24.0" fill="rgb(38,38,38)"/><rect x="816.0" y="1731.5" width="20.3" height="24.0" fill="rgb(89,89,89)"/><rect x="835.9" y="1731.5" width="20.3" height="24.0" fill="rgb(64,64,64)"/><rect x="855.9" y="1731.5" width="40.2" height="24.0" fill="rgb(38,38,38)"/><rect x="895.9" y="1731.5" width="20.3" height="24.0" fill="rgb(64,64,64)"/><rect x="915.8" y="1731.5" width="40.2" height="24.0" fill="rgb(38,38,38)"/><rect x="955.8" y="1731.5" width="20.3" height="24.0" fill="rgb(13,13,13)"/><rect x="975.7" y="1731.5" width="20.3" height="24.0" fill="rgb(38,38,38)"/><rect x="995.7" y="1731.5" width="20.3" height="24.0" fill="rgb(64,64,64)"/><rect x="1015.7" y="1731.5" width="20.3" height="24.0" fill="rgb(89,89,89)"/><rect x="1035.6" y="1731.5" width="80.3" height="24.0" fill="rgb(115,115,115)"/><rect x="676.1" y="1755.2" width="80.3" height="24.0" fill="rgb(38,38,38)"/><rect x="756.1" y="1755.2" width="80.2" height="24.0" fill="rgb(13,13,13)"/><rect x="835.9" y="1755.2" width="20.3" height="24.0" fill="rgb(38,38,38)"/><rect x="855.9" y="1755.2" width="20.3" height="24.0" fill="rgb(64,64,64)"/><rect x="875.9" y="1755.2" width="20.3" height="24.0" fill="rgb(89,89,89)"/><rect x="895.9" y="1755.2" width="20.3" height="24.0" fill="rgb(115,115,115)"/><rect x="915.8" y="1755.2" width="20.3" height="24.0" fill="rgb(89,89,89)"/><rect x="935.8" y="1755.2" width="40.2" height="24.0" fill="rgb(13,13,13)"/><rect x="975.7" y="1755.2" width="20.3" height="24.0" fill="rgb(38,38,38)"/><rect x="995.7" y="1755.2" width="20.3" height="24.0" fill="rgb(64,64,64)"/><rect x="1015.7" y="1755.2" width="100.2" height="24.0" fill="rgb(38,38,38)"/><rect x="676.1" y="1778.9" width="120.2" height="24.0" fill="rgb(13,13,13)"/><rect x="796.0" y="1778.9" width="20.3" height="24.0" fill="rgb(38,38,38)"/><rect x="816.0" y="1778.9" width="40.2" height="24.0" fill="rgb(64,64,64)"/><rect x="855.9" y="1778.9" width="20.3" height="24.0" fill="rgb(89,89,89)"/><rect x="875.9" y="1778.9" width="20.3" height="24.0" fill="rgb(38,38,38)"/><rect x="895.9" y="1778.9" width="80.2" height="24.0" fill="rgb(13,13,13)"/><rect x="975.7" y="1778.9" width="40.2" height="24.0" fill="rgb(38,38,38)"/><rect x="1015.7" y="1778.9" width="20.3" height="24.0" fill="rgb(64,64,64)"/><rect x="1035.6" y="1778.9" width="80.3" height="24.0" fill="rgb(38,38,38)"/><rect x="676.1" y="1802.5" width="80.3" height="24.0" fill="rgb(13,13,13)"/><rect x="756.1" y="1802.5" width="100.1" height="24.0" fill="rgb(38,38,38)"/><rect x="855.9" y="1802.5" width="40.2" height="24.0" fill="rgb(13,13,13)"/><rect x="895.9" y="1802.5" width="40.2" height="24.0" fill="rgb(38,38,38)"/><rect x="935.8" y="1802.5" width="20.3" height="24.0" fill="rgb(64,64,64)"/><rect x="955.8" y="1802.5" width="40.2" height="24.0" fill="rgb(13,13,13)"/><rect x="995.7" y="1802.5" width="20.3" height="24.0" fill="rgb(38,38,38)"/><rect x="1015.7" y="1802.5" width="20.3" height="24.0" fill="rgb(64,64,64)"/><rect x="1035.6" y="1802.5" width="80.3" height="24.0" fill="rgb(38,38,38)"/><rect x="676.1" y="1826.2" width="100.2" height="24.0" fill="rgb(38,38,38)"/><rect x="776.0" y="1826.2" width="20.3" height="24.0" fill="rgb(13,13,13)"/><rect x="796.0" y="1826.2" width="20.3" height="24.0" fill="rgb(38,38,38)"/><rect x="816.0" y="1826.2" width="299.9" height="24.0" fill="rgb(13,13,13)"/><rect x="676.1" y="1849.9" width="100.2" height="24.0" fill="rgb(13,13,13)"/><rect x="776.0" y="1849.9" width="20.3" height="24.0" fill="rgb(64,64,64)"/><rect x="796.0" y="1849.9" width="20.3" height="24.0" fill="rgb(89,89,89)"/><rect x="816.0" y="1849.9" width="20.3" height="24.0" fill="rgb(38,38,38)"/><rect x="835.9" y="1849.9" width="20.3" height="24.0" fill="rgb(13,13,13)"/><rect x="855.9" y="1849.9" width="20.3" height="24.0" fill="rgb(38,38,38)"/><rect x="875.9" y="1849.9" width="20.3" height="24.0" fill="rgb(64,64,64)"/><rect x="895.9" y="1849.9" width="20.3" height="24.0" fill="rgb(38,38,38)"/><rect x="915.8" y="1849.9" width="60.2" height="24.0" fill="rgb(13,13,13)"/><rect x="975.7" y="1849.9" width="20.3" height="24.0" fill="rgb(38,38,38)"/><rect x="995.7" y="1849.9" width="120.2" height="24.0" fill="rgb(13,13,13)"/><rect x="676.1" y="1873.5" width="80.3" height="24.0" fill="rgb(38,38,38)"/><rect x="756.1" y="1873.5" width="20.3" height="24.0" fill="rgb(13,13,13)"/><rect x="776.0" y="1873.5" width="20.3" height="24.0" fill="rgb(38,38,38)"/><rect x="796.0" y="1873.5" width="20.3" height="24.0" fill="rgb(89,89,89)"/><rect x="816.0" y="1873.5" width="20.3" height="24.0" fill="rgb(115,115,115)"/><rect x="835.9" y="1873.5" width="20.3" height="24.0" fill="rgb(13,13,13)"/><rect x="855.9" y="1873.5" width="40.2" height="24.0" fill="rgb(64,64,64)"/><rect x="895.9" y="1873.5" width="20.3" height="24.0" fill="rgb(89,89,89)"/><rect x="915.8" y="1873.5" width="40.2" height="24.0" fill="rgb(13,13,13)"/><rect x="955.8" y="1873.5" width="20.3" height="24.0" fill="rgb(64,64,64)"/><rect x="975.7" y="1873.5" width="20.3" height="24.0" fill="rgb(115,115,115)"/><rect x="995.7" y="1873.5" width="20.3" height="24.0" fill="rgb(64,64,64)"/><rect x="1015.7" y="1873.5" width="20.3" height="24.0" fill="rgb(38,38,38)"/><rect x="1035.6" y="1873.5" width="80.3" height="24.0" fill="rgb(13,13,13)"/><rect x="676.1" y="1897.2" width="120.2" height="24.0" fill="rgb(89,89,89)"/><rect x="796.0" y="1897.2" width="60.2" height="24.0" fill="rgb(38,38,38)"/><rect x="855.9" y="1897.2" width="20.3" height="24.0" fill="rgb(64,64,64)"/><rect x="875.9" y="1897.2" width="100.1" height="24.0" fill="rgb(89,89,89)"/><rect x="975.7" y="1897.2" width="60.2" height="24.0" fill="rgb(115,115,115)"/><rect x="1035.6" y="1897.2" width="80.3" height="24.0" fill="rgb(89,89,89)"/><rect x="676.1" y="1920.9" width="80.3" height="24.0" fill="rgb(140,140,140)"/><rect x="756.1" y="1920.9" width="60.2" height="24.0" fill="rgb(115,115,115)"/><rect x="816.0" y="1920.9" width="40.2" height="24.0" fill="rgb(140,140,140)"/><rect x="855.9" y="1920.9" width="40.2" height="24.0" fill="rgb(115,115,115)"/><rect x="895.9" y="1920.9" width="40.2" height="24.0" fill="rgb(89,89,89)"/><rect x="935.8" y="1920.9" width="20.3" height="24.0" fill="rgb(115,115,115)"/><rect x="955.8" y="1920.9" width="160.1" height="24.0" fill="rgb(89,89,89)"/><rect x="676.1" y="1944.5" width="80.3" height="84.0" fill="rgb(38,38,38)"/><rect x="756.1" y="1944.5" width="20.3" height="84.0" fill="rgb(13,13,13)"/><rect x="776.0" y="1944.5" width="20.3" height="84.0" fill="rgb(38,38,38)"/><rect x="796.0" y="1944.5" width="20.3" height="84.0" fill="rgb(89,89,89)"/><rect x="816.0" y="1944.5" width="20.3" height="84.0" fill="rgb(115,115,115)"/><rect x="835.9" y="1944.5" width="20.3" height="84.0" fill="rgb(89,89,89)"/><rect x="855.9" y="1944.5" width="40.2" height="84.0" fill="rgb(64,64,64)"/><rect x="895.9" y="1944.5" width="20.3" height="84.0" fill="rgb(89,89,89)"/><rect x="915.8" y="1944.5" width="20.3" height="84.0" fill="rgb(115,115,115)"/><rect x="935.8" y="1944.5" width="20.3" height="84.0" fill="rgb(140,140,140)"/><rect x="955.8" y="1944.5" width="20.3" height="84.0" fill="rgb(115,115,115)"/><rect x="975.7" y="1944.5" width="140.2" height="84.0" fill="rgb(89,89,89)"/>
</g>
<use href="#cst" x="736.1" y="1684.2"/>
</svg>
<rect x="978.8" y="1921.0" width="69.2" height="38.8" fill="#fff"/>
<text class="s" x="1013.4" y="1949.4" text-anchor="middle">19%</text>
<rect x="737.0" y="1685.1" width="317.7" height="282.2" fill="none" stroke="#000" stroke-width="1.8"/>
<text class="t" x="1236.3" y="1092.2" text-anchor="middle">Internal variability</text>
<text class="t" x="1559.8" y="1092.2" text-anchor="middle">Model uncertainty</text>
<text class="t" x="1883.0" y="1092.2" text-anchor="middle">Scenario uncertainty</text>
<svg x="1083.3" y="1107.6" width="319.5" height="284.0" viewBox="1083.3 1107.6 319.5 284.0"><g filter="url(#q)">
<rect x="1023.3" y="1047.6" width="439.5" height="404.0" fill="rgb(13,13,13)"/>
<rect x="1023.3" y="1047.6" width="160.1" height="84.0" fill="rgb(166,166,166)"/><rect x="1183.1" y="1047.6" width="20.3" height="84.0" fill="rgb(191,191,191)"/><rect x="1203.1" y="1047.6" width="40.2" height="84.0" fill="rgb(166,166,166)"/><rect x="1243.0" y="1047.6" width="80.2" height="84.0" fill="rgb(115,115,115)"/><rect x="1322.9" y="1047.6" width="140.2" height="84.0" fill="rgb(140,140,140)"/><rect x="1023.3" y="1131.3" width="160.1" height="24.0" fill="rgb(191,191,191)"/><rect x="1183.1" y="1131.3" width="20.3" height="24.0" fill="rgb(166,166,166)"/><rect x="1203.1" y="1131.3" width="260.0" height="24.0" fill="rgb(191,191,191)"/><rect x="1023.3" y="1154.9" width="160.1" height="24.0" fill="rgb(217,217,217)"/><rect x="1183.1" y="1154.9" width="40.2" height="24.0" fill="rgb(191,191,191)"/><rect x="1223.1" y="1154.9" width="60.2" height="24.0" fill="rgb(217,217,217)"/><rect x="1283.0" y="1154.9" width="20.3" height="24.0" fill="rgb(191,191,191)"/><rect x="1303.0" y="1154.9" width="20.3" height="24.0" fill="rgb(166,166,166)"/><rect x="1322.9" y="1154.9" width="20.3" height="24.0" fill="rgb(191,191,191)"/><rect x="1342.9" y="1154.9" width="120.2" height="24.0" fill="rgb(217,217,217)"/><rect x="1023.3" y="1178.6" width="80.3" height="24.0" fill="rgb(217,217,217)"/><rect x="1103.3" y="1178.6" width="20.3" height="24.0" fill="rgb(242,242,242)"/><rect x="1123.2" y="1178.6" width="180.0" height="24.0" fill="rgb(217,217,217)"/><rect x="1303.0" y="1178.6" width="20.3" height="24.0" fill="rgb(166,166,166)"/><rect x="1322.9" y="1178.6" width="20.3" height="24.0" fill="rgb(191,191,191)"/><rect x="1342.9" y="1178.6" width="120.2" height="24.0" fill="rgb(217,217,217)"/><rect x="1023.3" y="1202.3" width="80.3" height="24.0" fill="rgb(217,217,217)"/><rect x="1103.3" y="1202.3" width="20.3" height="24.0" fill="rgb(242,242,242)"/><rect x="1123.2" y="1202.3" width="100.1" height="24.0" fill="rgb(217,217,217)"/><rect x="1223.1" y="1202.3" width="20.3" height="24.0" fill="rgb(191,191,191)"/><rect x="1243.0" y="1202.3" width="20.3" height="24.0" fill="rgb(166,166,166)"/><rect x="1263.0" y="1202.3" width="20.3" height="24.0" fill="rgb(191,191,191)"/><rect x="1283.0" y="1202.3" width="20.3" height="24.0" fill="rgb(217,217,217)"/><rect x="1303.0" y="1202.3" width="20.3" height="24.0" fill="rgb(191,191,191)"/><rect x="1322.9" y="1202.3" width="20.3" height="24.0" fill="rgb(217,217,217)"/><rect x="1342.9" y="1202.3" width="40.2" height="24.0" fill="rgb(242,242,242)"/><rect x="1382.8" y="1202.3" width="80.3" height="24.0" fill="rgb(217,217,217)"/><rect x="1023.3" y="1225.9" width="100.2" height="24.0" fill="rgb(217,217,217)"/><rect x="1123.2" y="1225.9" width="20.3" height="24.0" fill="rgb(166,166,166)"/><rect x="1143.2" y="1225.9" width="60.2" height="24.0" fill="rgb(191,191,191)"/><rect x="1203.1" y="1225.9" width="20.3" height="24.0" fill="rgb(217,217,217)"/><rect x="1223.1" y="1225.9" width="20.3" height="24.0" fill="rgb(166,166,166)"/><rect x="1243.0" y="1225.9" width="20.3" height="24.0" fill="rgb(115,115,115)"/><rect x="1263.0" y="1225.9" width="20.3" height="24.0" fill="rgb(166,166,166)"/><rect x="1283.0" y="1225.9" width="20.3" height="24.0" fill="rgb(217,217,217)"/><rect x="1303.0" y="1225.9" width="20.3" height="24.0" fill="rgb(191,191,191)"/><rect x="1322.9" y="1225.9" width="20.3" height="24.0" fill="rgb(217,217,217)"/><rect x="1342.9" y="1225.9" width="40.2" height="24.0" fill="rgb(242,242,242)"/><rect x="1382.8" y="1225.9" width="80.3" height="24.0" fill="rgb(217,217,217)"/><rect x="1023.3" y="1249.6" width="100.2" height="24.0" fill="rgb(217,217,217)"/><rect x="1123.2" y="1249.6" width="100.1" height="24.0" fill="rgb(191,191,191)"/><rect x="1223.1" y="1249.6" width="20.3" height="24.0" fill="rgb(217,217,217)"/><rect x="1243.0" y="1249.6" width="40.2" height="24.0" fill="rgb(191,191,191)"/><rect x="1283.0" y="1249.6" width="60.2" height="24.0" fill="rgb(217,217,217)"/><rect x="1342.9" y="1249.6" width="20.3" height="24.0" fill="rgb(242,242,242)"/><rect x="1362.9" y="1249.6" width="100.2" height="24.0" fill="rgb(217,217,217)"/><rect x="1023.3" y="1273.3" width="80.3" height="24.0" fill="rgb(217,217,217)"/><rect x="1103.3" y="1273.3" width="40.2" height="24.0" fill="rgb(191,191,191)"/><rect x="1143.2" y="1273.3" width="40.2" height="24.0" fill="rgb(217,217,217)"/><rect x="1183.1" y="1273.3" width="20.3" height="24.0" fill="rgb(191,191,191)"/><rect x="1203.1" y="1273.3" width="80.2" height="24.0" fill="rgb(217,217,217)"/><rect x="1283.0" y="1273.3" width="80.2" height="24.0" fill="rgb(242,242,242)"/><rect x="1362.9" y="1273.3" width="20.3" height="24.0" fill="rgb(217,217,217)"/><rect x="1382.8" y="1273.3" width="80.3" height="24.0" fill="rgb(242,242,242)"/><rect x="1023.3" y="1296.9" width="100.2" height="24.0" fill="rgb(217,217,217)"/><rect x="1123.2" y="1296.9" width="20.3" height="24.0" fill="rgb(242,242,242)"/><rect x="1143.2" y="1296.9" width="60.2" height="24.0" fill="rgb(217,217,217)"/><rect x="1203.1" y="1296.9" width="20.3" height="24.0" fill="rgb(242,242,242)"/><rect x="1223.1" y="1296.9" width="20.3" height="24.0" fill="rgb(217,217,217)"/><rect x="1243.0" y="1296.9" width="20.3" height="24.0" fill="rgb(242,242,242)"/><rect x="1263.0" y="1296.9" width="20.3" height="24.0" fill="rgb(217,217,217)"/><rect x="1283.0" y="1296.9" width="80.2" height="24.0" fill="rgb(242,242,242)"/><rect x="1362.9" y="1296.9" width="20.3" height="24.0" fill="rgb(217,217,217)"/><rect x="1382.8" y="1296.9" width="80.3" height="24.0" fill="rgb(242,242,242)"/><rect x="1023.3" y="1320.6" width="280.0" height="24.0" fill="rgb(217,217,217)"/><rect x="1303.0" y="1320.6" width="40.2" height="24.0" fill="rgb(191,191,191)"/><rect x="1342.9" y="1320.6" width="120.2" height="24.0" fill="rgb(217,217,217)"/><rect x="1023.3" y="1344.3" width="80.3" height="24.0" fill="rgb(217,217,217)"/><rect x="1103.3" y="1344.3" width="20.3" height="24.0" fill="rgb(191,191,191)"/><rect x="1123.2" y="1344.3" width="60.2" height="24.0" fill="rgb(217,217,217)"/><rect x="1183.1" y="1344.3" width="20.3" height="24.0" fill="rgb(242,242,242)"/><rect x="1203.1" y="1344.3" width="40.2" height="24.0" fill="rgb(191,191,191)"/><rect x="1243.0" y="1344.3" width="40.2" height="24.0" fill="rgb(166,166,166)"/><rect x="1283.0" y="1344.3" width="40.2" height="24.0" fill="rgb(217,217,217)"/><rect x="1322.9" y="1344.3" width="140.2" height="24.0" fill="rgb(191,191,191)"/><rect x="1023.3" y="1367.9" width="80.3" height="84.0" fill="rgb(217,217,217)"/><rect x="1103.3" y="1367.9" width="20.3" height="84.0" fill="rgb(242,242,242)"/><rect x="1123.2" y="1367.9" width="100.1" height="84.0" fill="rgb(217,217,217)"/><rect x="1223.1" y="1367.9" width="60.2" height="84.0" fill="rgb(191,191,191)"/><rect x="1283.0" y="1367.9" width="180.1" height="84.0" fill="rgb(217,217,217)"/>
</g>
<use href="#cst" x="1083.3" y="1107.6"/>
</svg>
<rect x="1326.0" y="1344.4" width="69.2" height="38.8" fill="#fff"/>
<text class="s" x="1360.6" y="1372.8" text-anchor="middle">83%</text>
<rect x="1084.2" y="1108.5" width="317.7" height="282.2" fill="none" stroke="#000" stroke-width="1.8"/>
<svg x="1406.7" y="1107.6" width="319.5" height="284.0" viewBox="1406.7 1107.6 319.5 284.0"><g filter="url(#q)">
<rect x="1346.7" y="1047.6" width="439.5" height="404.0" fill="rgb(13,13,13)"/>
<rect x="1346.7" y="1047.6" width="160.1" height="84.0" fill="rgb(89,89,89)"/><rect x="1506.5" y="1047.6" width="20.3" height="84.0" fill="rgb(64,64,64)"/><rect x="1526.5" y="1047.6" width="40.2" height="84.0" fill="rgb(89,89,89)"/><rect x="1566.5" y="1047.6" width="80.2" height="84.0" fill="rgb(140,140,140)"/><rect x="1646.3" y="1047.6" width="140.2" height="84.0" fill="rgb(115,115,115)"/><rect x="1346.7" y="1131.3" width="160.1" height="24.0" fill="rgb(64,64,64)"/><rect x="1506.5" y="1131.3" width="20.3" height="24.0" fill="rgb(89,89,89)"/><rect x="1526.5" y="1131.3" width="260.0" height="24.0" fill="rgb(64,64,64)"/><rect x="1346.7" y="1154.9" width="160.1" height="24.0" fill="rgb(38,38,38)"/><rect x="1506.5" y="1154.9" width="40.2" height="24.0" fill="rgb(64,64,64)"/><rect x="1546.5" y="1154.9" width="60.2" height="24.0" fill="rgb(38,38,38)"/><rect x="1606.4" y="1154.9" width="20.3" height="24.0" fill="rgb(64,64,64)"/><rect x="1626.4" y="1154.9" width="20.3" height="24.0" fill="rgb(89,89,89)"/><rect x="1646.3" y="1154.9" width="20.3" height="24.0" fill="rgb(64,64,64)"/><rect x="1666.3" y="1154.9" width="120.2" height="24.0" fill="rgb(38,38,38)"/><rect x="1346.7" y="1178.6" width="80.3" height="24.0" fill="rgb(38,38,38)"/><rect x="1426.7" y="1178.6" width="20.3" height="24.0" fill="rgb(13,13,13)"/><rect x="1446.6" y="1178.6" width="180.0" height="24.0" fill="rgb(38,38,38)"/><rect x="1626.4" y="1178.6" width="20.3" height="24.0" fill="rgb(89,89,89)"/><rect x="1646.3" y="1178.6" width="20.3" height="24.0" fill="rgb(64,64,64)"/><rect x="1666.3" y="1178.6" width="120.2" height="24.0" fill="rgb(38,38,38)"/><rect x="1346.7" y="1202.3" width="80.3" height="24.0" fill="rgb(38,38,38)"/><rect x="1426.7" y="1202.3" width="20.3" height="24.0" fill="rgb(13,13,13)"/><rect x="1446.6" y="1202.3" width="100.1" height="24.0" fill="rgb(38,38,38)"/><rect x="1546.5" y="1202.3" width="20.3" height="24.0" fill="rgb(64,64,64)"/><rect x="1566.5" y="1202.3" width="20.3" height="24.0" fill="rgb(89,89,89)"/><rect x="1586.4" y="1202.3" width="20.3" height="24.0" fill="rgb(64,64,64)"/><rect x="1606.4" y="1202.3" width="20.3" height="24.0" fill="rgb(38,38,38)"/><rect x="1626.4" y="1202.3" width="20.3" height="24.0" fill="rgb(64,64,64)"/><rect x="1646.3" y="1202.3" width="20.3" height="24.0" fill="rgb(38,38,38)"/><rect x="1666.3" y="1202.3" width="40.2" height="24.0" fill="rgb(13,13,13)"/><rect x="1706.2" y="1202.3" width="80.3" height="24.0" fill="rgb(38,38,38)"/><rect x="1346.7" y="1225.9" width="100.2" height="24.0" fill="rgb(38,38,38)"/><rect x="1446.6" y="1225.9" width="20.3" height="24.0" fill="rgb(89,89,89)"/><rect x="1466.6" y="1225.9" width="60.2" height="24.0" fill="rgb(64,64,64)"/><rect x="1526.5" y="1225.9" width="20.3" height="24.0" fill="rgb(38,38,38)"/><rect x="1546.5" y="1225.9" width="20.3" height="24.0" fill="rgb(89,89,89)"/><rect x="1566.5" y="1225.9" width="20.3" height="24.0" fill="rgb(140,140,140)"/><rect x="1586.4" y="1225.9" width="20.3" height="24.0" fill="rgb(89,89,89)"/><rect x="1606.4" y="1225.9" width="20.3" height="24.0" fill="rgb(38,38,38)"/><rect x="1626.4" y="1225.9" width="20.3" height="24.0" fill="rgb(64,64,64)"/><rect x="1646.3" y="1225.9" width="20.3" height="24.0" fill="rgb(38,38,38)"/><rect x="1666.3" y="1225.9" width="40.2" height="24.0" fill="rgb(13,13,13)"/><rect x="1706.2" y="1225.9" width="80.3" height="24.0" fill="rgb(38,38,38)"/><rect x="1346.7" y="1249.6" width="100.2" height="24.0" fill="rgb(38,38,38)"/><rect x="1446.6" y="1249.6" width="100.1" height="24.0" fill="rgb(64,64,64)"/><rect x="1546.5" y="1249.6" width="20.3" height="24.0" fill="rgb(38,38,38)"/><rect x="1566.5" y="1249.6" width="40.2" height="24.0" fill="rgb(64,64,64)"/><rect x="1606.4" y="1249.6" width="60.2" height="24.0" fill="rgb(38,38,38)"/><rect x="1666.3" y="1249.6" width="20.3" height="24.0" fill="rgb(13,13,13)"/><rect x="1686.3" y="1249.6" width="100.2" height="24.0" fill="rgb(38,38,38)"/><rect x="1346.7" y="1273.3" width="80.3" height="24.0" fill="rgb(38,38,38)"/><rect x="1426.7" y="1273.3" width="40.2" height="24.0" fill="rgb(64,64,64)"/><rect x="1466.6" y="1273.3" width="40.2" height="24.0" fill="rgb(38,38,38)"/><rect x="1506.5" y="1273.3" width="20.3" height="24.0" fill="rgb(64,64,64)"/><rect x="1526.5" y="1273.3" width="80.2" height="24.0" fill="rgb(38,38,38)"/><rect x="1606.4" y="1273.3" width="80.2" height="24.0" fill="rgb(13,13,13)"/><rect x="1686.3" y="1273.3" width="20.3" height="24.0" fill="rgb(38,38,38)"/><rect x="1706.2" y="1273.3" width="80.3" height="24.0" fill="rgb(13,13,13)"/><rect x="1346.7" y="1296.9" width="100.2" height="24.0" fill="rgb(38,38,38)"/><rect x="1446.6" y="1296.9" width="20.3" height="24.0" fill="rgb(13,13,13)"/><rect x="1466.6" y="1296.9" width="60.2" height="24.0" fill="rgb(38,38,38)"/><rect x="1526.5" y="1296.9" width="20.3" height="24.0" fill="rgb(13,13,13)"/><rect x="1546.5" y="1296.9" width="20.3" height="24.0" fill="rgb(38,38,38)"/><rect x="1566.5" y="1296.9" width="20.3" height="24.0" fill="rgb(13,13,13)"/><rect x="1586.4" y="1296.9" width="20.3" height="24.0" fill="rgb(38,38,38)"/><rect x="1606.4" y="1296.9" width="80.2" height="24.0" fill="rgb(13,13,13)"/><rect x="1686.3" y="1296.9" width="20.3" height="24.0" fill="rgb(38,38,38)"/><rect x="1706.2" y="1296.9" width="80.3" height="24.0" fill="rgb(13,13,13)"/><rect x="1346.7" y="1320.6" width="280.0" height="24.0" fill="rgb(38,38,38)"/><rect x="1626.4" y="1320.6" width="40.2" height="24.0" fill="rgb(64,64,64)"/><rect x="1666.3" y="1320.6" width="120.2" height="24.0" fill="rgb(38,38,38)"/><rect x="1346.7" y="1344.3" width="80.3" height="24.0" fill="rgb(38,38,38)"/><rect x="1426.7" y="1344.3" width="20.3" height="24.0" fill="rgb(64,64,64)"/><rect x="1446.6" y="1344.3" width="60.2" height="24.0" fill="rgb(38,38,38)"/><rect x="1506.5" y="1344.3" width="20.3" height="24.0" fill="rgb(13,13,13)"/><rect x="1526.5" y="1344.3" width="40.2" height="24.0" fill="rgb(64,64,64)"/><rect x="1566.5" y="1344.3" width="40.2" height="24.0" fill="rgb(89,89,89)"/><rect x="1606.4" y="1344.3" width="40.2" height="24.0" fill="rgb(38,38,38)"/><rect x="1646.3" y="1344.3" width="140.2" height="24.0" fill="rgb(64,64,64)"/><rect x="1346.7" y="1367.9" width="80.3" height="84.0" fill="rgb(38,38,38)"/><rect x="1426.7" y="1367.9" width="20.3" height="84.0" fill="rgb(13,13,13)"/><rect x="1446.6" y="1367.9" width="100.1" height="84.0" fill="rgb(38,38,38)"/><rect x="1546.5" y="1367.9" width="60.2" height="84.0" fill="rgb(64,64,64)"/><rect x="1606.4" y="1367.9" width="180.1" height="84.0" fill="rgb(38,38,38)"/>
</g>
<use href="#cst" x="1406.7" y="1107.6"/>
</svg>
<rect x="1649.4" y="1344.4" width="69.2" height="38.8" fill="#fff"/>
<text class="s" x="1684.0" y="1372.8" text-anchor="middle">17%</text>
<rect x="1407.6" y="1108.5" width="317.7" height="282.2" fill="none" stroke="#000" stroke-width="1.8"/>
<svg x="1730.0" y="1107.6" width="319.5" height="284.0" viewBox="1730.0 1107.6 319.5 284.0"><g filter="url(#q)">
<rect x="1670.0" y="1047.6" width="439.5" height="404.0" fill="rgb(13,13,13)"/>

</g>
<use href="#cst" x="1730.0" y="1107.6"/>
</svg>
<rect x="1986.0" y="1344.4" width="55.9" height="38.8" fill="#fff"/>
<text class="s" x="2014.0" y="1372.8" text-anchor="middle">0%</text>
<rect x="1730.9" y="1108.5" width="317.7" height="282.2" fill="none" stroke="#000" stroke-width="1.8"/>
<svg x="1083.3" y="1396.2" width="319.5" height="284.0" viewBox="1083.3 1396.2 319.5 284.0"><g filter="url(#q)">
<rect x="1023.3" y="1336.2" width="439.5" height="404.0" fill="rgb(13,13,13)"/>
<rect x="1023.3" y="1336.2" width="80.3" height="84.0" fill="rgb(13,13,13)"/><rect x="1103.3" y="1336.2" width="80.2" height="84.0" fill="rgb(38,38,38)"/><rect x="1183.1" y="1336.2" width="60.2" height="84.0" fill="rgb(64,64,64)"/><rect x="1243.0" y="1336.2" width="40.2" height="84.0" fill="rgb(38,38,38)"/><rect x="1283.0" y="1336.2" width="180.1" height="84.0" fill="rgb(13,13,13)"/><rect x="1023.3" y="1419.9" width="80.3" height="24.0" fill="rgb(64,64,64)"/><rect x="1103.3" y="1419.9" width="20.3" height="24.0" fill="rgb(38,38,38)"/><rect x="1123.2" y="1419.9" width="100.1" height="24.0" fill="rgb(64,64,64)"/><rect x="1223.1" y="1419.9" width="60.2" height="24.0" fill="rgb(89,89,89)"/><rect x="1283.0" y="1419.9" width="100.1" height="24.0" fill="rgb(64,64,64)"/><rect x="1382.8" y="1419.9" width="80.3" height="24.0" fill="rgb(38,38,38)"/><rect x="1023.3" y="1443.5" width="80.3" height="24.0" fill="rgb(89,89,89)"/><rect x="1103.3" y="1443.5" width="20.3" height="24.0" fill="rgb(115,115,115)"/><rect x="1123.2" y="1443.5" width="20.3" height="24.0" fill="rgb(140,140,140)"/><rect x="1143.2" y="1443.5" width="20.3" height="24.0" fill="rgb(89,89,89)"/><rect x="1163.2" y="1443.5" width="20.3" height="24.0" fill="rgb(115,115,115)"/><rect x="1183.1" y="1443.5" width="40.2" height="24.0" fill="rgb(64,64,64)"/><rect x="1223.1" y="1443.5" width="20.3" height="24.0" fill="rgb(89,89,89)"/><rect x="1243.0" y="1443.5" width="20.3" height="24.0" fill="rgb(115,115,115)"/><rect x="1263.0" y="1443.5" width="100.1" height="24.0" fill="rgb(89,89,89)"/><rect x="1362.9" y="1443.5" width="20.3" height="24.0" fill="rgb(115,115,115)"/><rect x="1382.8" y="1443.5" width="80.3" height="24.0" fill="rgb(89,89,89)"/><rect x="1023.3" y="1467.2" width="120.2" height="24.0" fill="rgb(140,140,140)"/><rect x="1143.2" y="1467.2" width="20.3" height="24.0" fill="rgb(115,115,115)"/><rect x="1163.2" y="1467.2" width="20.3" height="24.0" fill="rgb(140,140,140)"/><rect x="1183.1" y="1467.2" width="40.2" height="24.0" fill="rgb(89,89,89)"/><rect x="1223.1" y="1467.2" width="80.2" height="24.0" fill="rgb(115,115,115)"/><rect x="1303.0" y="1467.2" width="20.3" height="24.0" fill="rgb(64,64,64)"/><rect x="1322.9" y="1467.2" width="20.3" height="24.0" fill="rgb(38,38,38)"/><rect x="1342.9" y="1467.2" width="40.2" height="24.0" fill="rgb(115,115,115)"/><rect x="1382.8" y="1467.2" width="80.3" height="24.0" fill="rgb(140,140,140)"/><rect x="1023.3" y="1490.9" width="80.3" height="24.0" fill="rgb(140,140,140)"/><rect x="1103.3" y="1490.9" width="20.3" height="24.0" fill="rgb(115,115,115)"/><rect x="1123.2" y="1490.9" width="20.3" height="24.0" fill="rgb(89,89,89)"/><rect x="1143.2" y="1490.9" width="20.3" height="24.0" fill="rgb(115,115,115)"/><rect x="1163.2" y="1490.9" width="20.3" height="24.0" fill="rgb(140,140,140)"/><rect x="1183.1" y="1490.9" width="60.2" height="24.0" fill="rgb(89,89,89)"/><rect x="1243.0" y="1490.9" width="60.2" height="24.0" fill="rgb(64,64,64)"/><rect x="1303.0" y="1490.9" width="20.3" height="24.0" fill="rgb(38,38,38)"/><rect x="1322.9" y="1490.9" width="20.3" height="24.0" fill="rgb(89,89,89)"/><rect x="1342.9" y="1490.9" width="20.3" height="24.0" fill="rgb(140,140,140)"/><rect x="1362.9" y="1490.9" width="20.3" height="24.0" fill="rgb(166,166,166)"/><rect x="1382.8" y="1490.9" width="80.3" height="24.0" fill="rgb(140,140,140)"/><rect x="1023.3" y="1514.5" width="80.3" height="24.0" fill="rgb(89,89,89)"/><rect x="1103.3" y="1514.5" width="80.2" height="24.0" fill="rgb(64,64,64)"/><rect x="1183.1" y="1514.5" width="20.3" height="24.0" fill="rgb(38,38,38)"/><rect x="1203.1" y="1514.5" width="20.3" height="24.0" fill="rgb(64,64,64)"/><rect x="1223.1" y="1514.5" width="20.3" height="24.0" fill="rgb(38,38,38)"/><rect x="1243.0" y="1514.5" width="20.3" height="24.0" fill="rgb(13,13,13)"/><rect x="1263.0" y="1514.5" width="20.3" height="24.0" fill="rgb(38,38,38)"/><rect x="1283.0" y="1514.5" width="20.3" height="24.0" fill="rgb(64,64,64)"/><rect x="1303.0" y="1514.5" width="20.3" height="24.0" fill="rgb(89,89,89)"/><rect x="1322.9" y="1514.5" width="40.2" height="24.0" fill="rgb(115,115,115)"/><rect x="1362.9" y="1514.5" width="20.3" height="24.0" fill="rgb(140,140,140)"/><rect x="1382.8" y="1514.5" width="80.3" height="24.0" fill="rgb(115,115,115)"/><rect x="1023.3" y="1538.2" width="120.2" height="24.0" fill="rgb(64,64,64)"/><rect x="1143.2" y="1538.2" width="20.3" height="24.0" fill="rgb(89,89,89)"/><rect x="1163.2" y="1538.2" width="20.3" height="24.0" fill="rgb(38,38,38)"/><rect x="1183.1" y="1538.2" width="60.2" height="24.0" fill="rgb(64,64,64)"/><rect x="1243.0" y="1538.2" width="40.2" height="24.0" fill="rgb(38,38,38)"/><rect x="1283.0" y="1538.2" width="20.3" height="24.0" fill="rgb(89,89,89)"/><rect x="1303.0" y="1538.2" width="60.2" height="24.0" fill="rgb(115,115,115)"/><rect x="1362.9" y="1538.2" width="20.3" height="24.0" fill="rgb(89,89,89)"/><rect x="1382.8" y="1538.2" width="80.3" height="24.0" fill="rgb(115,115,115)"/><rect x="1023.3" y="1561.9" width="80.3" height="24.0" fill="rgb(140,140,140)"/><rect x="1103.3" y="1561.9" width="60.2" height="24.0" fill="rgb(89,89,89)"/><rect x="1163.2" y="1561.9" width="20.3" height="24.0" fill="rgb(64,64,64)"/><rect x="1183.1" y="1561.9" width="20.3" height="24.0" fill="rgb(89,89,89)"/><rect x="1203.1" y="1561.9" width="20.3" height="24.0" fill="rgb(115,115,115)"/><rect x="1223.1" y="1561.9" width="20.3" height="24.0" fill="rgb(140,140,140)"/><rect x="1243.0" y="1561.9" width="20.3" height="24.0" fill="rgb(115,115,115)"/><rect x="1263.0" y="1561.9" width="40.2" height="24.0" fill="rgb(140,140,140)"/><rect x="1303.0" y="1561.9" width="80.2" height="24.0" fill="rgb(166,166,166)"/><rect x="1382.8" y="1561.9" width="80.3" height="24.0" fill="rgb(140,140,140)"/><rect x="1023.3" y="1585.5" width="80.3" height="24.0" fill="rgb(140,140,140)"/><rect x="1103.3" y="1585.5" width="20.3" height="24.0" fill="rgb(166,166,166)"/><rect x="1123.2" y="1585.5" width="20.3" height="24.0" fill="rgb(140,140,140)"/><rect x="1143.2" y="1585.5" width="20.3" height="24.0" fill="rgb(115,115,115)"/><rect x="1163.2" y="1585.5" width="20.3" height="24.0" fill="rgb(89,89,89)"/><rect x="1183.1" y="1585.5" width="20.3" height="24.0" fill="rgb(115,115,115)"/><rect x="1203.1" y="1585.5" width="20.3" height="24.0" fill="rgb(140,140,140)"/><rect x="1223.1" y="1585.5" width="20.3" height="24.0" fill="rgb(115,115,115)"/><rect x="1243.0" y="1585.5" width="20.3" height="24.0" fill="rgb(89,89,89)"/><rect x="1263.0" y="1585.5" width="80.2" height="24.0" fill="rgb(140,140,140)"/><rect x="1342.9" y="1585.5" width="40.2" height="24.0" fill="rgb(166,166,166)"/><rect x="1382.8" y="1585.5" width="80.3" height="24.0" fill="rgb(140,140,140)"/><rect x="1023.3" y="1609.2" width="80.3" height="24.0" fill="rgb(115,115,115)"/><rect x="1103.3" y="1609.2" width="60.2" height="24.0" fill="rgb(140,140,140)"/><rect x="1163.2" y="1609.2" width="40.2" height="24.0" fill="rgb(115,115,115)"/><rect x="1203.1" y="1609.2" width="80.2" height="24.0" fill="rgb(140,140,140)"/><rect x="1283.0" y="1609.2" width="40.2" height="24.0" fill="rgb(115,115,115)"/><rect x="1322.9" y="1609.2" width="40.2" height="24.0" fill="rgb(89,89,89)"/><rect x="1362.9" y="1609.2" width="100.2" height="24.0" fill="rgb(115,115,115)"/><rect x="1023.3" y="1632.9" width="100.2" height="24.0" fill="rgb(64,64,64)"/><rect x="1123.2" y="1632.9" width="60.2" height="24.0" fill="rgb(89,89,89)"/><rect x="1183.1" y="1632.9" width="20.3" height="24.0" fill="rgb(115,115,115)"/><rect x="1203.1" y="1632.9" width="60.2" height="24.0" fill="rgb(64,64,64)"/><rect x="1263.0" y="1632.9" width="20.3" height="24.0" fill="rgb(38,38,38)"/><rect x="1283.0" y="1632.9" width="20.3" height="24.0" fill="rgb(64,64,64)"/><rect x="1303.0" y="1632.9" width="160.1" height="24.0" fill="rgb(89,89,89)"/><rect x="1023.3" y="1656.5" width="80.3" height="84.0" fill="rgb(89,89,89)"/><rect x="1103.3" y="1656.5" width="40.2" height="84.0" fill="rgb(140,140,140)"/><rect x="1143.2" y="1656.5" width="20.3" height="84.0" fill="rgb(89,89,89)"/><rect x="1163.2" y="1656.5" width="20.3" height="84.0" fill="rgb(64,64,64)"/><rect x="1183.1" y="1656.5" width="40.2" height="84.0" fill="rgb(89,89,89)"/><rect x="1223.1" y="1656.5" width="20.3" height="84.0" fill="rgb(64,64,64)"/><rect x="1243.0" y="1656.5" width="20.3" height="84.0" fill="rgb(38,38,38)"/><rect x="1263.0" y="1656.5" width="20.3" height="84.0" fill="rgb(64,64,64)"/><rect x="1283.0" y="1656.5" width="40.2" height="84.0" fill="rgb(89,89,89)"/><rect x="1322.9" y="1656.5" width="140.2" height="84.0" fill="rgb(64,64,64)"/>
</g>
<use href="#cst" x="1083.3" y="1396.2"/>
</svg>
<rect x="1326.0" y="1633.0" width="69.2" height="38.8" fill="#fff"/>
<text class="s" x="1360.6" y="1661.4" text-anchor="middle">37%</text>
<rect x="1084.2" y="1397.1" width="317.7" height="282.2" fill="none" stroke="#000" stroke-width="1.8"/>
<svg x="1406.7" y="1396.2" width="319.5" height="284.0" viewBox="1406.7 1396.2 319.5 284.0"><g filter="url(#q)">
<rect x="1346.7" y="1336.2" width="439.5" height="404.0" fill="rgb(13,13,13)"/>
<rect x="1346.7" y="1336.2" width="140.2" height="84.0" fill="rgb(217,217,217)"/><rect x="1486.6" y="1336.2" width="60.2" height="84.0" fill="rgb(191,191,191)"/><rect x="1546.5" y="1336.2" width="20.3" height="84.0" fill="rgb(166,166,166)"/><rect x="1566.5" y="1336.2" width="220.1" height="84.0" fill="rgb(217,217,217)"/><rect x="1346.7" y="1419.9" width="200.1" height="24.0" fill="rgb(191,191,191)"/><rect x="1546.5" y="1419.9" width="60.2" height="24.0" fill="rgb(166,166,166)"/><rect x="1606.4" y="1419.9" width="20.3" height="24.0" fill="rgb(191,191,191)"/><rect x="1626.4" y="1419.9" width="60.2" height="24.0" fill="rgb(166,166,166)"/><rect x="1686.3" y="1419.9" width="100.2" height="24.0" fill="rgb(191,191,191)"/><rect x="1346.7" y="1443.5" width="80.3" height="24.0" fill="rgb(166,166,166)"/><rect x="1426.7" y="1443.5" width="20.3" height="24.0" fill="rgb(140,140,140)"/><rect x="1446.6" y="1443.5" width="20.3" height="24.0" fill="rgb(115,115,115)"/><rect x="1466.6" y="1443.5" width="20.3" height="24.0" fill="rgb(166,166,166)"/><rect x="1486.6" y="1443.5" width="20.3" height="24.0" fill="rgb(140,140,140)"/><rect x="1506.5" y="1443.5" width="20.3" height="24.0" fill="rgb(191,191,191)"/><rect x="1526.5" y="1443.5" width="20.3" height="24.0" fill="rgb(217,217,217)"/><rect x="1546.5" y="1443.5" width="20.3" height="24.0" fill="rgb(140,140,140)"/><rect x="1566.5" y="1443.5" width="20.3" height="24.0" fill="rgb(115,115,115)"/><rect x="1586.4" y="1443.5" width="20.3" height="24.0" fill="rgb(140,140,140)"/><rect x="1606.4" y="1443.5" width="180.1" height="24.0" fill="rgb(166,166,166)"/><rect x="1346.7" y="1467.2" width="80.3" height="24.0" fill="rgb(115,115,115)"/><rect x="1426.7" y="1467.2" width="20.3" height="24.0" fill="rgb(89,89,89)"/><rect x="1446.6" y="1467.2" width="40.2" height="24.0" fill="rgb(140,140,140)"/><rect x="1486.6" y="1467.2" width="20.3" height="24.0" fill="rgb(115,115,115)"/><rect x="1506.5" y="1467.2" width="20.3" height="24.0" fill="rgb(166,166,166)"/><rect x="1526.5" y="1467.2" width="20.3" height="24.0" fill="rgb(140,140,140)"/><rect x="1546.5" y="1467.2" width="40.2" height="24.0" fill="rgb(115,115,115)"/><rect x="1586.4" y="1467.2" width="40.2" height="24.0" fill="rgb(140,140,140)"/><rect x="1626.4" y="1467.2" width="40.2" height="24.0" fill="rgb(191,191,191)"/><rect x="1666.3" y="1467.2" width="40.2" height="24.0" fill="rgb(140,140,140)"/><rect x="1706.2" y="1467.2" width="80.3" height="24.0" fill="rgb(115,115,115)"/><rect x="1346.7" y="1490.9" width="80.3" height="24.0" fill="rgb(115,115,115)"/><rect x="1426.7" y="1490.9" width="20.3" height="24.0" fill="rgb(166,166,166)"/><rect x="1446.6" y="1490.9" width="20.3" height="24.0" fill="rgb(191,191,191)"/><rect x="1466.6" y="1490.9" width="20.3" height="24.0" fill="rgb(140,140,140)"/><rect x="1486.6" y="1490.9" width="20.3" height="24.0" fill="rgb(115,115,115)"/><rect x="1506.5" y="1490.9" width="40.2" height="24.0" fill="rgb(140,140,140)"/><rect x="1546.5" y="1490.9" width="20.3" height="24.0" fill="rgb(166,166,166)"/><rect x="1566.5" y="1490.9" width="20.3" height="24.0" fill="rgb(217,217,217)"/><rect x="1586.4" y="1490.9" width="40.2" height="24.0" fill="rgb(166,166,166)"/><rect x="1626.4" y="1490.9" width="20.3" height="24.0" fill="rgb(217,217,217)"/><rect x="1646.3" y="1490.9" width="20.3" height="24.0" fill="rgb(140,140,140)"/><rect x="1666.3" y="1490.9" width="20.3" height="24.0" fill="rgb(115,115,115)"/><rect x="1686.3" y="1490.9" width="100.2" height="24.0" fill="rgb(89,89,89)"/><rect x="1346.7" y="1514.5" width="80.3" height="24.0" fill="rgb(166,166,166)"/><rect x="1426.7" y="1514.5" width="20.3" height="24.0" fill="rgb(191,191,191)"/><rect x="1446.6" y="1514.5" width="40.2" height="24.0" fill="rgb(217,217,217)"/><rect x="1486.6" y="1514.5" width="40.2" height="24.0" fill="rgb(191,191,191)"/><rect x="1526.5" y="1514.5" width="20.3" height="24.0" fill="rgb(166,166,166)"/><rect x="1546.5" y="1514.5" width="20.3" height="24.0" fill="rgb(217,217,217)"/><rect x="1566.5" y="1514.5" width="20.3" height="24.0" fill="rgb(242,242,242)"/><rect x="1586.4" y="1514.5" width="60.2" height="24.0" fill="rgb(191,191,191)"/><rect x="1646.3" y="1514.5" width="40.2" height="24.0" fill="rgb(140,140,140)"/><rect x="1686.3" y="1514.5" width="100.2" height="24.0" fill="rgb(115,115,115)"/><rect x="1346.7" y="1538.2" width="120.2" height="24.0" fill="rgb(166,166,166)"/><rect x="1466.6" y="1538.2" width="20.3" height="24.0" fill="rgb(191,191,191)"/><rect x="1486.6" y="1538.2" width="20.3" height="24.0" fill="rgb(217,217,217)"/><rect x="1506.5" y="1538.2" width="20.3" height="24.0" fill="rgb(191,191,191)"/><rect x="1526.5" y="1538.2" width="40.2" height="24.0" fill="rgb(166,166,166)"/><rect x="1566.5" y="1538.2" width="20.3" height="24.0" fill="rgb(191,191,191)"/><rect x="1586.4" y="1538.2" width="20.3" height="24.0" fill="rgb(217,217,217)"/><rect x="1606.4" y="1538.2" width="20.3" height="24.0" fill="rgb(166,166,166)"/><rect x="1626.4" y="1538.2" width="160.1" height="24.0" fill="rgb(140,140,140)"/><rect x="1346.7" y="1561.9" width="80.3" height="24.0" fill="rgb(115,115,115)"/><rect x="1426.7" y="1561.9" width="20.3" height="24.0" fill="rgb(166,166,166)"/><rect x="1446.6" y="1561.9" width="20.3" height="24.0" fill="rgb(140,140,140)"/><rect x="1466.6" y="1561.9" width="20.3" height="24.0" fill="rgb(166,166,166)"/><rect x="1486.6" y="1561.9" width="20.3" height="24.0" fill="rgb(191,191,191)"/><rect x="1506.5" y="1561.9" width="20.3" height="24.0" fill="rgb(140,140,140)"/><rect x="1526.5" y="1561.9" width="20.3" height="24.0" fill="rgb(166,166,166)"/><rect x="1546.5" y="1561.9" width="40.2" height="24.0" fill="rgb(115,115,115)"/><rect x="1586.4" y="1561.9" width="20.3" height="24.0" fill="rgb(89,89,89)"/><rect x="1606.4" y="1561.9" width="20.3" height="24.0" fill="rgb(115,115,115)"/><rect x="1626.4" y="1561.9" width="80.2" height="24.0" fill="rgb(89,89,89)"/><rect x="1706.2" y="1561.9" width="80.3" height="24.0" fill="rgb(115,115,115)"/><rect x="1346.7" y="1585.5" width="80.3" height="24.0" fill="rgb(115,115,115)"/><rect x="1426.7" y="1585.5" width="20.3" height="24.0" fill="rgb(89,89,89)"/><rect x="1446.6" y="1585.5" width="20.3" height="24.0" fill="rgb(115,115,115)"/><rect x="1466.6" y="1585.5" width="60.2" height="24.0" fill="rgb(140,140,140)"/><rect x="1526.5" y="1585.5" width="20.3" height="24.0" fill="rgb(115,115,115)"/><rect x="1546.5" y="1585.5" width="20.3" height="24.0" fill="rgb(140,140,140)"/><rect x="1566.5" y="1585.5" width="20.3" height="24.0" fill="rgb(166,166,166)"/><rect x="1586.4" y="1585.5" width="40.2" height="24.0" fill="rgb(115,115,115)"/><rect x="1626.4" y="1585.5" width="20.3" height="24.0" fill="rgb(140,140,140)"/><rect x="1646.3" y="1585.5" width="20.3" height="24.0" fill="rgb(115,115,115)"/><rect x="1666.3" y="1585.5" width="20.3" height="24.0" fill="rgb(64,64,64)"/><rect x="1686.3" y="1585.5" width="20.3" height="24.0" fill="rgb(89,89,89)"/><rect x="1706.2" y="1585.5" width="80.3" height="24.0" fill="rgb(115,115,115)"/><rect x="1346.7" y="1609.2" width="100.2" height="24.0" fill="rgb(140,140,140)"/><rect x="1446.6" y="1609.2" width="20.3" height="24.0" fill="rgb(115,115,115)"/><rect x="1466.6" y="1609.2" width="20.3" height="24.0" fill="rgb(89,89,89)"/><rect x="1486.6" y="1609.2" width="40.2" height="24.0" fill="rgb(140,140,140)"/><rect x="1526.5" y="1609.2" width="80.2" height="24.0" fill="rgb(115,115,115)"/><rect x="1606.4" y="1609.2" width="20.3" height="24.0" fill="rgb(140,140,140)"/><rect x="1626.4" y="1609.2" width="60.2" height="24.0" fill="rgb(166,166,166)"/><rect x="1686.3" y="1609.2" width="20.3" height="24.0" fill="rgb(140,140,140)"/><rect x="1706.2" y="1609.2" width="80.3" height="24.0" fill="rgb(166,166,166)"/><rect x="1346.7" y="1632.9" width="100.2" height="24.0" fill="rgb(166,166,166)"/><rect x="1446.6" y="1632.9" width="60.2" height="24.0" fill="rgb(140,140,140)"/><rect x="1506.5" y="1632.9" width="20.3" height="24.0" fill="rgb(115,115,115)"/><rect x="1526.5" y="1632.9" width="20.3" height="24.0" fill="rgb(191,191,191)"/><rect x="1546.5" y="1632.9" width="20.3" height="24.0" fill="rgb(166,166,166)"/><rect x="1566.5" y="1632.9" width="20.3" height="24.0" fill="rgb(191,191,191)"/><rect x="1586.4" y="1632.9" width="20.3" height="24.0" fill="rgb(166,166,166)"/><rect x="1606.4" y="1632.9" width="20.3" height="24.0" fill="rgb(115,115,115)"/><rect x="1626.4" y="1632.9" width="80.2" height="24.0" fill="rgb(140,140,140)"/><rect x="1706.2" y="1632.9" width="80.3" height="24.0" fill="rgb(166,166,166)"/><rect x="1346.7" y="1656.5" width="80.3" height="84.0" fill="rgb(140,140,140)"/><rect x="1426.7" y="1656.5" width="20.3" height="84.0" fill="rgb(115,115,115)"/><rect x="1446.6" y="1656.5" width="20.3" height="84.0" fill="rgb(140,140,140)"/><rect x="1466.6" y="1656.5" width="20.3" height="84.0" fill="rgb(166,166,166)"/><rect x="1486.6" y="1656.5" width="20.3" height="84.0" fill="rgb(140,140,140)"/><rect x="1506.5" y="1656.5" width="20.3" height="84.0" fill="rgb(115,115,115)"/><rect x="1526.5" y="1656.5" width="20.3" height="84.0" fill="rgb(140,140,140)"/><rect x="1546.5" y="1656.5" width="60.2" height="84.0" fill="rgb(191,191,191)"/><rect x="1606.4" y="1656.5" width="20.3" height="84.0" fill="rgb(166,166,166)"/><rect x="1626.4" y="1656.5" width="20.3" height="84.0" fill="rgb(191,191,191)"/><rect x="1646.3" y="1656.5" width="60.2" height="84.0" fill="rgb(166,166,166)"/><rect x="1706.2" y="1656.5" width="80.3" height="84.0" fill="rgb(191,191,191)"/>
</g>
<use href="#cst" x="1406.7" y="1396.2"/>
</svg>
<rect x="1649.4" y="1633.0" width="69.2" height="38.8" fill="#fff"/>
<text class="s" x="1684.0" y="1661.4" text-anchor="middle">59%</text>
<rect x="1407.6" y="1397.1" width="317.7" height="282.2" fill="none" stroke="#000" stroke-width="1.8"/>
<svg x="1730.0" y="1396.2" width="319.5" height="284.0" viewBox="1730.0 1396.2 319.5 284.0"><g filter="url(#q)">
<rect x="1670.0" y="1336.2" width="439.5" height="404.0" fill="rgb(13,13,13)"/>
<rect x="1670.0" y="1336.2" width="80.3" height="84.0" fill="rgb(38,38,38)"/><rect x="1750.0" y="1336.2" width="100.1" height="84.0" fill="rgb(13,13,13)"/><rect x="1849.8" y="1336.2" width="20.3" height="84.0" fill="rgb(38,38,38)"/><rect x="1869.8" y="1336.2" width="140.1" height="84.0" fill="rgb(13,13,13)"/><rect x="2009.6" y="1336.2" width="100.2" height="84.0" fill="rgb(38,38,38)"/><rect x="1670.0" y="1419.9" width="439.8" height="24.0" fill="rgb(13,13,13)"/><rect x="1670.0" y="1443.5" width="140.2" height="24.0" fill="rgb(13,13,13)"/><rect x="1809.9" y="1443.5" width="20.3" height="24.0" fill="rgb(38,38,38)"/><rect x="1829.8" y="1443.5" width="280.0" height="24.0" fill="rgb(13,13,13)"/><rect x="1670.0" y="1467.2" width="439.8" height="24.0" fill="rgb(13,13,13)"/><rect x="1670.0" y="1490.9" width="439.8" height="24.0" fill="rgb(13,13,13)"/><rect x="1670.0" y="1514.5" width="160.1" height="24.0" fill="rgb(13,13,13)"/><rect x="1829.8" y="1514.5" width="20.3" height="24.0" fill="rgb(38,38,38)"/><rect x="1849.8" y="1514.5" width="260.0" height="24.0" fill="rgb(13,13,13)"/><rect x="1670.0" y="1538.2" width="439.8" height="24.0" fill="rgb(13,13,13)"/><rect x="1670.0" y="1561.9" width="439.8" height="24.0" fill="rgb(13,13,13)"/><rect x="1670.0" y="1585.5" width="299.9" height="24.0" fill="rgb(13,13,13)"/><rect x="1969.6" y="1585.5" width="20.3" height="24.0" fill="rgb(38,38,38)"/><rect x="1989.6" y="1585.5" width="120.2" height="24.0" fill="rgb(13,13,13)"/><rect x="1670.0" y="1609.2" width="439.8" height="24.0" fill="rgb(13,13,13)"/><rect x="1670.0" y="1632.9" width="180.1" height="24.0" fill="rgb(38,38,38)"/><rect x="1849.8" y="1632.9" width="20.3" height="24.0" fill="rgb(13,13,13)"/><rect x="1869.8" y="1632.9" width="20.3" height="24.0" fill="rgb(38,38,38)"/><rect x="1889.8" y="1632.9" width="40.2" height="24.0" fill="rgb(13,13,13)"/><rect x="1929.7" y="1632.9" width="20.3" height="24.0" fill="rgb(38,38,38)"/><rect x="1949.7" y="1632.9" width="40.2" height="24.0" fill="rgb(13,13,13)"/><rect x="1989.6" y="1632.9" width="120.2" height="24.0" fill="rgb(38,38,38)"/><rect x="1670.0" y="1656.5" width="120.2" height="84.0" fill="rgb(13,13,13)"/><rect x="1789.9" y="1656.5" width="60.2" height="84.0" fill="rgb(38,38,38)"/><rect x="1849.8" y="1656.5" width="20.3" height="84.0" fill="rgb(13,13,13)"/><rect x="1869.8" y="1656.5" width="60.2" height="84.0" fill="rgb(38,38,38)"/><rect x="1929.7" y="1656.5" width="180.1" height="84.0" fill="rgb(13,13,13)"/>
</g>
<use href="#cst" x="1730.0" y="1396.2"/>
</svg>
<rect x="1986.0" y="1633.0" width="55.9" height="38.8" fill="#fff"/>
<text class="s" x="2014.0" y="1661.4" text-anchor="middle">4%</text>
<rect x="1730.9" y="1397.1" width="317.7" height="282.2" fill="none" stroke="#000" stroke-width="1.8"/>
<svg x="1083.3" y="1684.2" width="319.5" height="284.0" viewBox="1083.3 1684.2 319.5 284.0"><g filter="url(#q)">
<rect x="1023.3" y="1624.2" width="439.5" height="404.0" fill="rgb(13,13,13)"/>
<rect x="1023.3" y="1624.2" width="439.8" height="84.0" fill="rgb(13,13,13)"/><rect x="1023.3" y="1707.9" width="200.1" height="24.0" fill="rgb(13,13,13)"/><rect x="1223.1" y="1707.9" width="80.2" height="24.0" fill="rgb(38,38,38)"/><rect x="1303.0" y="1707.9" width="160.1" height="24.0" fill="rgb(13,13,13)"/><rect x="1023.3" y="1731.5" width="80.3" height="24.0" fill="rgb(13,13,13)"/><rect x="1103.3" y="1731.5" width="80.2" height="24.0" fill="rgb(38,38,38)"/><rect x="1183.1" y="1731.5" width="20.3" height="24.0" fill="rgb(13,13,13)"/><rect x="1203.1" y="1731.5" width="20.3" height="24.0" fill="rgb(38,38,38)"/><rect x="1223.1" y="1731.5" width="60.2" height="24.0" fill="rgb(64,64,64)"/><rect x="1283.0" y="1731.5" width="20.3" height="24.0" fill="rgb(38,38,38)"/><rect x="1303.0" y="1731.5" width="20.3" height="24.0" fill="rgb(13,13,13)"/><rect x="1322.9" y="1731.5" width="60.2" height="24.0" fill="rgb(38,38,38)"/><rect x="1382.8" y="1731.5" width="80.3" height="24.0" fill="rgb(13,13,13)"/><rect x="1023.3" y="1755.2" width="80.3" height="24.0" fill="rgb(64,64,64)"/><rect x="1103.3" y="1755.2" width="40.2" height="24.0" fill="rgb(38,38,38)"/><rect x="1143.2" y="1755.2" width="40.2" height="24.0" fill="rgb(64,64,64)"/><rect x="1183.1" y="1755.2" width="60.2" height="24.0" fill="rgb(38,38,38)"/><rect x="1243.0" y="1755.2" width="40.2" height="24.0" fill="rgb(64,64,64)"/><rect x="1283.0" y="1755.2" width="20.3" height="24.0" fill="rgb(38,38,38)"/><rect x="1303.0" y="1755.2" width="20.3" height="24.0" fill="rgb(13,13,13)"/><rect x="1322.9" y="1755.2" width="20.3" height="24.0" fill="rgb(38,38,38)"/><rect x="1342.9" y="1755.2" width="120.2" height="24.0" fill="rgb(64,64,64)"/><rect x="1023.3" y="1778.9" width="80.3" height="24.0" fill="rgb(64,64,64)"/><rect x="1103.3" y="1778.9" width="20.3" height="24.0" fill="rgb(38,38,38)"/><rect x="1123.2" y="1778.9" width="20.3" height="24.0" fill="rgb(13,13,13)"/><rect x="1143.2" y="1778.9" width="40.2" height="24.0" fill="rgb(64,64,64)"/><rect x="1183.1" y="1778.9" width="100.1" height="24.0" fill="rgb(38,38,38)"/><rect x="1283.0" y="1778.9" width="40.2" height="24.0" fill="rgb(13,13,13)"/><rect x="1322.9" y="1778.9" width="20.3" height="24.0" fill="rgb(38,38,38)"/><rect x="1342.9" y="1778.9" width="40.2" height="24.0" fill="rgb(89,89,89)"/><rect x="1382.8" y="1778.9" width="80.3" height="24.0" fill="rgb(64,64,64)"/><rect x="1023.3" y="1802.5" width="80.3" height="24.0" fill="rgb(38,38,38)"/><rect x="1103.3" y="1802.5" width="80.2" height="24.0" fill="rgb(13,13,13)"/><rect x="1183.1" y="1802.5" width="40.2" height="24.0" fill="rgb(38,38,38)"/><rect x="1223.1" y="1802.5" width="80.2" height="24.0" fill="rgb(13,13,13)"/><rect x="1303.0" y="1802.5" width="20.3" height="24.0" fill="rgb(38,38,38)"/><rect x="1322.9" y="1802.5" width="60.2" height="24.0" fill="rgb(64,64,64)"/><rect x="1382.8" y="1802.5" width="80.3" height="24.0" fill="rgb(38,38,38)"/><rect x="1023.3" y="1826.2" width="80.3" height="24.0" fill="rgb(13,13,13)"/><rect x="1103.3" y="1826.2" width="40.2" height="24.0" fill="rgb(38,38,38)"/><rect x="1143.2" y="1826.2" width="60.2" height="24.0" fill="rgb(13,13,13)"/><rect x="1203.1" y="1826.2" width="40.2" height="24.0" fill="rgb(38,38,38)"/><rect x="1243.0" y="1826.2" width="20.3" height="24.0" fill="rgb(13,13,13)"/><rect x="1263.0" y="1826.2" width="40.2" height="24.0" fill="rgb(38,38,38)"/><rect x="1303.0" y="1826.2" width="20.3" height="24.0" fill="rgb(64,64,64)"/><rect x="1322.9" y="1826.2" width="20.3" height="24.0" fill="rgb(38,38,38)"/><rect x="1342.9" y="1826.2" width="20.3" height="24.0" fill="rgb(64,64,64)"/><rect x="1362.9" y="1826.2" width="100.2" height="24.0" fill="rgb(38,38,38)"/><rect x="1023.3" y="1849.9" width="80.3" height="24.0" fill="rgb(64,64,64)"/><rect x="1103.3" y="1849.9" width="120.1" height="24.0" fill="rgb(38,38,38)"/><rect x="1223.1" y="1849.9" width="40.2" height="24.0" fill="rgb(64,64,64)"/><rect x="1263.0" y="1849.9" width="20.3" height="24.0" fill="rgb(38,38,38)"/><rect x="1283.0" y="1849.9" width="80.2" height="24.0" fill="rgb(89,89,89)"/><rect x="1362.9" y="1849.9" width="100.2" height="24.0" fill="rgb(64,64,64)"/><rect x="1023.3" y="1873.5" width="80.3" height="24.0" fill="rgb(64,64,64)"/><rect x="1103.3" y="1873.5" width="40.2" height="24.0" fill="rgb(89,89,89)"/><rect x="1143.2" y="1873.5" width="60.2" height="24.0" fill="rgb(38,38,38)"/><rect x="1203.1" y="1873.5" width="20.3" height="24.0" fill="rgb(64,64,64)"/><rect x="1223.1" y="1873.5" width="120.1" height="24.0" fill="rgb(38,38,38)"/><rect x="1342.9" y="1873.5" width="120.2" height="24.0" fill="rgb(64,64,64)"/><rect x="1023.3" y="1897.2" width="80.3" height="24.0" fill="rgb(13,13,13)"/><rect x="1103.3" y="1897.2" width="20.3" height="24.0" fill="rgb(38,38,38)"/><rect x="1123.2" y="1897.2" width="20.3" height="24.0" fill="rgb(64,64,64)"/><rect x="1143.2" y="1897.2" width="40.2" height="24.0" fill="rgb(38,38,38)"/><rect x="1183.1" y="1897.2" width="20.3" height="24.0" fill="rgb(64,64,64)"/><rect x="1203.1" y="1897.2" width="20.3" height="24.0" fill="rgb(13,13,13)"/><rect x="1223.1" y="1897.2" width="60.2" height="24.0" fill="rgb(38,38,38)"/><rect x="1283.0" y="1897.2" width="180.1" height="24.0" fill="rgb(13,13,13)"/><rect x="1023.3" y="1920.9" width="439.8" height="24.0" fill="rgb(13,13,13)"/><rect x="1023.3" y="1944.5" width="120.2" height="84.0" fill="rgb(38,38,38)"/><rect x="1143.2" y="1944.5" width="319.9" height="84.0" fill="rgb(13,13,13)"/>
</g>
<use href="#cst" x="1083.3" y="1684.2"/>
</svg>
<rect x="1326.0" y="1921.0" width="69.2" height="38.8" fill="#fff"/>
<text class="s" x="1360.6" y="1949.4" text-anchor="middle">13%</text>
<rect x="1084.2" y="1685.1" width="317.7" height="282.2" fill="none" stroke="#000" stroke-width="1.8"/>
<svg x="1406.7" y="1684.2" width="319.5" height="284.0" viewBox="1406.7 1684.2 319.5 284.0"><g filter="url(#q)">
<rect x="1346.7" y="1624.2" width="439.5" height="404.0" fill="rgb(13,13,13)"/>
<rect x="1346.7" y="1624.2" width="80.3" height="84.0" fill="rgb(140,140,140)"/><rect x="1426.7" y="1624.2" width="40.2" height="84.0" fill="rgb(166,166,166)"/><rect x="1466.6" y="1624.2" width="40.2" height="84.0" fill="rgb(191,191,191)"/><rect x="1506.5" y="1624.2" width="60.2" height="84.0" fill="rgb(166,166,166)"/><rect x="1566.5" y="1624.2" width="20.3" height="84.0" fill="rgb(217,217,217)"/><rect x="1586.4" y="1624.2" width="40.2" height="84.0" fill="rgb(191,191,191)"/><rect x="1626.4" y="1624.2" width="60.2" height="84.0" fill="rgb(166,166,166)"/><rect x="1686.3" y="1624.2" width="100.2" height="84.0" fill="rgb(140,140,140)"/><rect x="1346.7" y="1707.9" width="80.3" height="24.0" fill="rgb(140,140,140)"/><rect x="1426.7" y="1707.9" width="20.3" height="24.0" fill="rgb(191,191,191)"/><rect x="1446.6" y="1707.9" width="20.3" height="24.0" fill="rgb(166,166,166)"/><rect x="1466.6" y="1707.9" width="20.3" height="24.0" fill="rgb(191,191,191)"/><rect x="1486.6" y="1707.9" width="20.3" height="24.0" fill="rgb(166,166,166)"/><rect x="1506.5" y="1707.9" width="40.2" height="24.0" fill="rgb(191,191,191)"/><rect x="1546.5" y="1707.9" width="20.3" height="24.0" fill="rgb(217,217,217)"/><rect x="1566.5" y="1707.9" width="20.3" height="24.0" fill="rgb(191,191,191)"/><rect x="1586.4" y="1707.9" width="20.3" height="24.0" fill="rgb(140,140,140)"/><rect x="1606.4" y="1707.9" width="60.2" height="24.0" fill="rgb(166,166,166)"/><rect x="1666.3" y="1707.9" width="20.3" height="24.0" fill="rgb(140,140,140)"/><rect x="1686.3" y="1707.9" width="100.2" height="24.0" fill="rgb(166,166,166)"/><rect x="1346.7" y="1731.5" width="80.3" height="24.0" fill="rgb(166,166,166)"/><rect x="1426.7" y="1731.5" width="20.3" height="24.0" fill="rgb(140,140,140)"/><rect x="1446.6" y="1731.5" width="20.3" height="24.0" fill="rgb(166,166,166)"/><rect x="1466.6" y="1731.5" width="20.3" height="24.0" fill="rgb(217,217,217)"/><rect x="1486.6" y="1731.5" width="40.2" height="24.0" fill="rgb(166,166,166)"/><rect x="1526.5" y="1731.5" width="20.3" height="24.0" fill="rgb(217,217,217)"/><rect x="1546.5" y="1731.5" width="40.2" height="24.0" fill="rgb(166,166,166)"/><rect x="1586.4" y="1731.5" width="20.3" height="24.0" fill="rgb(191,191,191)"/><rect x="1606.4" y="1731.5" width="20.3" height="24.0" fill="rgb(217,217,217)"/><rect x="1626.4" y="1731.5" width="40.2" height="24.0" fill="rgb(191,191,191)"/><rect x="1666.3" y="1731.5" width="20.3" height="24.0" fill="rgb(166,166,166)"/><rect x="1686.3" y="1731.5" width="100.2" height="24.0" fill="rgb(140,140,140)"/><rect x="1346.7" y="1755.2" width="80.3" height="24.0" fill="rgb(166,166,166)"/><rect x="1426.7" y="1755.2" width="20.3" height="24.0" fill="rgb(191,191,191)"/><rect x="1446.6" y="1755.2" width="20.3" height="24.0" fill="rgb(217,217,217)"/><rect x="1466.6" y="1755.2" width="20.3" height="24.0" fill="rgb(191,191,191)"/><rect x="1486.6" y="1755.2" width="20.3" height="24.0" fill="rgb(166,166,166)"/><rect x="1506.5" y="1755.2" width="20.3" height="24.0" fill="rgb(217,217,217)"/><rect x="1526.5" y="1755.2" width="20.3" height="24.0" fill="rgb(166,166,166)"/><rect x="1546.5" y="1755.2" width="60.2" height="24.0" fill="rgb(140,140,140)"/><rect x="1606.4" y="1755.2" width="20.3" height="24.0" fill="rgb(191,191,191)"/><rect x="1626.4" y="1755.2" width="40.2" height="24.0" fill="rgb(217,217,217)"/><rect x="1666.3" y="1755.2" width="20.3" height="24.0" fill="rgb(191,191,191)"/><rect x="1686.3" y="1755.2" width="100.2" height="24.0" fill="rgb(166,166,166)"/><rect x="1346.7" y="1778.9" width="80.3" height="24.0" fill="rgb(166,166,166)"/><rect x="1426.7" y="1778.9" width="20.3" height="24.0" fill="rgb(217,217,217)"/><rect x="1446.6" y="1778.9" width="20.3" height="24.0" fill="rgb(242,242,242)"/><rect x="1466.6" y="1778.9" width="20.3" height="24.0" fill="rgb(166,166,166)"/><rect x="1486.6" y="1778.9" width="20.3" height="24.0" fill="rgb(140,140,140)"/><rect x="1506.5" y="1778.9" width="20.3" height="24.0" fill="rgb(191,191,191)"/><rect x="1526.5" y="1778.9" width="20.3" height="24.0" fill="rgb(140,140,140)"/><rect x="1546.5" y="1778.9" width="20.3" height="24.0" fill="rgb(191,191,191)"/><rect x="1566.5" y="1778.9" width="20.3" height="24.0" fill="rgb(242,242,242)"/><rect x="1586.4" y="1778.9" width="20.3" height="24.0" fill="rgb(191,191,191)"/><rect x="1606.4" y="1778.9" width="20.3" height="24.0" fill="rgb(217,217,217)"/><rect x="1626.4" y="1778.9" width="20.3" height="24.0" fill="rgb(242,242,242)"/><rect x="1646.3" y="1778.9" width="20.3" height="24.0" fill="rgb(191,191,191)"/><rect x="1666.3" y="1778.9" width="120.2" height="24.0" fill="rgb(166,166,166)"/><rect x="1346.7" y="1802.5" width="80.3" height="24.0" fill="rgb(191,191,191)"/><rect x="1426.7" y="1802.5" width="80.2" height="24.0" fill="rgb(217,217,217)"/><rect x="1506.5" y="1802.5" width="40.2" height="24.0" fill="rgb(191,191,191)"/><rect x="1546.5" y="1802.5" width="40.2" height="24.0" fill="rgb(242,242,242)"/><rect x="1586.4" y="1802.5" width="20.3" height="24.0" fill="rgb(217,217,217)"/><rect x="1606.4" y="1802.5" width="20.3" height="24.0" fill="rgb(191,191,191)"/><rect x="1626.4" y="1802.5" width="40.2" height="24.0" fill="rgb(217,217,217)"/><rect x="1666.3" y="1802.5" width="120.2" height="24.0" fill="rgb(191,191,191)"/><rect x="1346.7" y="1826.2" width="120.2" height="24.0" fill="rgb(217,217,217)"/><rect x="1466.6" y="1826.2" width="40.2" height="24.0" fill="rgb(242,242,242)"/><rect x="1506.5" y="1826.2" width="20.3" height="24.0" fill="rgb(217,217,217)"/><rect x="1526.5" y="1826.2" width="20.3" height="24.0" fill="rgb(242,242,242)"/><rect x="1546.5" y="1826.2" width="20.3" height="24.0" fill="rgb(217,217,217)"/><rect x="1566.5" y="1826.2" width="20.3" height="24.0" fill="rgb(242,242,242)"/><rect x="1586.4" y="1826.2" width="200.1" height="24.0" fill="rgb(217,217,217)"/><rect x="1346.7" y="1849.9" width="100.2" height="24.0" fill="rgb(217,217,217)"/><rect x="1446.6" y="1849.9" width="40.2" height="24.0" fill="rgb(191,191,191)"/><rect x="1486.6" y="1849.9" width="60.2" height="24.0" fill="rgb(217,217,217)"/><rect x="1546.5" y="1849.9" width="40.2" height="24.0" fill="rgb(166,166,166)"/><rect x="1586.4" y="1849.9" width="40.2" height="24.0" fill="rgb(191,191,191)"/><rect x="1626.4" y="1849.9" width="20.3" height="24.0" fill="rgb(217,217,217)"/><rect x="1646.3" y="1849.9" width="20.3" height="24.0" fill="rgb(191,191,191)"/><rect x="1666.3" y="1849.9" width="20.3" height="24.0" fill="rgb(166,166,166)"/><rect x="1686.3" y="1849.9" width="100.2" height="24.0" fill="rgb(191,191,191)"/><rect x="1346.7" y="1873.5" width="80.3" height="24.0" fill="rgb(191,191,191)"/><rect x="1426.7" y="1873.5" width="40.2" height="24.0" fill="rgb(166,166,166)"/><rect x="1466.6" y="1873.5" width="20.3" height="24.0" fill="rgb(140,140,140)"/><rect x="1486.6" y="1873.5" width="20.3" height="24.0" fill="rgb(115,115,115)"/><rect x="1506.5" y="1873.5" width="40.2" height="24.0" fill="rgb(191,191,191)"/><rect x="1546.5" y="1873.5" width="20.3" height="24.0" fill="rgb(217,217,217)"/><rect x="1566.5" y="1873.5" width="20.3" height="24.0" fill="rgb(191,191,191)"/><rect x="1586.4" y="1873.5" width="40.2" height="24.0" fill="rgb(217,217,217)"/><rect x="1626.4" y="1873.5" width="20.3" height="24.0" fill="rgb(191,191,191)"/><rect x="1646.3" y="1873.5" width="20.3" height="24.0" fill="rgb(115,115,115)"/><rect x="1666.3" y="1873.5" width="20.3" height="24.0" fill="rgb(140,140,140)"/><rect x="1686.3" y="1873.5" width="20.3" height="24.0" fill="rgb(166,166,166)"/><rect x="1706.2" y="1873.5" width="80.3" height="24.0" fill="rgb(191,191,191)"/><rect x="1346.7" y="1897.2" width="100.2" height="24.0" fill="rgb(191,191,191)"/><rect x="1446.6" y="1897.2" width="60.2" height="24.0" fill="rgb(166,166,166)"/><rect x="1506.5" y="1897.2" width="20.3" height="24.0" fill="rgb(191,191,191)"/><rect x="1526.5" y="1897.2" width="100.1" height="24.0" fill="rgb(166,166,166)"/><rect x="1626.4" y="1897.2" width="20.3" height="24.0" fill="rgb(191,191,191)"/><rect x="1646.3" y="1897.2" width="140.2" height="24.0" fill="rgb(166,166,166)"/><rect x="1346.7" y="1920.9" width="80.3" height="24.0" fill="rgb(166,166,166)"/><rect x="1426.7" y="1920.9" width="20.3" height="24.0" fill="rgb(140,140,140)"/><rect x="1446.6" y="1920.9" width="60.2" height="24.0" fill="rgb(115,115,115)"/><rect x="1506.5" y="1920.9" width="20.3" height="24.0" fill="rgb(140,140,140)"/><rect x="1526.5" y="1920.9" width="20.3" height="24.0" fill="rgb(166,166,166)"/><rect x="1546.5" y="1920.9" width="20.3" height="24.0" fill="rgb(140,140,140)"/><rect x="1566.5" y="1920.9" width="20.3" height="24.0" fill="rgb(166,166,166)"/><rect x="1586.4" y="1920.9" width="120.1" height="24.0" fill="rgb(140,140,140)"/><rect x="1706.2" y="1920.9" width="80.3" height="24.0" fill="rgb(166,166,166)"/><rect x="1346.7" y="1944.5" width="100.2" height="84.0" fill="rgb(217,217,217)"/><rect x="1446.6" y="1944.5" width="20.3" height="84.0" fill="rgb(191,191,191)"/><rect x="1466.6" y="1944.5" width="20.3" height="84.0" fill="rgb(166,166,166)"/><rect x="1486.6" y="1944.5" width="40.2" height="84.0" fill="rgb(140,140,140)"/><rect x="1526.5" y="1944.5" width="20.3" height="84.0" fill="rgb(166,166,166)"/><rect x="1546.5" y="1944.5" width="40.2" height="84.0" fill="rgb(191,191,191)"/><rect x="1586.4" y="1944.5" width="20.3" height="84.0" fill="rgb(166,166,166)"/><rect x="1606.4" y="1944.5" width="20.3" height="84.0" fill="rgb(140,140,140)"/><rect x="1626.4" y="1944.5" width="80.2" height="84.0" fill="rgb(166,166,166)"/><rect x="1706.2" y="1944.5" width="80.3" height="84.0" fill="rgb(191,191,191)"/>
</g>
<use href="#cst" x="1406.7" y="1684.2"/>
</svg>
<rect x="1649.4" y="1921.0" width="69.2" height="38.8" fill="#fff"/>
<text class="s" x="1684.0" y="1949.4" text-anchor="middle">72%</text>
<rect x="1407.6" y="1685.1" width="317.7" height="282.2" fill="none" stroke="#000" stroke-width="1.8"/>
<svg x="1730.0" y="1684.2" width="319.5" height="284.0" viewBox="1730.0 1684.2 319.5 284.0"><g filter="url(#q)">
<rect x="1670.0" y="1624.2" width="439.5" height="404.0" fill="rgb(13,13,13)"/>
<rect x="1670.0" y="1624.2" width="180.1" height="84.0" fill="rgb(89,89,89)"/><rect x="1849.8" y="1624.2" width="40.2" height="84.0" fill="rgb(64,64,64)"/><rect x="1889.8" y="1624.2" width="20.3" height="84.0" fill="rgb(38,38,38)"/><rect x="1909.7" y="1624.2" width="60.2" height="84.0" fill="rgb(64,64,64)"/><rect x="1969.6" y="1624.2" width="140.2" height="84.0" fill="rgb(89,89,89)"/><rect x="1670.0" y="1707.9" width="80.3" height="24.0" fill="rgb(89,89,89)"/><rect x="1750.0" y="1707.9" width="60.2" height="24.0" fill="rgb(64,64,64)"/><rect x="1809.9" y="1707.9" width="20.3" height="24.0" fill="rgb(89,89,89)"/><rect x="1829.8" y="1707.9" width="20.3" height="24.0" fill="rgb(64,64,64)"/><rect x="1849.8" y="1707.9" width="20.3" height="24.0" fill="rgb(38,38,38)"/><rect x="1869.8" y="1707.9" width="20.3" height="24.0" fill="rgb(13,13,13)"/><rect x="1889.8" y="1707.9" width="20.3" height="24.0" fill="rgb(38,38,38)"/><rect x="1909.7" y="1707.9" width="20.3" height="24.0" fill="rgb(89,89,89)"/><rect x="1929.7" y="1707.9" width="40.2" height="24.0" fill="rgb(64,64,64)"/><rect x="1969.6" y="1707.9" width="140.2" height="24.0" fill="rgb(89,89,89)"/><rect x="1670.0" y="1731.5" width="120.2" height="24.0" fill="rgb(64,64,64)"/><rect x="1789.9" y="1731.5" width="20.3" height="24.0" fill="rgb(13,13,13)"/><rect x="1809.9" y="1731.5" width="20.3" height="24.0" fill="rgb(89,89,89)"/><rect x="1829.8" y="1731.5" width="20.3" height="24.0" fill="rgb(64,64,64)"/><rect x="1849.8" y="1731.5" width="20.3" height="24.0" fill="rgb(13,13,13)"/><rect x="1869.8" y="1731.5" width="60.2" height="24.0" fill="rgb(38,38,38)"/><rect x="1929.7" y="1731.5" width="40.2" height="24.0" fill="rgb(13,13,13)"/><rect x="1969.6" y="1731.5" width="20.3" height="24.0" fill="rgb(38,38,38)"/><rect x="1989.6" y="1731.5" width="20.3" height="24.0" fill="rgb(64,64,64)"/><rect x="2009.6" y="1731.5" width="100.2" height="24.0" fill="rgb(89,89,89)"/><rect x="1670.0" y="1755.2" width="80.3" height="24.0" fill="rgb(38,38,38)"/><rect x="1750.0" y="1755.2" width="60.2" height="24.0" fill="rgb(13,13,13)"/><rect x="1809.9" y="1755.2" width="20.3" height="24.0" fill="rgb(38,38,38)"/><rect x="1829.8" y="1755.2" width="20.3" height="24.0" fill="rgb(13,13,13)"/><rect x="1849.8" y="1755.2" width="20.3" height="24.0" fill="rgb(38,38,38)"/><rect x="1869.8" y="1755.2" width="20.3" height="24.0" fill="rgb(89,89,89)"/><rect x="1889.8" y="1755.2" width="40.2" height="24.0" fill="rgb(64,64,64)"/><rect x="1929.7" y="1755.2" width="20.3" height="24.0" fill="rgb(13,13,13)"/><rect x="1949.7" y="1755.2" width="20.3" height="24.0" fill="rgb(38,38,38)"/><rect x="1969.6" y="1755.2" width="20.3" height="24.0" fill="rgb(64,64,64)"/><rect x="1989.6" y="1755.2" width="120.2" height="24.0" fill="rgb(38,38,38)"/><rect x="1670.0" y="1778.9" width="120.2" height="24.0" fill="rgb(13,13,13)"/><rect x="1789.9" y="1778.9" width="20.3" height="24.0" fill="rgb(38,38,38)"/><rect x="1809.9" y="1778.9" width="60.2" height="24.0" fill="rgb(64,64,64)"/><rect x="1869.8" y="1778.9" width="20.3" height="24.0" fill="rgb(38,38,38)"/><rect x="1889.8" y="1778.9" width="60.2" height="24.0" fill="rgb(13,13,13)"/><rect x="1949.7" y="1778.9" width="20.3" height="24.0" fill="rgb(38,38,38)"/><rect x="1969.6" y="1778.9" width="40.2" height="24.0" fill="rgb(13,13,13)"/><rect x="2009.6" y="1778.9" width="20.3" height="24.0" fill="rgb(38,38,38)"/><rect x="2029.5" y="1778.9" width="80.3" height="24.0" fill="rgb(13,13,13)"/><rect x="1670.0" y="1802.5" width="160.1" height="24.0" fill="rgb(38,38,38)"/><rect x="1829.8" y="1802.5" width="20.3" height="24.0" fill="rgb(64,64,64)"/><rect x="1849.8" y="1802.5" width="20.3" height="24.0" fill="rgb(38,38,38)"/><rect x="1869.8" y="1802.5" width="40.2" height="24.0" fill="rgb(13,13,13)"/><rect x="1909.7" y="1802.5" width="40.2" height="24.0" fill="rgb(38,38,38)"/><rect x="1949.7" y="1802.5" width="160.1" height="24.0" fill="rgb(13,13,13)"/><rect x="1670.0" y="1826.2" width="120.2" height="24.0" fill="rgb(38,38,38)"/><rect x="1789.9" y="1826.2" width="319.9" height="24.0" fill="rgb(13,13,13)"/><rect x="1670.0" y="1849.9" width="100.2" height="24.0" fill="rgb(13,13,13)"/><rect x="1769.9" y="1849.9" width="40.2" height="24.0" fill="rgb(38,38,38)"/><rect x="1809.9" y="1849.9" width="60.2" height="24.0" fill="rgb(13,13,13)"/><rect x="1869.8" y="1849.9" width="40.2" height="24.0" fill="rgb(38,38,38)"/><rect x="1909.7" y="1849.9" width="200.1" height="24.0" fill="rgb(13,13,13)"/><rect x="1670.0" y="1873.5" width="80.3" height="24.0" fill="rgb(13,13,13)"/><rect x="1750.0" y="1873.5" width="40.2" height="24.0" fill="rgb(38,38,38)"/><rect x="1789.9" y="1873.5" width="20.3" height="24.0" fill="rgb(64,64,64)"/><rect x="1809.9" y="1873.5" width="20.3" height="24.0" fill="rgb(89,89,89)"/><rect x="1829.8" y="1873.5" width="20.3" height="24.0" fill="rgb(38,38,38)"/><rect x="1849.8" y="1873.5" width="20.3" height="24.0" fill="rgb(13,13,13)"/><rect x="1869.8" y="1873.5" width="20.3" height="24.0" fill="rgb(38,38,38)"/><rect x="1889.8" y="1873.5" width="20.3" height="24.0" fill="rgb(64,64,64)"/><rect x="1909.7" y="1873.5" width="60.2" height="24.0" fill="rgb(13,13,13)"/><rect x="1969.6" y="1873.5" width="20.3" height="24.0" fill="rgb(115,115,115)"/><rect x="1989.6" y="1873.5" width="20.3" height="24.0" fill="rgb(64,64,64)"/><rect x="2009.6" y="1873.5" width="100.2" height="24.0" fill="rgb(13,13,13)"/><rect x="1670.0" y="1897.2" width="80.3" height="24.0" fill="rgb(64,64,64)"/><rect x="1750.0" y="1897.2" width="20.3" height="24.0" fill="rgb(38,38,38)"/><rect x="1769.9" y="1897.2" width="40.2" height="24.0" fill="rgb(64,64,64)"/><rect x="1809.9" y="1897.2" width="40.2" height="24.0" fill="rgb(38,38,38)"/><rect x="1849.8" y="1897.2" width="20.3" height="24.0" fill="rgb(64,64,64)"/><rect x="1869.8" y="1897.2" width="40.2" height="24.0" fill="rgb(89,89,89)"/><rect x="1909.7" y="1897.2" width="40.2" height="24.0" fill="rgb(64,64,64)"/><rect x="1949.7" y="1897.2" width="80.2" height="24.0" fill="rgb(89,89,89)"/><rect x="2029.5" y="1897.2" width="80.3" height="24.0" fill="rgb(64,64,64)"/><rect x="1670.0" y="1920.9" width="100.2" height="24.0" fill="rgb(89,89,89)"/><rect x="1769.9" y="1920.9" width="80.2" height="24.0" fill="rgb(115,115,115)"/><rect x="1849.8" y="1920.9" width="20.3" height="24.0" fill="rgb(89,89,89)"/><rect x="1869.8" y="1920.9" width="40.2" height="24.0" fill="rgb(115,115,115)"/><rect x="1909.7" y="1920.9" width="200.1" height="24.0" fill="rgb(89,89,89)"/><rect x="1670.0" y="1944.5" width="80.3" height="84.0" fill="rgb(38,38,38)"/><rect x="1750.0" y="1944.5" width="20.3" height="84.0" fill="rgb(13,13,13)"/><rect x="1769.9" y="1944.5" width="20.3" height="84.0" fill="rgb(38,38,38)"/><rect x="1789.9" y="1944.5" width="20.3" height="84.0" fill="rgb(64,64,64)"/><rect x="1809.9" y="1944.5" width="40.2" height="84.0" fill="rgb(89,89,89)"/><rect x="1849.8" y="1944.5" width="20.3" height="84.0" fill="rgb(64,64,64)"/><rect x="1869.8" y="1944.5" width="40.2" height="84.0" fill="rgb(89,89,89)"/><rect x="1909.7" y="1944.5" width="20.3" height="84.0" fill="rgb(64,64,64)"/><rect x="1929.7" y="1944.5" width="20.3" height="84.0" fill="rgb(89,89,89)"/><rect x="1949.7" y="1944.5" width="60.2" height="84.0" fill="rgb(64,64,64)"/><rect x="2009.6" y="1944.5" width="100.2" height="84.0" fill="rgb(89,89,89)"/>
</g>
<use href="#cst" x="1730.0" y="1684.2"/>
</svg>
<rect x="1972.7" y="1921.0" width="69.2" height="38.8" fill="#fff"/>
<text class="s" x="2007.3" y="1949.4" text-anchor="middle">15%</text>
<rect x="1730.9" y="1685.1" width="317.7" height="282.2" fill="none" stroke="#000" stroke-width="1.8"/>
<path d="M338.9 1975.6L279.3 1984.5L338.9 1993.4Z" fill="#24409c" stroke="#7a7a7a" stroke-width="0.8"/>
<rect x="338.90" y="1975.6" width="59.65" height="17.8" fill="#4a60b4" stroke="#7a7a7a" stroke-width="0.8"/>
<rect x="398.55" y="1975.6" width="59.65" height="17.8" fill="#6d8fce" stroke="#7a7a7a" stroke-width="0.8"/>
<rect x="458.20" y="1975.6" width="59.65" height="17.8" fill="#a8d0e8" stroke="#7a7a7a" stroke-width="0.8"/>
<rect x="517.85" y="1975.6" width="59.65" height="17.8" fill="#dcebf6" stroke="#7a7a7a" stroke-width="0.8"/>
<rect x="577.50" y="1975.6" width="59.65" height="17.8" fill="#fbdf90" stroke="#7a7a7a" stroke-width="0.8"/>
<rect x="637.15" y="1975.6" width="59.65" height="17.8" fill="#f4a15f" stroke="#7a7a7a" stroke-width="0.8"/>
<rect x="696.80" y="1975.6" width="59.65" height="17.8" fill="#ec5f35" stroke="#7a7a7a" stroke-width="0.8"/>
<rect x="756.45" y="1975.6" width="59.65" height="17.8" fill="#d8332a" stroke="#7a7a7a" stroke-width="0.8"/>
<path d="M816.1 1975.6L875.7 1984.5L816.1 1993.4Z" fill="#a01a20" stroke="#7a7a7a" stroke-width="0.8"/>
<text class="s" x="338.9" y="2018" text-anchor="middle">10</text>
<text class="s" x="398.5" y="2018" text-anchor="middle">20</text>
<text class="s" x="458.2" y="2018" text-anchor="middle">30</text>
<text class="s" x="517.8" y="2018" text-anchor="middle">40</text>
<text class="s" x="577.5" y="2018" text-anchor="middle">50</text>
<text class="s" x="637.1" y="2018" text-anchor="middle">60</text>
<text class="s" x="696.8" y="2018" text-anchor="middle">70</text>
<text class="s" x="756.5" y="2018" text-anchor="middle">80</text>
<text class="s" x="816.1" y="2018" text-anchor="middle">90</text>
<text class="s" x="577.5" y="2040.4" text-anchor="middle">Fractional uncertainty (%)</text>
<path d="M1333.5 1975.6L1273.9 1984.5L1333.5 1993.4Z" fill="#24409c" stroke="#7a7a7a" stroke-width="0.8"/>
<rect x="1333.50" y="1975.6" width="59.65" height="17.8" fill="#4a60b4" stroke="#7a7a7a" stroke-width="0.8"/>
<rect x="1393.15" y="1975.6" width="59.65" height="17.8" fill="#6d8fce" stroke="#7a7a7a" stroke-width="0.8"/>
<rect x="1452.80" y="1975.6" width="59.65" height="17.8" fill="#a8d0e8" stroke="#7a7a7a" stroke-width="0.8"/>
<rect x="1512.45" y="1975.6" width="59.65" height="17.8" fill="#dcebf6" stroke="#7a7a7a" stroke-width="0.8"/>
<rect x="1572.10" y="1975.6" width="59.65" height="17.8" fill="#fbdf90" stroke="#7a7a7a" stroke-width="0.8"/>
<rect x="1631.75" y="1975.6" width="59.65" height="17.8" fill="#f4a15f" stroke="#7a7a7a" stroke-width="0.8"/>
<rect x="1691.40" y="1975.6" width="59.65" height="17.8" fill="#ec5f35" stroke="#7a7a7a" stroke-width="0.8"/>
<rect x="1751.05" y="1975.6" width="59.65" height="17.8" fill="#d8332a" stroke="#7a7a7a" stroke-width="0.8"/>
<path d="M1810.7 1975.6L1870.3 1984.5L1810.7 1993.4Z" fill="#a01a20" stroke="#7a7a7a" stroke-width="0.8"/>
<text class="s" x="1333.5" y="2018" text-anchor="middle">10</text>
<text class="s" x="1393.2" y="2018" text-anchor="middle">20</text>
<text class="s" x="1452.8" y="2018" text-anchor="middle">30</text>
<text class="s" x="1512.5" y="2018" text-anchor="middle">40</text>
<text class="s" x="1572.1" y="2018" text-anchor="middle">50</text>
<text class="s" x="1631.8" y="2018" text-anchor="middle">60</text>
<text class="s" x="1691.4" y="2018" text-anchor="middle">70</text>
<text class="s" x="1751.0" y="2018" text-anchor="middle">80</text>
<text class="s" x="1810.7" y="2018" text-anchor="middle">90</text>
<text class="s" x="1572.1" y="2040.4" text-anchor="middle">Fractional uncertainty (%)</text>
</svg></body></html>
